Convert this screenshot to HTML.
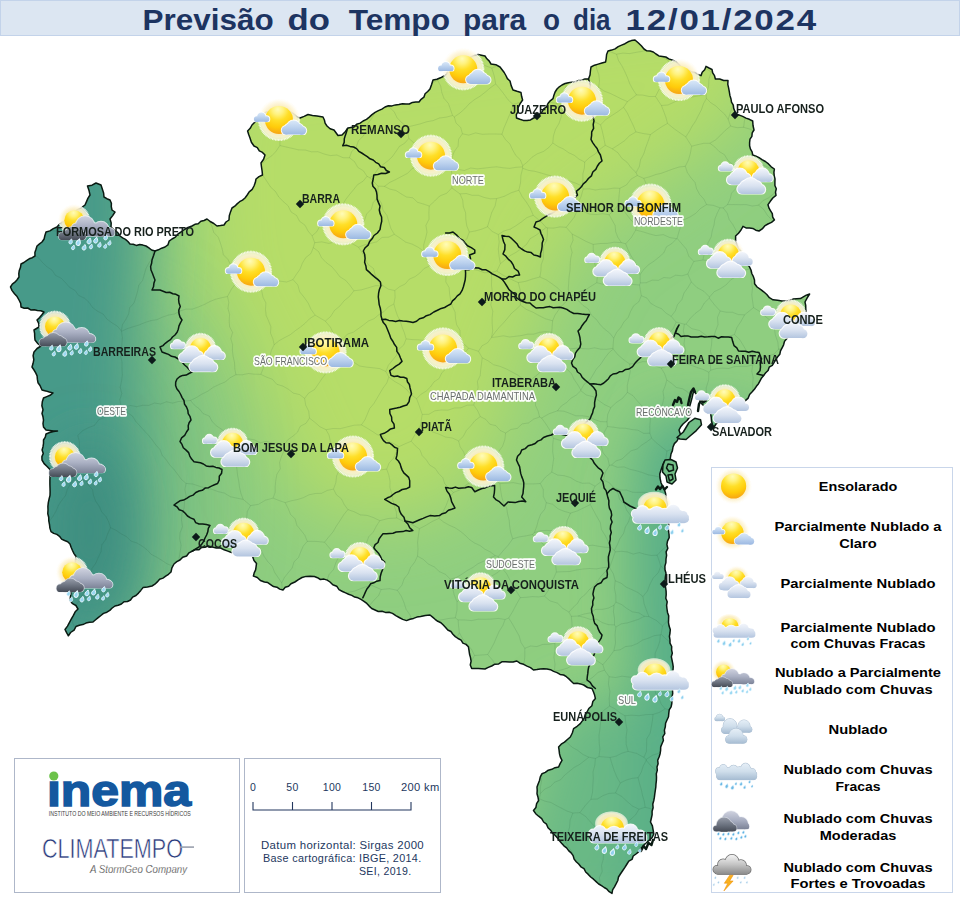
<!DOCTYPE html>
<html><head><meta charset="utf-8"><title>Previsão do Tempo</title>
<style>
html,body{margin:0;padding:0;background:#fff;}
body{width:960px;height:901px;overflow:hidden;font-family:"Liberation Sans",sans-serif;}
svg{display:block}
text{font-family:"Liberation Sans",sans-serif;}
.title{font-weight:bold;font-size:30px;fill:#1d3461;}
.city{font-weight:bold;font-size:12.5px;fill:#16201c;}
.reg{font-size:10.6px;fill:#6a6f6d;stroke:#ffffff;stroke-width:3.6px;stroke-linejoin:round;paint-order:stroke fill;stroke-opacity:.96}
.leg{font-weight:bold;font-size:13.6px;fill:#000}
.sc{font-size:10.5px;fill:#23375e;letter-spacing:.3px}
</style></head><body>
<svg width="960" height="901" viewBox="0 0 960 901">
<defs>
<filter id="blur40" filterUnits="userSpaceOnUse" x="-300" y="-300" width="1560" height="1500"><feGaussianBlur stdDeviation="38"/></filter>
<filter id="blur55" filterUnits="userSpaceOnUse" x="-400" y="-400" width="1760" height="1700"><feGaussianBlur stdDeviation="55"/></filter>
<filter id="blur30" filterUnits="userSpaceOnUse" x="-300" y="-300" width="1560" height="1500"><feGaussianBlur stdDeviation="30"/></filter>
<filter id="blur20" filterUnits="userSpaceOnUse" x="-300" y="-300" width="1560" height="1500"><feGaussianBlur stdDeviation="20"/></filter>
<filter id="blur28" filterUnits="userSpaceOnUse" x="-300" y="-300" width="1560" height="1500"><feGaussianBlur stdDeviation="26"/></filter>
<clipPath id="state"><path d="M96.0,183.0 L101.0,185.0 L102.3,188.9 L103.6,192.9 L104.0,197.0 L106.9,198.7 L110.0,200.0 L111.4,203.2 L111.3,206.7 L112.0,210.0 L115.0,212.0 L112.7,215.6 L110.0,219.0 L111.2,222.9 L111.0,227.0 L114.0,230.0 L117.6,232.4 L120.0,236.0 L122.6,237.9 L125.5,239.4 L127.9,241.5 L130.0,244.0 L133.2,244.3 L136.3,245.4 L139.7,244.6 L142.9,245.1 L146.0,246.0 L148.9,247.9 L151.6,250.0 L155.0,251.0 L158.4,249.8 L161.6,248.2 L165.0,247.0 L167.9,244.9 L169.1,241.2 L172.0,239.0 L175.4,237.1 L177.8,234.1 L181.0,232.0 L184.4,229.5 L188.0,227.4 L192.0,226.0 L194.9,224.3 L198.2,223.7 L200.8,221.3 L204.1,220.5 L207.0,219.0 L210.2,221.5 L213.8,223.5 L217.0,226.0 L220.5,225.6 L224.0,225.0 L226.0,222.0 L229.0,220.0 L229.3,215.8 L230.5,211.9 L232.0,208.0 L234.8,206.2 L237.1,203.9 L239.6,201.7 L242.5,200.1 L245.0,198.0 L247.2,195.0 L249.2,191.8 L252.2,189.3 L254.0,186.0 L255.3,182.6 L256.0,179.0 L259.0,176.6 L262.5,175.0 L262.1,171.0 L261.5,167.0 L261.0,163.0 L263.6,159.3 L265.0,155.0 L262.5,152.4 L259.3,150.8 L257.3,147.6 L254.0,146.0 L251.4,142.3 L250.0,138.0 L248.7,134.5 L247.6,131.0 L250.2,128.3 L252.0,125.0 L256.0,121.0 L257.9,118.2 L260.7,116.3 L263.0,114.0 L266.8,111.9 L271.1,111.6 L275.0,110.0 L278.7,110.9 L282.5,111.1 L286.2,112.1 L290.0,112.0 L293.5,113.7 L296.5,116.3 L300.0,118.0 L304.1,116.4 L308.0,114.5 L312.5,115.4 L317.0,116.0 L323.0,117.0 L324.4,120.0 L325.1,123.2 L327.0,126.0 L330.1,128.7 L334.0,130.0 L336.0,132.7 L338.0,135.5 L342.0,135.0 L345.2,131.7 L348.0,128.0 L354.0,127.0 L356.6,124.3 L360.2,123.1 L363.1,121.0 L366.5,119.4 L369.3,117.1 L372.0,114.6 L375.1,112.4 L378.4,110.6 L381.9,109.1 L385.0,107.0 L388.4,105.7 L392.0,105.9 L395.4,104.9 L398.9,104.4 L402.4,103.8 L406.0,104.0 L409.3,104.0 L412.4,102.4 L415.7,102.1 L419.0,102.0 L421.1,99.3 L423.9,97.2 L425.1,93.7 L427.7,91.5 L430.0,89.0 L431.6,84.5 L433.0,80.0 L436.9,79.3 L440.5,77.8 L444.0,76.0 L446.7,74.0 L448.1,70.9 L450.5,68.7 L452.6,66.2 L455.0,64.0 L458.5,63.2 L461.9,62.0 L464.6,59.4 L467.9,58.1 L471.3,56.8 L474.5,55.4 L478.0,54.5 L481.5,55.2 L485.0,56.0 L486.9,58.8 L489.3,61.1 L491.0,64.0 L495.8,64.7 L500.0,67.0 L502.1,69.7 L504.2,72.5 L505.9,75.5 L507.4,78.6 L510.0,81.0 L511.2,85.6 L513.0,90.0 L517.0,91.3 L521.0,92.5 L521.6,96.3 L522.6,100.0 L520.0,103.9 L518.0,108.0 L518.2,111.4 L516.3,114.6 L516.5,118.0 L519.9,119.3 L523.3,120.4 L527.0,120.6 L530.5,119.9 L533.6,118.0 L537.0,117.0 L539.4,114.4 L542.0,112.0 L543.7,108.9 L546.6,106.8 L548.0,103.5 L550.2,100.8 L553.0,98.6 L553.9,95.2 L555.1,92.0 L557.0,89.0 L559.3,86.8 L562.0,85.0 L565.1,83.5 L568.3,82.7 L571.6,82.2 L575.0,82.0 L578.2,80.6 L581.7,80.3 L585.0,79.0 L588.5,79.0 L590.0,75.1 L590.4,71.0 L591.0,67.0 L594.5,65.2 L598.2,64.1 L601.9,63.0 L605.6,62.0 L606.2,58.3 L606.6,54.5 L608.0,51.0 L611.6,50.1 L615.1,48.9 L618.2,46.6 L621.6,45.1 L625.0,43.7 L628.1,41.8 L631.4,40.6 L635.0,40.0 L638.2,42.8 L641.3,45.7 L644.0,49.0 L646.8,50.8 L650.2,51.0 L653.3,52.0 L656.0,54.0 L658.9,55.9 L662.4,56.4 L665.8,57.0 L668.8,58.9 L672.0,60.0 L675.6,61.3 L678.4,64.0 L681.2,66.7 L684.5,68.5 L688.0,70.0 L691.1,71.7 L694.7,72.5 L697.8,74.1 L701.0,75.7 L702.2,72.3 L704.7,69.7 L706.0,66.4 L709.0,68.0 L712.0,69.5 L712.7,72.8 L714.5,75.7 L715.4,79.0 L719.7,79.0 L723.7,80.5 L728.0,80.4 L727.8,84.3 L728.6,87.9 L729.3,91.6 L729.9,95.4 L731.0,99.0 L731.5,102.2 L733.3,105.1 L733.7,108.4 L734.9,111.4 L735.6,114.6 L739.3,115.1 L742.7,116.4 L746.0,118.1 L749.4,119.3 L752.7,121.0 L753.0,125.5 L754.0,130.0 L752.2,132.9 L751.9,136.3 L750.0,139.1 L749.6,142.5 L749.6,145.8 L750.4,148.9 L752.1,151.8 L752.7,155.0 L756.0,156.1 L759.1,157.7 L762.0,159.6 L765.4,161.5 L768.5,163.9 L771.2,166.8 L774.4,169.0 L773.9,172.3 L774.2,175.6 L775.0,178.9 L774.9,182.2 L774.9,185.5 L776.3,188.8 L775.5,192.1 L776.0,195.4 L772.8,198.0 L770.3,201.3 L768.0,204.7 L768.9,207.9 L770.6,210.8 L772.3,213.7 L772.7,217.1 L774.4,220.0 L771.5,222.4 L767.9,224.0 L764.7,225.9 L762.2,228.9 L759.0,231.0 L755.8,230.2 L752.8,228.4 L749.5,227.9 L746.0,227.9 L743.0,226.4 L741.0,230.0 L738.5,233.2 L735.6,236.0 L735.6,240.6 L737.0,245.0 L738.3,248.5 L741.0,251.2 L741.8,255.0 L744.0,258.0 L745.0,261.4 L747.3,264.1 L749.5,266.9 L751.0,270.0 L751.8,273.5 L753.4,276.7 L754.5,280.1 L754.6,283.8 L757.1,287.0 L760.5,289.3 L763.7,291.8 L766.8,294.5 L769.4,297.7 L773.0,299.8 L777.5,300.3 L782.0,301.0 L785.8,301.1 L789.4,300.6 L793.0,299.1 L796.7,298.7 L800.4,298.6 L803.3,296.8 L806.3,295.1 L809.6,294.0 L807.2,297.9 L805.0,302.0 L805.7,305.3 L805.8,308.7 L806.0,312.0 L804.5,315.7 L801.4,318.3 L800.0,322.0 L798.0,324.9 L795.6,327.6 L793.2,330.3 L790.6,332.7 L789.0,336.0 L786.7,338.7 L784.5,341.4 L783.6,344.8 L782.1,347.8 L780.5,350.9 L779.8,354.3 L777.5,357.0 L775.6,359.7 L774.0,362.6 L772.3,365.4 L769.2,367.2 L768.1,370.5 L765.7,372.8 L763.7,375.4 L761.6,377.9 L760.0,380.8 L758.5,383.7 L756.4,386.3 L754.6,389.0 L752.2,391.8 L749.6,394.5 L748.2,398.1 L745.4,400.6 L742.9,402.8 L740.7,405.5 L738.2,407.7 L735.2,409.4 L733.0,412.0 L730.2,414.0 L727.4,415.9 L724.5,417.6 L722.0,420.0 L718.6,421.4 L716.0,424.0 L713.5,428.0 L712.4,424.5 L711.5,421.0 L711.2,417.0 L710.5,413.0 L708.3,410.5 L706.0,408.0 L703.5,405.5 L701.0,403.0 L699.5,399.8 L697.5,397.0 L695.7,393.5 L694.0,390.0 L692.9,394.0 L692.0,398.0 L690.8,402.5 L689.5,407.0 L689.3,411.6 L690.5,416.0 L687.0,420.5 L683.0,424.0 L680.7,426.8 L679.0,430.0 L681.0,436.0 L678.5,438.1 L677.0,441.0 L674.4,443.6 L673.0,447.0 L672.4,450.6 L671.0,454.0 L670.0,460.0 L664.0,462.0 L662.4,466.0 L661.0,470.0 L659.8,473.9 L660.0,478.0 L661.0,482.7 L663.0,487.0 L664.6,490.2 L665.6,493.5 L666.0,497.0 L666.4,500.4 L667.3,503.7 L667.3,507.1 L667.8,510.4 L667.1,513.8 L667.2,517.2 L667.2,520.6 L668.8,523.9 L668.1,527.3 L668.5,530.7 L669.0,534.0 L669.2,537.6 L667.5,541.1 L666.9,544.6 L667.8,548.3 L666.1,551.8 L666.6,555.4 L666.0,559.0 L665.9,562.6 L664.9,566.1 L665.0,569.7 L666.0,573.3 L665.4,576.9 L665.1,580.4 L665.0,584.0 L665.6,587.5 L666.1,591.1 L666.2,594.7 L665.8,598.3 L667.2,601.8 L666.6,605.4 L667.0,609.0 L667.5,612.4 L668.7,615.8 L668.6,619.3 L668.5,622.7 L669.1,626.1 L670.3,629.5 L670.0,633.0 L669.4,636.4 L670.0,639.8 L670.0,643.2 L671.7,646.5 L671.6,649.8 L672.3,653.2 L671.3,656.7 L672.0,660.0 L672.7,663.3 L673.2,666.7 L673.0,670.1 L672.4,673.5 L672.9,676.8 L674.1,680.1 L674.0,683.5 L674.2,686.9 L672.5,690.0 L672.7,693.4 L672.1,696.7 L672.0,700.0 L671.8,703.5 L671.1,706.8 L669.2,709.9 L668.8,713.4 L668.5,716.8 L667.0,720.0 L665.6,723.2 L665.3,726.7 L664.4,730.1 L664.8,733.7 L662.8,736.8 L663.4,740.5 L662.0,743.7 L660.7,746.9 L660.6,750.4 L660.1,753.7 L659.1,757.0 L657.7,760.2 L658.1,763.8 L657.0,767.0 L657.3,770.4 L656.3,773.7 L656.5,777.1 L656.4,780.5 L656.0,783.8 L655.8,787.2 L655.3,790.5 L654.8,793.8 L654.4,797.2 L653.8,800.5 L652.8,804.0 L653.1,807.7 L652.1,811.2 L652.1,814.9 L651.3,818.5 L650.5,822.0 L652.4,825.8 L653.1,829.9 L653.8,834.0 L652.0,837.8 L648.8,840.6 L645.8,843.1 L643.2,846.1 L640.5,849.0 L638.6,851.9 L636.0,854.0 L633.2,856.0 L632.0,859.4 L628.8,861.1 L627.0,864.0 L624.9,867.4 L622.6,870.7 L620.4,874.0 L618.5,877.0 L617.8,880.5 L616.2,883.7 L614.5,886.8 L612.6,889.8 L612.0,893.4 L609.2,891.7 L607.0,889.2 L604.2,887.5 L601.5,885.7 L598.7,884.0 L596.1,881.6 L593.5,879.2 L590.7,877.0 L588.3,874.4 L585.7,872.0 L584.0,868.7 L580.9,866.8 L578.7,864.0 L576.2,861.7 L574.1,859.1 L573.1,855.6 L571.1,852.9 L568.6,850.6 L566.6,847.9 L563.9,845.8 L561.6,843.3 L559.5,840.8 L557.5,838.1 L555.3,835.5 L552.5,833.2 L550.6,830.2 L548.0,827.7 L546.5,824.2 L543.6,822.0 L541.7,818.6 L538.6,816.2 L535.7,813.7 L533.5,810.5 L535.9,807.5 L536.6,803.7 L538.6,800.5 L538.0,797.2 L537.0,793.8 L537.2,790.4 L537.0,787.0 L538.2,783.7 L539.5,780.4 L540.3,776.8 L542.0,773.7 L545.3,772.4 L548.3,770.2 L551.8,769.3 L555.0,767.7 L558.6,767.0 L560.1,763.6 L562.0,760.4 L560.4,757.2 L559.5,753.9 L559.1,750.4 L558.6,747.0 L561.2,744.2 L564.5,742.1 L567.4,739.5 L570.3,737.0 L572.3,733.0 L573.6,728.6 L577.1,726.3 L580.3,723.6 L582.3,720.9 L584.2,718.1 L585.2,714.8 L587.0,712.0 L588.8,708.5 L591.9,705.7 L592.8,701.6 L595.4,698.6 L594.6,695.1 L593.4,691.8 L592.0,688.5 L587.5,687.5 L583.7,685.0 L580.4,683.9 L577.1,683.3 L573.6,683.5 L571.2,681.2 L568.9,678.9 L566.4,676.7 L563.6,675.0 L560.1,674.4 L557.0,672.6 L553.6,671.4 L550.5,669.7 L547.0,669.0 L543.6,668.7 L540.2,668.9 L536.9,669.6 L533.5,670.0 L530.5,667.6 L527.0,666.1 L523.6,664.3 L519.9,663.2 L516.8,661.0 L513.1,662.0 L509.3,662.0 L505.6,661.8 L501.8,661.8 L498.7,663.9 L494.9,664.2 L491.7,666.0 L488.3,667.4 L485.0,669.0 L481.7,668.7 L478.4,668.4 L475.0,668.6 L471.7,668.5 L470.3,665.0 L471.1,661.2 L470.5,657.6 L469.5,654.0 L469.0,650.4 L468.4,646.8 L466.0,644.4 L462.9,643.1 L461.1,640.1 L458.0,638.5 L455.3,636.6 L452.9,634.2 L450.9,631.5 L447.8,630.0 L445.6,627.5 L443.3,625.1 L440.9,622.7 L437.8,621.3 L435.1,619.3 L432.6,617.1 L430.0,615.0 L425.3,615.4 L420.6,616.5 L416.9,617.1 L413.5,618.4 L410.0,619.3 L406.5,620.6 L402.7,619.4 L399.2,617.5 L395.8,615.6 L392.5,613.4 L389.1,612.3 L385.4,612.4 L382.0,611.2 L378.3,611.5 L375.0,610.0 L371.7,608.5 L369.2,606.1 L366.8,603.4 L364.0,601.3 L361.0,599.4 L358.0,597.8 L354.7,597.1 L351.8,595.4 L348.6,594.2 L345.6,592.9 L342.5,591.5 L339.0,589.6 L336.7,586.2 L332.8,584.8 L330.0,582.0 L327.2,580.1 L324.0,579.1 L320.4,579.5 L317.5,577.7 L314.4,576.5 L310.2,576.3 L306.1,576.4 L302.0,577.5 L298.4,579.7 L294.9,582.0 L291.0,583.8 L288.6,586.2 L285.2,587.3 L283.0,590.0 L279.7,589.1 L276.9,587.2 L273.5,586.6 L270.6,584.6 L267.8,582.6 L264.4,582.0 L260.4,580.5 L257.3,577.5 L253.4,576.0 L254.2,572.9 L255.6,569.9 L256.1,566.7 L256.5,563.5 L254.0,560.6 L252.7,556.8 L250.0,554.0 L246.3,553.7 L242.5,554.2 L238.8,553.9 L235.2,552.8 L231.5,552.5 L227.8,551.1 L224.1,549.8 L220.6,548.0 L216.3,547.9 L212.2,546.9 L208.0,546.0 L205.0,547.3 L201.6,547.4 L199.0,549.8 L195.5,549.6 L192.5,551.0 L189.0,552.8 L186.6,556.0 L182.7,557.2 L180.0,560.0 L176.8,561.7 L174.0,564.0 L171.9,567.8 L171.0,572.0 L168.5,574.3 L165.7,576.2 L163.0,578.1 L159.6,579.3 L157.3,581.9 L154.9,584.2 L152.0,586.0 L147.5,586.9 L143.0,587.6 L140.8,590.4 L138.5,593.1 L136.0,595.5 L132.6,597.1 L130.5,600.0 L127.5,601.5 L124.0,601.7 L121.4,604.0 L118.2,605.2 L115.0,606.0 L112.2,608.0 L109.8,610.4 L106.9,612.2 L103.5,613.4 L100.9,615.5 L98.2,617.6 L95.6,619.8 L93.0,622.0 L89.4,622.2 L86.0,623.1 L82.8,624.6 L79.3,625.2 L76.0,626.5 L74.1,630.1 L70.6,632.5 L68.4,635.8 L66.6,632.7 L65.0,629.5 L67.5,626.1 L69.5,622.4 L71.5,618.7 L73.4,615.3 L75.2,611.8 L78.0,609.0 L75.9,605.5 L72.2,603.4 L70.0,600.0 L70.5,596.4 L70.9,592.8 L71.4,589.2 L72.7,585.8 L73.7,582.3 L73.0,578.5 L74.0,575.0 L74.7,571.3 L74.5,567.6 L75.3,563.9 L75.4,560.2 L76.0,556.5 L74.0,553.6 L72.5,550.5 L71.1,547.3 L70.0,544.0 L67.7,541.7 L64.6,540.5 L61.6,539.1 L59.5,536.3 L56.9,534.4 L53.7,533.4 L51.0,531.6 L49.9,528.1 L49.5,524.5 L48.8,520.9 L48.7,517.2 L47.8,513.7 L48.0,510.0 L47.9,506.3 L48.3,502.6 L49.1,499.0 L50.0,495.4 L50.1,491.7 L50.0,488.0 L49.9,484.3 L49.9,480.6 L50.0,476.9 L49.8,473.2 L50.0,469.5 L47.1,466.5 L44.1,463.6 L42.0,460.0 L41.9,456.6 L43.3,453.4 L42.1,450.0 L43.0,446.7 L43.5,443.3 L43.5,440.0 L45.3,437.2 L46.0,434.0 L49.7,432.5 L53.6,431.6 L57.5,431.0 L53.6,431.1 L49.8,430.5 L46.0,430.0 L43.5,427.0 L43.0,423.6 L43.5,420.2 L43.0,416.8 L42.0,413.5 L43.0,409.7 L41.9,405.7 L42.3,401.8 L43.5,398.0 L46.8,396.6 L50.1,395.3 L53.0,393.0 L49.3,392.0 L45.7,390.9 L42.0,390.0 L40.0,385.5 L38.0,382.7 L37.4,379.4 L37.1,375.9 L35.7,372.9 L34.0,370.0 L32.0,367.0 L33.1,363.3 L33.8,359.6 L33.1,355.7 L34.0,352.0 L37.1,348.5 L41.0,346.0 L37.6,343.4 L35.0,340.0 L34.7,336.7 L34.6,333.3 L34.0,330.0 L39.0,327.0 L38.7,323.3 L37.0,320.0 L39.6,317.6 L41.9,314.8 L44.0,312.0 L40.8,310.8 L37.4,310.6 L34.2,309.8 L30.7,309.9 L27.7,308.0 L24.2,308.2 L21.0,307.0 L20.7,303.3 L19.0,300.0 L17.1,296.6 L14.5,293.7 L12.1,290.6 L10.5,287.0 L12.3,284.2 L14.9,282.2 L17.1,279.7 L19.0,277.0 L18.8,273.6 L19.3,270.4 L20.5,267.3 L21.0,264.0 L23.9,262.5 L26.5,260.6 L29.2,258.8 L32.3,257.7 L35.0,256.0 L34.9,252.5 L36.0,249.3 L37.0,246.0 L39.5,243.9 L42.0,242.0 L44.1,239.0 L44.9,235.4 L46.0,232.0 L49.9,230.9 L53.3,228.6 L57.0,227.0 L59.2,224.5 L61.7,222.4 L65.0,221.2 L67.2,218.8 L69.3,216.1 L71.5,213.6 L74.5,212.1 L77.0,210.0 L81.2,207.8 L85.0,205.0 L86.5,201.6 L88.0,198.1 L90.0,195.0 L89.0,190.4 L87.5,186.0 L92.0,185.2 Z"/></clipPath>
<radialGradient id="gsun" cx=".46" cy=".12" r=".95"><stop offset="0" stop-color="#fffbb8"/><stop offset=".2" stop-color="#fff27e"/><stop offset=".42" stop-color="#ffdf28"/><stop offset=".68" stop-color="#ffcb0a"/><stop offset="1" stop-color="#f4991a"/></radialGradient>
<radialGradient id="gglow"><stop offset="0" stop-color="#fbebb4" stop-opacity="1"/><stop offset=".66" stop-color="#fbedbe" stop-opacity=".96"/><stop offset=".8" stop-color="#fdf4d6" stop-opacity=".9"/><stop offset=".93" stop-color="#fffaea" stop-opacity=".7"/><stop offset="1" stop-color="#ffffff" stop-opacity="0"/></radialGradient>
<linearGradient id="gcl" x1="0" y1="0" x2="0" y2="1"><stop offset="0" stop-color="#e6eefa"/><stop offset=".55" stop-color="#cfdcf0"/><stop offset="1" stop-color="#a9bfe2"/></linearGradient>
<linearGradient id="gclb" x1="0" y1="0" x2="0" y2="1"><stop offset="0" stop-color="#d3e4f6"/><stop offset=".55" stop-color="#bdd3ee"/><stop offset="1" stop-color="#9fbce3"/></linearGradient>
<linearGradient id="ggrey" x1="0" y1="0" x2="0" y2="1"><stop offset="0" stop-color="#c9cdda"/><stop offset=".55" stop-color="#a9aec0"/><stop offset="1" stop-color="#7f8598"/></linearGradient>
<linearGradient id="gdark" x1="0" y1="0" x2="0" y2="1"><stop offset="0" stop-color="#9097a4"/><stop offset=".6" stop-color="#6c7380"/><stop offset="1" stop-color="#4a505b"/></linearGradient>
<radialGradient id="gstorm" cx=".5" cy=".4" r=".7"><stop offset="0" stop-color="#f2f2f2"/><stop offset=".6" stop-color="#bdbdbd"/><stop offset="1" stop-color="#7c7c7c"/></radialGradient>
<linearGradient id="pg1" gradientUnits="userSpaceOnUse" x1="0" y1="-7.40" x2="0" y2="1.70"><stop offset="0" stop-color="#d9e8f8"/><stop offset=".5" stop-color="#bcd2ee"/><stop offset="1" stop-color="#9cb9e2"/></linearGradient><clipPath id="pc2"><rect x="-80" y="-80" width="160" height="82.20"/></clipPath><linearGradient id="pg3" gradientUnits="userSpaceOnUse" x1="0" y1="0.50" x2="0" y2="14.60"><stop offset="0" stop-color="#d9e8f8"/><stop offset=".5" stop-color="#bcd2ee"/><stop offset="1" stop-color="#9cb9e2"/></linearGradient><clipPath id="pc4"><rect x="-80" y="-80" width="160" height="95.10"/></clipPath><linearGradient id="pg5" gradientUnits="userSpaceOnUse" x1="0" y1="-4.95" x2="0" y2="3.80"><stop offset="0" stop-color="#f2f5fb"/><stop offset=".5" stop-color="#d9e2f0"/><stop offset="1" stop-color="#b3c5df"/></linearGradient><clipPath id="pc6"><rect x="-80" y="-80" width="160" height="84.30"/></clipPath><linearGradient id="pg7" gradientUnits="userSpaceOnUse" x1="0" y1="1.40" x2="0" y2="17.50"><stop offset="0" stop-color="#f2f5fb"/><stop offset=".5" stop-color="#d9e2f0"/><stop offset="1" stop-color="#b3c5df"/></linearGradient><clipPath id="pc8"><rect x="-80" y="-80" width="160" height="98.05"/></clipPath><linearGradient id="pg9" gradientUnits="userSpaceOnUse" x1="0" y1="1.25" x2="0" y2="14.60"><stop offset="0" stop-color="#f2f5fb"/><stop offset=".5" stop-color="#d9e2f0"/><stop offset="1" stop-color="#b3c5df"/></linearGradient><clipPath id="pc10"><rect x="-80" y="-80" width="160" height="95.15"/></clipPath><linearGradient id="pg11" gradientUnits="userSpaceOnUse" x1="0" y1="10.90" x2="0" y2="26.70"><stop offset="0" stop-color="#f2f5fb"/><stop offset=".5" stop-color="#d9e2f0"/><stop offset="1" stop-color="#b3c5df"/></linearGradient><clipPath id="pc12"><rect x="-80" y="-80" width="160" height="107.25"/></clipPath><linearGradient id="pg13" gradientUnits="userSpaceOnUse" x1="0" y1="0.20" x2="0" y2="18.75"><stop offset="0" stop-color="#f2f5fb"/><stop offset=".5" stop-color="#d9e2f0"/><stop offset="1" stop-color="#b3c5df"/></linearGradient><clipPath id="pc14"><rect x="-80" y="-80" width="160" height="99.30"/></clipPath><linearGradient id="pg15" gradientUnits="userSpaceOnUse" x1="0" y1="-2.10" x2="0" y2="17.90"><stop offset="0" stop-color="#cfd2df"/><stop offset=".5" stop-color="#aab0c3"/><stop offset="1" stop-color="#7d8498"/></linearGradient><clipPath id="pc16"><rect x="-80" y="-80" width="160" height="98.35"/></clipPath><linearGradient id="pg17" gradientUnits="userSpaceOnUse" x1="0" y1="8.40" x2="0" y2="21.65"><stop offset="0" stop-color="#959ba8"/><stop offset=".5" stop-color="#6e7582"/><stop offset="1" stop-color="#474d58"/></linearGradient><clipPath id="pc18"><rect x="-80" y="-80" width="160" height="102.05"/></clipPath><linearGradient id="pg19" gradientUnits="userSpaceOnUse" x1="0" y1="-4.95" x2="0" y2="3.80"><stop offset="0" stop-color="#f2f5fb"/><stop offset=".5" stop-color="#d9e2f0"/><stop offset="1" stop-color="#b3c5df"/></linearGradient><clipPath id="pc20"><rect x="-80" y="-80" width="160" height="84.30"/></clipPath><linearGradient id="pg21" gradientUnits="userSpaceOnUse" x1="0" y1="1.40" x2="0" y2="17.50"><stop offset="0" stop-color="#f2f5fb"/><stop offset=".5" stop-color="#d9e2f0"/><stop offset="1" stop-color="#b3c5df"/></linearGradient><clipPath id="pc22"><rect x="-80" y="-80" width="160" height="98.05"/></clipPath><linearGradient id="pg23" gradientUnits="userSpaceOnUse" x1="0" y1="1.25" x2="0" y2="14.60"><stop offset="0" stop-color="#f2f5fb"/><stop offset=".5" stop-color="#d9e2f0"/><stop offset="1" stop-color="#b3c5df"/></linearGradient><clipPath id="pc24"><rect x="-80" y="-80" width="160" height="95.15"/></clipPath><linearGradient id="pg25" gradientUnits="userSpaceOnUse" x1="0" y1="10.90" x2="0" y2="26.70"><stop offset="0" stop-color="#f2f5fb"/><stop offset=".5" stop-color="#d9e2f0"/><stop offset="1" stop-color="#b3c5df"/></linearGradient><clipPath id="pc26"><rect x="-80" y="-80" width="160" height="107.25"/></clipPath><linearGradient id="pg27" gradientUnits="userSpaceOnUse" x1="0" y1="0.20" x2="0" y2="18.75"><stop offset="0" stop-color="#f2f5fb"/><stop offset=".5" stop-color="#d9e2f0"/><stop offset="1" stop-color="#b3c5df"/></linearGradient><clipPath id="pc28"><rect x="-80" y="-80" width="160" height="99.30"/></clipPath><linearGradient id="pg29" gradientUnits="userSpaceOnUse" x1="0" y1="-2.10" x2="0" y2="17.90"><stop offset="0" stop-color="#cfd2df"/><stop offset=".5" stop-color="#aab0c3"/><stop offset="1" stop-color="#7d8498"/></linearGradient><clipPath id="pc30"><rect x="-80" y="-80" width="160" height="98.35"/></clipPath><linearGradient id="pg31" gradientUnits="userSpaceOnUse" x1="0" y1="8.40" x2="0" y2="21.65"><stop offset="0" stop-color="#959ba8"/><stop offset=".5" stop-color="#6e7582"/><stop offset="1" stop-color="#474d58"/></linearGradient><clipPath id="pc32"><rect x="-80" y="-80" width="160" height="102.05"/></clipPath><linearGradient id="pg33" gradientUnits="userSpaceOnUse" x1="0" y1="-12.00" x2="0" y2="13.50"><stop offset="0" stop-color="#f4f4f4"/><stop offset=".5" stop-color="#c4c4c4"/><stop offset="1" stop-color="#8a8a8a"/></linearGradient><clipPath id="pc34"><rect x="-80" y="-80" width="160" height="94.00"/></clipPath><linearGradient id="pg35" gradientUnits="userSpaceOnUse" x1="0" y1="-14.70" x2="0" y2="-8.00"><stop offset="0" stop-color="#e6eff7"/><stop offset=".5" stop-color="#cfdeeb"/><stop offset="1" stop-color="#a6bcd2"/></linearGradient><clipPath id="pc36"><rect x="-80" y="-80" width="160" height="72.22"/></clipPath><linearGradient id="pg37" gradientUnits="userSpaceOnUse" x1="0" y1="-10.30" x2="0" y2="4.80"><stop offset="0" stop-color="#e6eff7"/><stop offset=".5" stop-color="#cfdeeb"/><stop offset="1" stop-color="#a6bcd2"/></linearGradient><clipPath id="pc38"><rect x="-80" y="-80" width="160" height="85.02"/></clipPath><linearGradient id="pg39" gradientUnits="userSpaceOnUse" x1="0" y1="-9.00" x2="0" y2="3.50"><stop offset="0" stop-color="#e6eff7"/><stop offset=".5" stop-color="#cfdeeb"/><stop offset="1" stop-color="#a6bcd2"/></linearGradient><clipPath id="pc40"><rect x="-80" y="-80" width="160" height="83.72"/></clipPath><linearGradient id="pg41" gradientUnits="userSpaceOnUse" x1="0" y1="-0.50" x2="0" y2="14.50"><stop offset="0" stop-color="#e6eff7"/><stop offset=".5" stop-color="#cfdeeb"/><stop offset="1" stop-color="#a6bcd2"/></linearGradient><clipPath id="pc42"><rect x="-80" y="-80" width="160" height="94.72"/></clipPath><linearGradient id="pg43" gradientUnits="userSpaceOnUse" x1="0" y1="0.20" x2="0" y2="18.75"><stop offset="0" stop-color="#e6eff7"/><stop offset=".5" stop-color="#cfdeeb"/><stop offset="1" stop-color="#a6bcd2"/></linearGradient><clipPath id="pc44"><rect x="-80" y="-80" width="160" height="99.05"/></clipPath><linearGradient id="pg45" gradientUnits="userSpaceOnUse" x1="0" y1="-11.00" x2="0" y2="7.00"><stop offset="0" stop-color="#cfd2df"/><stop offset=".5" stop-color="#aab0c3"/><stop offset="1" stop-color="#7d8498"/></linearGradient><clipPath id="pc46"><rect x="-80" y="-80" width="160" height="87.35"/></clipPath><linearGradient id="pg47" gradientUnits="userSpaceOnUse" x1="0" y1="-4.50" x2="0" y2="9.40"><stop offset="0" stop-color="#959ba8"/><stop offset=".5" stop-color="#6e7582"/><stop offset="1" stop-color="#474d58"/></linearGradient><clipPath id="pc48"><rect x="-80" y="-80" width="160" height="89.75"/></clipPath>
<g id="t1"><circle cx="0" cy="0" r="17" fill="url(#gglow)"/><circle cx="0" cy="0" r="16.1" fill="none" stroke="#fffdf4" stroke-width="2" stroke-dasharray="0.8 0.7" stroke-opacity=".85"/><circle cx="0" cy="0" r="12" fill="url(#gsun)"/></g><g id="t2"><circle cx="0" cy="0" r="21" fill="url(#gglow)"/><circle cx="0" cy="0" r="20.1" fill="none" stroke="#fffdf4" stroke-width="2" stroke-dasharray="0.8 0.7" stroke-opacity=".85"/><circle cx="0" cy="0" r="14" fill="url(#gsun)"/><g clip-path="url(#pc2)"><g fill="#ffffff" stroke="#ffffff" stroke-width="2.00" opacity="0.92"><circle cx="-17.60" cy="-3.20" r="4.20"/><circle cx="-22.30" cy="-0.90" r="2.90"/><circle cx="-12.60" cy="-0.90" r="2.90"/><rect x="-23.60" y="-2.12" width="12.31" height="3.82" rx="2.37" ry="2.37"/></g><g fill="url(#pg1)"><circle cx="-17.60" cy="-3.20" r="4.20"/><circle cx="-22.30" cy="-0.90" r="2.90"/><circle cx="-12.60" cy="-0.90" r="2.90"/><rect x="-23.60" y="-2.12" width="12.31" height="3.82" rx="2.37" ry="2.37"/></g></g><g clip-path="url(#pc4)"><g fill="#ffffff" stroke="#ffffff" stroke-width="2.00" opacity="0.92"><circle cx="14.60" cy="7.20" r="6.70"/><circle cx="7.00" cy="10.30" r="4.20"/><circle cx="23.00" cy="10.60" r="4.20"/><circle cx="10.30" cy="8.20" r="4.50"/><circle cx="19.30" cy="8.50" r="4.80"/><rect x="4.98" y="8.68" width="20.04" height="5.92" rx="3.67" ry="3.67"/></g><g fill="url(#pg3)"><circle cx="14.60" cy="7.20" r="6.70"/><circle cx="7.00" cy="10.30" r="4.20"/><circle cx="23.00" cy="10.60" r="4.20"/><circle cx="10.30" cy="8.20" r="4.50"/><circle cx="19.30" cy="8.50" r="4.80"/><rect x="4.98" y="8.68" width="20.04" height="5.92" rx="3.67" ry="3.67"/></g></g></g><g id="t3"><circle cx="0" cy="3.6" r="15.6" fill="url(#gglow)"/><circle cx="0" cy="3.6" r="14.7" fill="none" stroke="#fffdf4" stroke-width="2" stroke-dasharray="0.8 0.7" stroke-opacity=".85"/><circle cx="0" cy="3.6" r="10.6" fill="url(#gsun)"/><g clip-path="url(#pc6)"><g fill="#ffffff" stroke="#ffffff" stroke-width="2.00" opacity="0.92"><circle cx="-23.35" cy="-1.20" r="3.75"/><circle cx="-18.80" cy="0.70" r="3.10"/><circle cx="-27.10" cy="1.10" r="2.60"/><rect x="-28.35" y="0.12" width="10.81" height="3.67" rx="2.28" ry="2.28"/></g><g fill="url(#pg5)"><circle cx="-23.35" cy="-1.20" r="3.75"/><circle cx="-18.80" cy="0.70" r="3.10"/><circle cx="-27.10" cy="1.10" r="2.60"/><rect x="-28.35" y="0.12" width="10.81" height="3.67" rx="2.28" ry="2.28"/></g></g><g clip-path="url(#pc8)"><g fill="#ffffff" stroke="#ffffff" stroke-width="2.20" opacity="0.92"><circle cx="-8.80" cy="8.40" r="7.00"/><circle cx="-17.10" cy="12.70" r="4.40"/><circle cx="-13.00" cy="10.00" r="5.20"/><circle cx="-2.50" cy="11.50" r="5.00"/><rect x="-19.41" y="10.74" width="19.21" height="6.76" rx="4.19" ry="4.19"/></g><g fill="url(#pg7)"><circle cx="-8.80" cy="8.40" r="7.00"/><circle cx="-17.10" cy="12.70" r="4.40"/><circle cx="-13.00" cy="10.00" r="5.20"/><circle cx="-2.50" cy="11.50" r="5.00"/><rect x="-19.41" y="10.74" width="19.21" height="6.76" rx="4.19" ry="4.19"/></g></g><g clip-path="url(#pc10)"><g fill="#ffffff" stroke="#ffffff" stroke-width="2.20" opacity="0.92"><circle cx="13.70" cy="7.95" r="6.70"/><circle cx="20.40" cy="11.00" r="3.75"/><circle cx="8.70" cy="10.00" r="4.40"/><rect x="6.79" y="8.99" width="15.52" height="5.61" rx="3.48" ry="3.48"/></g><g fill="url(#pg9)"><circle cx="13.70" cy="7.95" r="6.70"/><circle cx="20.40" cy="11.00" r="3.75"/><circle cx="8.70" cy="10.00" r="4.40"/><rect x="6.79" y="8.99" width="15.52" height="5.61" rx="3.48" ry="3.48"/></g></g><g clip-path="url(#pc12)"><g fill="#ffffff" stroke="#ffffff" stroke-width="2.20" opacity="0.92"><circle cx="2.10" cy="18.40" r="7.50"/><circle cx="-6.30" cy="21.90" r="4.80"/><circle cx="12.10" cy="22.30" r="4.50"/><circle cx="-2.50" cy="19.50" r="6.00"/><circle cx="7.50" cy="19.80" r="6.00"/><rect x="-8.56" y="20.06" width="22.93" height="6.64" rx="4.11" ry="4.11"/></g><g fill="url(#pg11)"><circle cx="2.10" cy="18.40" r="7.50"/><circle cx="-6.30" cy="21.90" r="4.80"/><circle cx="12.10" cy="22.30" r="4.50"/><circle cx="-2.50" cy="19.50" r="6.00"/><circle cx="7.50" cy="19.80" r="6.00"/><rect x="-8.56" y="20.06" width="22.93" height="6.64" rx="4.11" ry="4.11"/></g></g></g><g id="t4"><ellipse cx="0.2" cy="-0.8" rx="17" ry="12.5" fill="url(#gglow)"/><circle cx="1" cy="4" r="11.6" fill="url(#gsun)"/><g clip-path="url(#pc14)"><g fill="#ffffff" stroke="#ffffff" stroke-width="2.20" opacity="0.92"><circle cx="-11.50" cy="7.50" r="5.80"/><circle cx="-18.20" cy="9.20" r="3.90"/><circle cx="2.70" cy="10.00" r="7.50"/><circle cx="19.30" cy="6.90" r="6.70"/><circle cx="29.30" cy="10.60" r="4.20"/><circle cx="32.30" cy="12.60" r="2.60"/><circle cx="11.00" cy="10.50" r="6.20"/><circle cx="-4.50" cy="11.00" r="5.80"/><circle cx="25.00" cy="10.50" r="5.00"/><rect x="-20.86" y="10.96" width="55.81" height="7.79" rx="4.83" ry="4.83"/></g><g fill="url(#pg13)"><circle cx="-11.50" cy="7.50" r="5.80"/><circle cx="-18.20" cy="9.20" r="3.90"/><circle cx="2.70" cy="10.00" r="7.50"/><circle cx="19.30" cy="6.90" r="6.70"/><circle cx="29.30" cy="10.60" r="4.20"/><circle cx="32.30" cy="12.60" r="2.60"/><circle cx="11.00" cy="10.50" r="6.20"/><circle cx="-4.50" cy="11.00" r="5.80"/><circle cx="25.00" cy="10.50" r="5.00"/><rect x="-20.86" y="10.96" width="55.81" height="7.79" rx="4.83" ry="4.83"/></g></g><path transform="translate(-15.0,23.5) scale(1.0)" d="M1.6,-3.4 C2.5,-1 3.1,0.4 1.6,1.8 C0.2,2.9 -1.9,1.7 -1.3,-0.3 C-0.8,-1.7 0.6,-2.3 1.6,-3.4 Z" fill="#8fd0ee" stroke="#e8f7ff" stroke-width=".9"/><path transform="translate(-7.5,26.5) scale(1.15)" d="M1.6,-3.4 C2.5,-1 3.1,0.4 1.6,1.8 C0.2,2.9 -1.9,1.7 -1.3,-0.3 C-0.8,-1.7 0.6,-2.3 1.6,-3.4 Z" fill="#8fd0ee" stroke="#e8f7ff" stroke-width=".9"/><path transform="translate(0.5,28.5) scale(1.15)" d="M1.6,-3.4 C2.5,-1 3.1,0.4 1.6,1.8 C0.2,2.9 -1.9,1.7 -1.3,-0.3 C-0.8,-1.7 0.6,-2.3 1.6,-3.4 Z" fill="#8fd0ee" stroke="#e8f7ff" stroke-width=".9"/><path transform="translate(5.5,23.0) scale(0.8)" d="M1.6,-3.4 C2.5,-1 3.1,0.4 1.6,1.8 C0.2,2.9 -1.9,1.7 -1.3,-0.3 C-0.8,-1.7 0.6,-2.3 1.6,-3.4 Z" fill="#8fd0ee" stroke="#e8f7ff" stroke-width=".9"/><path transform="translate(12.5,23.5) scale(1.0)" d="M1.6,-3.4 C2.5,-1 3.1,0.4 1.6,1.8 C0.2,2.9 -1.9,1.7 -1.3,-0.3 C-0.8,-1.7 0.6,-2.3 1.6,-3.4 Z" fill="#8fd0ee" stroke="#e8f7ff" stroke-width=".9"/><path transform="translate(17.5,28.0) scale(0.9)" d="M1.6,-3.4 C2.5,-1 3.1,0.4 1.6,1.8 C0.2,2.9 -1.9,1.7 -1.3,-0.3 C-0.8,-1.7 0.6,-2.3 1.6,-3.4 Z" fill="#8fd0ee" stroke="#e8f7ff" stroke-width=".9"/><path transform="translate(24.5,20.5) scale(0.8)" d="M1.6,-3.4 C2.5,-1 3.1,0.4 1.6,1.8 C0.2,2.9 -1.9,1.7 -1.3,-0.3 C-0.8,-1.7 0.6,-2.3 1.6,-3.4 Z" fill="#8fd0ee" stroke="#e8f7ff" stroke-width=".9"/><path transform="translate(28.0,26.5) scale(0.7)" d="M1.6,-3.4 C2.5,-1 3.1,0.4 1.6,1.8 C0.2,2.9 -1.9,1.7 -1.3,-0.3 C-0.8,-1.7 0.6,-2.3 1.6,-3.4 Z" fill="#8fd0ee" stroke="#e8f7ff" stroke-width=".9"/></g><g id="t5"><circle cx="0" cy="2" r="15.8" fill="url(#gglow)"/><circle cx="0" cy="2" r="14.9" fill="none" stroke="#fffdf4" stroke-width="2" stroke-dasharray="0.8 0.7" stroke-opacity=".85"/><circle cx="0" cy="2" r="10" fill="url(#gsun)"/><g clip-path="url(#pc16)"><g fill="#eef0f6" stroke="#eef0f6" stroke-width="1.80" opacity="0.85"><circle cx="10.80" cy="7.10" r="9.20"/><circle cx="26.70" cy="11.00" r="7.60"/><circle cx="36.70" cy="14.40" r="3.60"/><circle cx="1.70" cy="9.50" r="4.20"/><circle cx="19.00" cy="11.00" r="6.30"/><rect x="-1.16" y="9.50" width="40.73" height="8.40" rx="5.21" ry="5.21"/></g><g fill="url(#pg15)"><circle cx="10.80" cy="7.10" r="9.20"/><circle cx="26.70" cy="11.00" r="7.60"/><circle cx="36.70" cy="14.40" r="3.60"/><circle cx="1.70" cy="9.50" r="4.20"/><circle cx="19.00" cy="11.00" r="6.30"/><rect x="-1.16" y="9.50" width="40.73" height="8.40" rx="5.21" ry="5.21"/></g></g><g clip-path="url(#pc18)"><g fill="#d5d9e0" stroke="#d5d9e0" stroke-width="1.60" opacity="0.8"><circle cx="-1.70" cy="15.40" r="7.00"/><circle cx="-11.70" cy="18.00" r="3.90"/><circle cx="7.50" cy="17.70" r="4.20"/><circle cx="-7.00" cy="16.80" r="5.20"/><circle cx="3.50" cy="16.50" r="5.50"/><rect x="-13.60" y="16.09" width="23.00" height="5.56" rx="3.45" ry="3.45"/></g><g fill="url(#pg17)"><circle cx="-1.70" cy="15.40" r="7.00"/><circle cx="-11.70" cy="18.00" r="3.90"/><circle cx="7.50" cy="17.70" r="4.20"/><circle cx="-7.00" cy="16.80" r="5.20"/><circle cx="3.50" cy="16.50" r="5.50"/><rect x="-13.60" y="16.09" width="23.00" height="5.56" rx="3.45" ry="3.45"/></g></g><path transform="translate(-4.2,23.7) scale(0.9)" d="M1.6,-3.4 C2.5,-1 3.1,0.4 1.6,1.8 C0.2,2.9 -1.9,1.7 -1.3,-0.3 C-0.8,-1.7 0.6,-2.3 1.6,-3.4 Z" fill="#9ad8f2" stroke="#e8f7ff" stroke-width=".9"/><path transform="translate(3.3,24.6) scale(1.15)" d="M1.6,-3.4 C2.5,-1 3.1,0.4 1.6,1.8 C0.2,2.9 -1.9,1.7 -1.3,-0.3 C-0.8,-1.7 0.6,-2.3 1.6,-3.4 Z" fill="#9ad8f2" stroke="#e8f7ff" stroke-width=".9"/><path transform="translate(-1.7,29.6) scale(0.85)" d="M1.6,-3.4 C2.5,-1 3.1,0.4 1.6,1.8 C0.2,2.9 -1.9,1.7 -1.3,-0.3 C-0.8,-1.7 0.6,-2.3 1.6,-3.4 Z" fill="#9ad8f2" stroke="#e8f7ff" stroke-width=".9"/><path transform="translate(9.2,29.6) scale(1.0)" d="M1.6,-3.4 C2.5,-1 3.1,0.4 1.6,1.8 C0.2,2.9 -1.9,1.7 -1.3,-0.3 C-0.8,-1.7 0.6,-2.3 1.6,-3.4 Z" fill="#9ad8f2" stroke="#e8f7ff" stroke-width=".9"/><path transform="translate(14.2,23.3) scale(1.05)" d="M1.6,-3.4 C2.5,-1 3.1,0.4 1.6,1.8 C0.2,2.9 -1.9,1.7 -1.3,-0.3 C-0.8,-1.7 0.6,-2.3 1.6,-3.4 Z" fill="#9ad8f2" stroke="#e8f7ff" stroke-width=".9"/><path transform="translate(20.8,22.5) scale(1.05)" d="M1.6,-3.4 C2.5,-1 3.1,0.4 1.6,1.8 C0.2,2.9 -1.9,1.7 -1.3,-0.3 C-0.8,-1.7 0.6,-2.3 1.6,-3.4 Z" fill="#9ad8f2" stroke="#e8f7ff" stroke-width=".9"/><path transform="translate(16.2,28.7) scale(0.85)" d="M1.6,-3.4 C2.5,-1 3.1,0.4 1.6,1.8 C0.2,2.9 -1.9,1.7 -1.3,-0.3 C-0.8,-1.7 0.6,-2.3 1.6,-3.4 Z" fill="#9ad8f2" stroke="#e8f7ff" stroke-width=".9"/><path transform="translate(24.6,27.0) scale(0.9)" d="M1.6,-3.4 C2.5,-1 3.1,0.4 1.6,1.8 C0.2,2.9 -1.9,1.7 -1.3,-0.3 C-0.8,-1.7 0.6,-2.3 1.6,-3.4 Z" fill="#9ad8f2" stroke="#e8f7ff" stroke-width=".9"/><path transform="translate(30.8,19.6) scale(0.95)" d="M1.6,-3.4 C2.5,-1 3.1,0.4 1.6,1.8 C0.2,2.9 -1.9,1.7 -1.3,-0.3 C-0.8,-1.7 0.6,-2.3 1.6,-3.4 Z" fill="#9ad8f2" stroke="#e8f7ff" stroke-width=".9"/><path transform="translate(30.4,28.3) scale(0.8)" d="M1.6,-3.4 C2.5,-1 3.1,0.4 1.6,1.8 C0.2,2.9 -1.9,1.7 -1.3,-0.3 C-0.8,-1.7 0.6,-2.3 1.6,-3.4 Z" fill="#9ad8f2" stroke="#e8f7ff" stroke-width=".9"/><path transform="translate(34.6,25.0) scale(0.85)" d="M1.6,-3.4 C2.5,-1 3.1,0.4 1.6,1.8 C0.2,2.9 -1.9,1.7 -1.3,-0.3 C-0.8,-1.7 0.6,-2.3 1.6,-3.4 Z" fill="#9ad8f2" stroke="#e8f7ff" stroke-width=".9"/></g><g id="t6"><g clip-path="url(#pc20)"><g fill="#ffffff" stroke="#ffffff" stroke-width="2.00" opacity="0.92"><circle cx="-23.35" cy="-1.20" r="3.75"/><circle cx="-18.80" cy="0.70" r="3.10"/><circle cx="-27.10" cy="1.10" r="2.60"/><rect x="-28.35" y="0.12" width="10.81" height="3.67" rx="2.28" ry="2.28"/></g><g fill="url(#pg19)"><circle cx="-23.35" cy="-1.20" r="3.75"/><circle cx="-18.80" cy="0.70" r="3.10"/><circle cx="-27.10" cy="1.10" r="2.60"/><rect x="-28.35" y="0.12" width="10.81" height="3.67" rx="2.28" ry="2.28"/></g></g><g clip-path="url(#pc22)"><g fill="#ffffff" stroke="#ffffff" stroke-width="2.20" opacity="0.92"><circle cx="-8.80" cy="8.40" r="7.00"/><circle cx="-17.10" cy="12.70" r="4.40"/><circle cx="-13.00" cy="10.00" r="5.20"/><circle cx="-2.50" cy="11.50" r="5.00"/><rect x="-19.41" y="10.74" width="19.21" height="6.76" rx="4.19" ry="4.19"/></g><g fill="url(#pg21)"><circle cx="-8.80" cy="8.40" r="7.00"/><circle cx="-17.10" cy="12.70" r="4.40"/><circle cx="-13.00" cy="10.00" r="5.20"/><circle cx="-2.50" cy="11.50" r="5.00"/><rect x="-19.41" y="10.74" width="19.21" height="6.76" rx="4.19" ry="4.19"/></g></g><g clip-path="url(#pc24)"><g fill="#ffffff" stroke="#ffffff" stroke-width="2.20" opacity="0.92"><circle cx="13.70" cy="7.95" r="6.70"/><circle cx="20.40" cy="11.00" r="3.75"/><circle cx="8.70" cy="10.00" r="4.40"/><rect x="6.79" y="8.99" width="15.52" height="5.61" rx="3.48" ry="3.48"/></g><g fill="url(#pg23)"><circle cx="13.70" cy="7.95" r="6.70"/><circle cx="20.40" cy="11.00" r="3.75"/><circle cx="8.70" cy="10.00" r="4.40"/><rect x="6.79" y="8.99" width="15.52" height="5.61" rx="3.48" ry="3.48"/></g></g><g clip-path="url(#pc26)"><g fill="#ffffff" stroke="#ffffff" stroke-width="2.20" opacity="0.92"><circle cx="2.10" cy="18.40" r="7.50"/><circle cx="-6.30" cy="21.90" r="4.80"/><circle cx="12.10" cy="22.30" r="4.50"/><circle cx="-2.50" cy="19.50" r="6.00"/><circle cx="7.50" cy="19.80" r="6.00"/><rect x="-8.56" y="20.06" width="22.93" height="6.64" rx="4.11" ry="4.11"/></g><g fill="url(#pg25)"><circle cx="2.10" cy="18.40" r="7.50"/><circle cx="-6.30" cy="21.90" r="4.80"/><circle cx="12.10" cy="22.30" r="4.50"/><circle cx="-2.50" cy="19.50" r="6.00"/><circle cx="7.50" cy="19.80" r="6.00"/><rect x="-8.56" y="20.06" width="22.93" height="6.64" rx="4.11" ry="4.11"/></g></g></g><g id="t7"><g clip-path="url(#pc28)"><g fill="#ffffff" stroke="#ffffff" stroke-width="2.20" opacity="0.92"><circle cx="-11.50" cy="7.50" r="5.80"/><circle cx="-18.20" cy="9.20" r="3.90"/><circle cx="2.70" cy="10.00" r="7.50"/><circle cx="19.30" cy="6.90" r="6.70"/><circle cx="29.30" cy="10.60" r="4.20"/><circle cx="32.30" cy="12.60" r="2.60"/><circle cx="11.00" cy="10.50" r="6.20"/><circle cx="-4.50" cy="11.00" r="5.80"/><circle cx="25.00" cy="10.50" r="5.00"/><rect x="-20.86" y="10.96" width="55.81" height="7.79" rx="4.83" ry="4.83"/></g><g fill="url(#pg27)"><circle cx="-11.50" cy="7.50" r="5.80"/><circle cx="-18.20" cy="9.20" r="3.90"/><circle cx="2.70" cy="10.00" r="7.50"/><circle cx="19.30" cy="6.90" r="6.70"/><circle cx="29.30" cy="10.60" r="4.20"/><circle cx="32.30" cy="12.60" r="2.60"/><circle cx="11.00" cy="10.50" r="6.20"/><circle cx="-4.50" cy="11.00" r="5.80"/><circle cx="25.00" cy="10.50" r="5.00"/><rect x="-20.86" y="10.96" width="55.81" height="7.79" rx="4.83" ry="4.83"/></g></g><path transform="translate(-15.0,23.5) scale(1.0)" d="M1.6,-3.4 C2.5,-1 3.1,0.4 1.6,1.8 C0.2,2.9 -1.9,1.7 -1.3,-0.3 C-0.8,-1.7 0.6,-2.3 1.6,-3.4 Z" fill="#8fd0ee" stroke="#e8f7ff" stroke-width=".9"/><path transform="translate(-7.5,26.5) scale(1.15)" d="M1.6,-3.4 C2.5,-1 3.1,0.4 1.6,1.8 C0.2,2.9 -1.9,1.7 -1.3,-0.3 C-0.8,-1.7 0.6,-2.3 1.6,-3.4 Z" fill="#8fd0ee" stroke="#e8f7ff" stroke-width=".9"/><path transform="translate(0.5,28.5) scale(1.15)" d="M1.6,-3.4 C2.5,-1 3.1,0.4 1.6,1.8 C0.2,2.9 -1.9,1.7 -1.3,-0.3 C-0.8,-1.7 0.6,-2.3 1.6,-3.4 Z" fill="#8fd0ee" stroke="#e8f7ff" stroke-width=".9"/><path transform="translate(5.5,23.0) scale(0.8)" d="M1.6,-3.4 C2.5,-1 3.1,0.4 1.6,1.8 C0.2,2.9 -1.9,1.7 -1.3,-0.3 C-0.8,-1.7 0.6,-2.3 1.6,-3.4 Z" fill="#8fd0ee" stroke="#e8f7ff" stroke-width=".9"/><path transform="translate(12.5,23.5) scale(1.0)" d="M1.6,-3.4 C2.5,-1 3.1,0.4 1.6,1.8 C0.2,2.9 -1.9,1.7 -1.3,-0.3 C-0.8,-1.7 0.6,-2.3 1.6,-3.4 Z" fill="#8fd0ee" stroke="#e8f7ff" stroke-width=".9"/><path transform="translate(17.5,28.0) scale(0.9)" d="M1.6,-3.4 C2.5,-1 3.1,0.4 1.6,1.8 C0.2,2.9 -1.9,1.7 -1.3,-0.3 C-0.8,-1.7 0.6,-2.3 1.6,-3.4 Z" fill="#8fd0ee" stroke="#e8f7ff" stroke-width=".9"/><path transform="translate(24.5,20.5) scale(0.8)" d="M1.6,-3.4 C2.5,-1 3.1,0.4 1.6,1.8 C0.2,2.9 -1.9,1.7 -1.3,-0.3 C-0.8,-1.7 0.6,-2.3 1.6,-3.4 Z" fill="#8fd0ee" stroke="#e8f7ff" stroke-width=".9"/><path transform="translate(28.0,26.5) scale(0.7)" d="M1.6,-3.4 C2.5,-1 3.1,0.4 1.6,1.8 C0.2,2.9 -1.9,1.7 -1.3,-0.3 C-0.8,-1.7 0.6,-2.3 1.6,-3.4 Z" fill="#8fd0ee" stroke="#e8f7ff" stroke-width=".9"/></g><g id="t8"><g clip-path="url(#pc30)"><g fill="#eef0f6" stroke="#eef0f6" stroke-width="1.80" opacity="0.85"><circle cx="10.80" cy="7.10" r="9.20"/><circle cx="26.70" cy="11.00" r="7.60"/><circle cx="36.70" cy="14.40" r="3.60"/><circle cx="1.70" cy="9.50" r="4.20"/><circle cx="19.00" cy="11.00" r="6.30"/><rect x="-1.16" y="9.50" width="40.73" height="8.40" rx="5.21" ry="5.21"/></g><g fill="url(#pg29)"><circle cx="10.80" cy="7.10" r="9.20"/><circle cx="26.70" cy="11.00" r="7.60"/><circle cx="36.70" cy="14.40" r="3.60"/><circle cx="1.70" cy="9.50" r="4.20"/><circle cx="19.00" cy="11.00" r="6.30"/><rect x="-1.16" y="9.50" width="40.73" height="8.40" rx="5.21" ry="5.21"/></g></g><g clip-path="url(#pc32)"><g fill="#d5d9e0" stroke="#d5d9e0" stroke-width="1.60" opacity="0.8"><circle cx="-1.70" cy="15.40" r="7.00"/><circle cx="-11.70" cy="18.00" r="3.90"/><circle cx="7.50" cy="17.70" r="4.20"/><circle cx="-7.00" cy="16.80" r="5.20"/><circle cx="3.50" cy="16.50" r="5.50"/><rect x="-13.60" y="16.09" width="23.00" height="5.56" rx="3.45" ry="3.45"/></g><g fill="url(#pg31)"><circle cx="-1.70" cy="15.40" r="7.00"/><circle cx="-11.70" cy="18.00" r="3.90"/><circle cx="7.50" cy="17.70" r="4.20"/><circle cx="-7.00" cy="16.80" r="5.20"/><circle cx="3.50" cy="16.50" r="5.50"/><rect x="-13.60" y="16.09" width="23.00" height="5.56" rx="3.45" ry="3.45"/></g></g><path transform="translate(-4.2,23.7) scale(0.9)" d="M1.6,-3.4 C2.5,-1 3.1,0.4 1.6,1.8 C0.2,2.9 -1.9,1.7 -1.3,-0.3 C-0.8,-1.7 0.6,-2.3 1.6,-3.4 Z" fill="#9ad8f2" stroke="#e8f7ff" stroke-width=".9"/><path transform="translate(3.3,24.6) scale(1.15)" d="M1.6,-3.4 C2.5,-1 3.1,0.4 1.6,1.8 C0.2,2.9 -1.9,1.7 -1.3,-0.3 C-0.8,-1.7 0.6,-2.3 1.6,-3.4 Z" fill="#9ad8f2" stroke="#e8f7ff" stroke-width=".9"/><path transform="translate(-1.7,29.6) scale(0.85)" d="M1.6,-3.4 C2.5,-1 3.1,0.4 1.6,1.8 C0.2,2.9 -1.9,1.7 -1.3,-0.3 C-0.8,-1.7 0.6,-2.3 1.6,-3.4 Z" fill="#9ad8f2" stroke="#e8f7ff" stroke-width=".9"/><path transform="translate(9.2,29.6) scale(1.0)" d="M1.6,-3.4 C2.5,-1 3.1,0.4 1.6,1.8 C0.2,2.9 -1.9,1.7 -1.3,-0.3 C-0.8,-1.7 0.6,-2.3 1.6,-3.4 Z" fill="#9ad8f2" stroke="#e8f7ff" stroke-width=".9"/><path transform="translate(14.2,23.3) scale(1.05)" d="M1.6,-3.4 C2.5,-1 3.1,0.4 1.6,1.8 C0.2,2.9 -1.9,1.7 -1.3,-0.3 C-0.8,-1.7 0.6,-2.3 1.6,-3.4 Z" fill="#9ad8f2" stroke="#e8f7ff" stroke-width=".9"/><path transform="translate(20.8,22.5) scale(1.05)" d="M1.6,-3.4 C2.5,-1 3.1,0.4 1.6,1.8 C0.2,2.9 -1.9,1.7 -1.3,-0.3 C-0.8,-1.7 0.6,-2.3 1.6,-3.4 Z" fill="#9ad8f2" stroke="#e8f7ff" stroke-width=".9"/><path transform="translate(16.2,28.7) scale(0.85)" d="M1.6,-3.4 C2.5,-1 3.1,0.4 1.6,1.8 C0.2,2.9 -1.9,1.7 -1.3,-0.3 C-0.8,-1.7 0.6,-2.3 1.6,-3.4 Z" fill="#9ad8f2" stroke="#e8f7ff" stroke-width=".9"/><path transform="translate(24.6,27.0) scale(0.9)" d="M1.6,-3.4 C2.5,-1 3.1,0.4 1.6,1.8 C0.2,2.9 -1.9,1.7 -1.3,-0.3 C-0.8,-1.7 0.6,-2.3 1.6,-3.4 Z" fill="#9ad8f2" stroke="#e8f7ff" stroke-width=".9"/><path transform="translate(30.8,19.6) scale(0.95)" d="M1.6,-3.4 C2.5,-1 3.1,0.4 1.6,1.8 C0.2,2.9 -1.9,1.7 -1.3,-0.3 C-0.8,-1.7 0.6,-2.3 1.6,-3.4 Z" fill="#9ad8f2" stroke="#e8f7ff" stroke-width=".9"/><path transform="translate(30.4,28.3) scale(0.8)" d="M1.6,-3.4 C2.5,-1 3.1,0.4 1.6,1.8 C0.2,2.9 -1.9,1.7 -1.3,-0.3 C-0.8,-1.7 0.6,-2.3 1.6,-3.4 Z" fill="#9ad8f2" stroke="#e8f7ff" stroke-width=".9"/><path transform="translate(34.6,25.0) scale(0.85)" d="M1.6,-3.4 C2.5,-1 3.1,0.4 1.6,1.8 C0.2,2.9 -1.9,1.7 -1.3,-0.3 C-0.8,-1.7 0.6,-2.3 1.6,-3.4 Z" fill="#9ad8f2" stroke="#e8f7ff" stroke-width=".9"/></g><g id="t9"><g clip-path="url(#pc34)"><g fill="#707070" stroke="#707070" stroke-width="2.00" opacity="1"><circle cx="0.00" cy="-3.50" r="8.50"/><circle cx="-11.50" cy="0.50" r="6.80"/><circle cx="11.50" cy="1.50" r="6.80"/><circle cx="-19.50" cy="7.00" r="4.80"/><circle cx="19.50" cy="7.50" r="4.80"/><circle cx="-5.00" cy="3.00" r="7.00"/><circle cx="6.00" cy="3.00" r="7.00"/><rect x="-23.15" y="2.79" width="46.30" height="10.71" rx="6.64" ry="6.64"/></g><g fill="url(#pg33)"><circle cx="0.00" cy="-3.50" r="8.50"/><circle cx="-11.50" cy="0.50" r="6.80"/><circle cx="11.50" cy="1.50" r="6.80"/><circle cx="-19.50" cy="7.00" r="4.80"/><circle cx="19.50" cy="7.50" r="4.80"/><circle cx="-5.00" cy="3.00" r="7.00"/><circle cx="6.00" cy="3.00" r="7.00"/><rect x="-23.15" y="2.79" width="46.30" height="10.71" rx="6.64" ry="6.64"/></g></g><path d="M-3,14.5 L-10,25 L-5.5,25 L-10.5,35 L1.5,22 L-3,22 L1.5,14.5 Z" fill="#f9b11f" stroke="#ef8d05" stroke-width=".7"/><path transform="translate(-22.0,18.0) scale(0.6)" d="M1.6,-3.4 C2.5,-1 3.1,0.4 1.6,1.8 C0.2,2.9 -1.9,1.7 -1.3,-0.3 C-0.8,-1.7 0.6,-2.3 1.6,-3.4 Z" fill="#a9cbe6" stroke="#e8f7ff" stroke-width=".9"/><path transform="translate(-18.0,24.0) scale(0.6)" d="M1.6,-3.4 C2.5,-1 3.1,0.4 1.6,1.8 C0.2,2.9 -1.9,1.7 -1.3,-0.3 C-0.8,-1.7 0.6,-2.3 1.6,-3.4 Z" fill="#a9cbe6" stroke="#e8f7ff" stroke-width=".9"/><path transform="translate(-24.0,27.0) scale(0.6)" d="M1.6,-3.4 C2.5,-1 3.1,0.4 1.6,1.8 C0.2,2.9 -1.9,1.7 -1.3,-0.3 C-0.8,-1.7 0.6,-2.3 1.6,-3.4 Z" fill="#a9cbe6" stroke="#e8f7ff" stroke-width=".9"/><path transform="translate(7.0,18.0) scale(0.6)" d="M1.6,-3.4 C2.5,-1 3.1,0.4 1.6,1.8 C0.2,2.9 -1.9,1.7 -1.3,-0.3 C-0.8,-1.7 0.6,-2.3 1.6,-3.4 Z" fill="#a9cbe6" stroke="#e8f7ff" stroke-width=".9"/><path transform="translate(11.0,24.0) scale(0.6)" d="M1.6,-3.4 C2.5,-1 3.1,0.4 1.6,1.8 C0.2,2.9 -1.9,1.7 -1.3,-0.3 C-0.8,-1.7 0.6,-2.3 1.6,-3.4 Z" fill="#a9cbe6" stroke="#e8f7ff" stroke-width=".9"/><path transform="translate(16.0,18.0) scale(0.6)" d="M1.6,-3.4 C2.5,-1 3.1,0.4 1.6,1.8 C0.2,2.9 -1.9,1.7 -1.3,-0.3 C-0.8,-1.7 0.6,-2.3 1.6,-3.4 Z" fill="#a9cbe6" stroke="#e8f7ff" stroke-width=".9"/><path transform="translate(19.0,24.0) scale(0.6)" d="M1.6,-3.4 C2.5,-1 3.1,0.4 1.6,1.8 C0.2,2.9 -1.9,1.7 -1.3,-0.3 C-0.8,-1.7 0.6,-2.3 1.6,-3.4 Z" fill="#a9cbe6" stroke="#e8f7ff" stroke-width=".9"/></g><g id="l6"><g clip-path="url(#pc36)"><g fill="#a9bccf" stroke="#a9bccf" stroke-width="0.90" opacity="0.95"><circle cx="-13.50" cy="-11.50" r="3.20"/><circle cx="-16.00" cy="-10.00" r="2.20"/><circle cx="-10.50" cy="-10.00" r="2.20"/><rect x="-16.96" y="-10.81" width="7.42" height="2.81" rx="1.74" ry="1.74"/></g><g fill="url(#pg35)"><circle cx="-13.50" cy="-11.50" r="3.20"/><circle cx="-16.00" cy="-10.00" r="2.20"/><circle cx="-10.50" cy="-10.00" r="2.20"/><rect x="-16.96" y="-10.81" width="7.42" height="2.81" rx="1.74" ry="1.74"/></g></g><g clip-path="url(#pc38)"><g fill="#a9bccf" stroke="#a9bccf" stroke-width="0.90" opacity="0.95"><circle cx="-3.00" cy="-3.50" r="6.80"/><circle cx="-8.00" cy="1.00" r="3.60"/><circle cx="2.00" cy="1.00" r="3.60"/><rect x="-10.16" y="-1.54" width="14.33" height="6.34" rx="3.93" ry="3.93"/></g><g fill="url(#pg37)"><circle cx="-3.00" cy="-3.50" r="6.80"/><circle cx="-8.00" cy="1.00" r="3.60"/><circle cx="2.00" cy="1.00" r="3.60"/><rect x="-10.16" y="-1.54" width="14.33" height="6.34" rx="3.93" ry="3.93"/></g></g><g clip-path="url(#pc40)"><g fill="#a9bccf" stroke="#a9bccf" stroke-width="0.90" opacity="0.95"><circle cx="11.00" cy="-3.00" r="6.00"/><circle cx="16.00" cy="0.50" r="3.00"/><circle cx="7.00" cy="0.00" r="3.50"/><rect x="5.21" y="-1.75" width="12.58" height="5.25" rx="3.25" ry="3.25"/></g><g fill="url(#pg39)"><circle cx="11.00" cy="-3.00" r="6.00"/><circle cx="16.00" cy="0.50" r="3.00"/><circle cx="7.00" cy="0.00" r="3.50"/><rect x="5.21" y="-1.75" width="12.58" height="5.25" rx="3.25" ry="3.25"/></g></g><g clip-path="url(#pc42)"><g fill="#a9bccf" stroke="#a9bccf" stroke-width="0.90" opacity="0.95"><circle cx="3.00" cy="6.50" r="7.00"/><circle cx="-3.50" cy="10.50" r="4.00"/><circle cx="10.00" cy="10.50" r="4.00"/><rect x="-5.65" y="8.20" width="17.80" height="6.30" rx="3.91" ry="3.91"/></g><g fill="url(#pg41)"><circle cx="3.00" cy="6.50" r="7.00"/><circle cx="-3.50" cy="10.50" r="4.00"/><circle cx="10.00" cy="10.50" r="4.00"/><rect x="-5.65" y="8.20" width="17.80" height="6.30" rx="3.91" ry="3.91"/></g></g></g><g id="l7"><g transform="scale(1,1.25) translate(0,-4)"><g clip-path="url(#pc44)"><g fill="#a9bccf" stroke="#a9bccf" stroke-width="1.20" opacity="0.95"><circle cx="-11.50" cy="7.50" r="5.80"/><circle cx="-18.20" cy="9.20" r="3.90"/><circle cx="2.70" cy="10.00" r="7.50"/><circle cx="19.30" cy="6.90" r="6.70"/><circle cx="29.30" cy="10.60" r="4.20"/><circle cx="32.30" cy="12.60" r="2.60"/><circle cx="11.00" cy="10.50" r="6.20"/><circle cx="-4.50" cy="11.00" r="5.80"/><circle cx="25.00" cy="10.50" r="5.00"/><rect x="-20.86" y="10.96" width="55.81" height="7.79" rx="4.83" ry="4.83"/></g><g fill="url(#pg43)"><circle cx="-11.50" cy="7.50" r="5.80"/><circle cx="-18.20" cy="9.20" r="3.90"/><circle cx="2.70" cy="10.00" r="7.50"/><circle cx="19.30" cy="6.90" r="6.70"/><circle cx="29.30" cy="10.60" r="4.20"/><circle cx="32.30" cy="12.60" r="2.60"/><circle cx="11.00" cy="10.50" r="6.20"/><circle cx="-4.50" cy="11.00" r="5.80"/><circle cx="25.00" cy="10.50" r="5.00"/><rect x="-20.86" y="10.96" width="55.81" height="7.79" rx="4.83" ry="4.83"/></g></g></g><g transform="translate(0,1)"><path transform="translate(-15.0,23.5) scale(1.0)" d="M1.6,-3.4 C2.5,-1 3.1,0.4 1.6,1.8 C0.2,2.9 -1.9,1.7 -1.3,-0.3 C-0.8,-1.7 0.6,-2.3 1.6,-3.4 Z" fill="#6db9e4" stroke="#e8f7ff" stroke-width=".9"/><path transform="translate(-7.5,26.5) scale(1.15)" d="M1.6,-3.4 C2.5,-1 3.1,0.4 1.6,1.8 C0.2,2.9 -1.9,1.7 -1.3,-0.3 C-0.8,-1.7 0.6,-2.3 1.6,-3.4 Z" fill="#6db9e4" stroke="#e8f7ff" stroke-width=".9"/><path transform="translate(0.5,28.5) scale(1.15)" d="M1.6,-3.4 C2.5,-1 3.1,0.4 1.6,1.8 C0.2,2.9 -1.9,1.7 -1.3,-0.3 C-0.8,-1.7 0.6,-2.3 1.6,-3.4 Z" fill="#6db9e4" stroke="#e8f7ff" stroke-width=".9"/><path transform="translate(5.5,23.0) scale(0.8)" d="M1.6,-3.4 C2.5,-1 3.1,0.4 1.6,1.8 C0.2,2.9 -1.9,1.7 -1.3,-0.3 C-0.8,-1.7 0.6,-2.3 1.6,-3.4 Z" fill="#6db9e4" stroke="#e8f7ff" stroke-width=".9"/><path transform="translate(12.5,23.5) scale(1.0)" d="M1.6,-3.4 C2.5,-1 3.1,0.4 1.6,1.8 C0.2,2.9 -1.9,1.7 -1.3,-0.3 C-0.8,-1.7 0.6,-2.3 1.6,-3.4 Z" fill="#6db9e4" stroke="#e8f7ff" stroke-width=".9"/><path transform="translate(17.5,28.0) scale(0.9)" d="M1.6,-3.4 C2.5,-1 3.1,0.4 1.6,1.8 C0.2,2.9 -1.9,1.7 -1.3,-0.3 C-0.8,-1.7 0.6,-2.3 1.6,-3.4 Z" fill="#6db9e4" stroke="#e8f7ff" stroke-width=".9"/><path transform="translate(24.5,20.5) scale(0.8)" d="M1.6,-3.4 C2.5,-1 3.1,0.4 1.6,1.8 C0.2,2.9 -1.9,1.7 -1.3,-0.3 C-0.8,-1.7 0.6,-2.3 1.6,-3.4 Z" fill="#6db9e4" stroke="#e8f7ff" stroke-width=".9"/><path transform="translate(28.0,26.5) scale(0.7)" d="M1.6,-3.4 C2.5,-1 3.1,0.4 1.6,1.8 C0.2,2.9 -1.9,1.7 -1.3,-0.3 C-0.8,-1.7 0.6,-2.3 1.6,-3.4 Z" fill="#6db9e4" stroke="#e8f7ff" stroke-width=".9"/></g></g><g id="l8"><g clip-path="url(#pc46)"><g fill="#eef0f6" stroke="#eef0f6" stroke-width="1.40" opacity="0.85"><circle cx="-2.00" cy="-2.00" r="9.00"/><circle cx="8.00" cy="2.00" r="7.00"/><circle cx="13.00" cy="4.50" r="3.20"/><circle cx="-9.00" cy="1.00" r="5.00"/><rect x="-11.58" y="-0.56" width="27.16" height="7.56" rx="4.69" ry="4.69"/></g><g fill="url(#pg45)"><circle cx="-2.00" cy="-2.00" r="9.00"/><circle cx="8.00" cy="2.00" r="7.00"/><circle cx="13.00" cy="4.50" r="3.20"/><circle cx="-9.00" cy="1.00" r="5.00"/><rect x="-11.58" y="-0.56" width="27.16" height="7.56" rx="4.69" ry="4.69"/></g></g><g clip-path="url(#pc48)"><g fill="#d5d9e0" stroke="#d5d9e0" stroke-width="1.40" opacity="0.8"><circle cx="-9.00" cy="3.00" r="7.50"/><circle cx="-17.00" cy="6.60" r="2.80"/><circle cx="0.00" cy="6.00" r="3.60"/><circle cx="-4.00" cy="4.50" r="5.00"/><rect x="-18.99" y="3.56" width="20.98" height="5.84" rx="3.62" ry="3.62"/></g><g fill="url(#pg47)"><circle cx="-9.00" cy="3.00" r="7.50"/><circle cx="-17.00" cy="6.60" r="2.80"/><circle cx="0.00" cy="6.00" r="3.60"/><circle cx="-4.00" cy="4.50" r="5.00"/><rect x="-18.99" y="3.56" width="20.98" height="5.84" rx="3.62" ry="3.62"/></g></g><path transform="translate(-15.0,12.0) scale(0.62)" d="M1.6,-3.4 C2.5,-1 3.1,0.4 1.6,1.8 C0.2,2.9 -1.9,1.7 -1.3,-0.3 C-0.8,-1.7 0.6,-2.3 1.6,-3.4 Z" fill="#62b2e2" stroke="#e8f7ff" stroke-width=".9"/><path transform="translate(-10.0,12.5) scale(0.62)" d="M1.6,-3.4 C2.5,-1 3.1,0.4 1.6,1.8 C0.2,2.9 -1.9,1.7 -1.3,-0.3 C-0.8,-1.7 0.6,-2.3 1.6,-3.4 Z" fill="#62b2e2" stroke="#e8f7ff" stroke-width=".9"/><path transform="translate(-5.0,12.0) scale(0.62)" d="M1.6,-3.4 C2.5,-1 3.1,0.4 1.6,1.8 C0.2,2.9 -1.9,1.7 -1.3,-0.3 C-0.8,-1.7 0.6,-2.3 1.6,-3.4 Z" fill="#62b2e2" stroke="#e8f7ff" stroke-width=".9"/><path transform="translate(0.0,12.5) scale(0.62)" d="M1.6,-3.4 C2.5,-1 3.1,0.4 1.6,1.8 C0.2,2.9 -1.9,1.7 -1.3,-0.3 C-0.8,-1.7 0.6,-2.3 1.6,-3.4 Z" fill="#62b2e2" stroke="#e8f7ff" stroke-width=".9"/><path transform="translate(5.0,11.0) scale(0.62)" d="M1.6,-3.4 C2.5,-1 3.1,0.4 1.6,1.8 C0.2,2.9 -1.9,1.7 -1.3,-0.3 C-0.8,-1.7 0.6,-2.3 1.6,-3.4 Z" fill="#62b2e2" stroke="#e8f7ff" stroke-width=".9"/><path transform="translate(10.0,10.5) scale(0.62)" d="M1.6,-3.4 C2.5,-1 3.1,0.4 1.6,1.8 C0.2,2.9 -1.9,1.7 -1.3,-0.3 C-0.8,-1.7 0.6,-2.3 1.6,-3.4 Z" fill="#62b2e2" stroke="#e8f7ff" stroke-width=".9"/><path transform="translate(-13.0,16.5) scale(0.62)" d="M1.6,-3.4 C2.5,-1 3.1,0.4 1.6,1.8 C0.2,2.9 -1.9,1.7 -1.3,-0.3 C-0.8,-1.7 0.6,-2.3 1.6,-3.4 Z" fill="#62b2e2" stroke="#e8f7ff" stroke-width=".9"/><path transform="translate(-8.0,17.0) scale(0.62)" d="M1.6,-3.4 C2.5,-1 3.1,0.4 1.6,1.8 C0.2,2.9 -1.9,1.7 -1.3,-0.3 C-0.8,-1.7 0.6,-2.3 1.6,-3.4 Z" fill="#62b2e2" stroke="#e8f7ff" stroke-width=".9"/><path transform="translate(-2.0,16.5) scale(0.62)" d="M1.6,-3.4 C2.5,-1 3.1,0.4 1.6,1.8 C0.2,2.9 -1.9,1.7 -1.3,-0.3 C-0.8,-1.7 0.6,-2.3 1.6,-3.4 Z" fill="#62b2e2" stroke="#e8f7ff" stroke-width=".9"/><path transform="translate(3.0,17.0) scale(0.62)" d="M1.6,-3.4 C2.5,-1 3.1,0.4 1.6,1.8 C0.2,2.9 -1.9,1.7 -1.3,-0.3 C-0.8,-1.7 0.6,-2.3 1.6,-3.4 Z" fill="#62b2e2" stroke="#e8f7ff" stroke-width=".9"/><path transform="translate(8.0,15.5) scale(0.62)" d="M1.6,-3.4 C2.5,-1 3.1,0.4 1.6,1.8 C0.2,2.9 -1.9,1.7 -1.3,-0.3 C-0.8,-1.7 0.6,-2.3 1.6,-3.4 Z" fill="#62b2e2" stroke="#e8f7ff" stroke-width=".9"/><path transform="translate(12.0,14.5) scale(0.62)" d="M1.6,-3.4 C2.5,-1 3.1,0.4 1.6,1.8 C0.2,2.9 -1.9,1.7 -1.3,-0.3 C-0.8,-1.7 0.6,-2.3 1.6,-3.4 Z" fill="#62b2e2" stroke="#e8f7ff" stroke-width=".9"/></g>
</defs>

<!-- title bar -->
<rect x="0.5" y="0.5" width="959" height="35" fill="#dce6f2" stroke="#c3d3ea" stroke-width="1"/>
<text x="142.5" y="30" textLength="131.2" lengthAdjust="spacingAndGlyphs" class="title">Previsão</text><text x="287.6" y="30" textLength="42.4" lengthAdjust="spacingAndGlyphs" class="title">do</text><text x="348.7" y="30" textLength="101.3" lengthAdjust="spacingAndGlyphs" class="title">Tempo</text><text x="463" y="30" textLength="63.2" lengthAdjust="spacingAndGlyphs" class="title">para</text><text x="543" y="30" textLength="17.0" lengthAdjust="spacingAndGlyphs" class="title">o</text><text x="573" y="30" textLength="37.6" lengthAdjust="spacingAndGlyphs" class="title">dia</text><text transform="translate(625.6,30) scale(1.165,1)" class="title" style="letter-spacing:1.5px">12/01/2024</text>

<!-- map -->
<g clip-path="url(#state)">
<rect x="0" y="30" width="960" height="871" fill="#8fce80"/>
<g filter="url(#blur40)">
  <path d="M200,60 L770,-20 L760,108 L668,175 L580,232 L548,300 L518,380 L500,440 L470,495 L400,520 L340,520 L300,500 L262,410 L235,350 L200,290 L193,200 Z" fill="#b6dd68"/>
</g>
<g filter="url(#blur55)" opacity=".55">
  <path d="M-150,330 L140,330 L170,390 L178,450 L182,550 L166,620 L130,700 L-150,700 Z" fill="#459988"/>
</g>
<g filter="url(#blur30)">
  <path d="M-150,60 L145,60 L145,230 L140,300 L132,380 L132,450 L138,550 L130,610 L105,680 L-150,700 Z" fill="#469a89"/>
</g>
<g filter="url(#blur28)">
  <ellipse cx="90" cy="530" rx="36" ry="90" fill="#3e8d7f"/>
</g>
<g filter="url(#blur28)">
  <path d="M560,700 L720,700 L720,920 L500,920 Z" fill="#6ab985"/>
  <path d="M650,415 L760,410 L760,920 L615,920 L628,800 L634,700 L630,550 L634,470 Z" fill="#59af88"/>
</g>

<path d="M156.4,771.8 L150.0,772.6 L143.4,772.1 L137.2,774.9 L130.5,773.5 L124.1,774.4 L117.7,775.6M156.4,771.8 L157.3,777.9 L156.9,784.1 L159.9,790.0 L158.5,796.3 L159.5,802.4 L161.2,808.4 L160.8,814.6 L162.3,820.6 L162.8,826.7 L164.3,832.8 L164.5,838.9 L165.3,845.0M117.7,775.6 L114.9,781.0 L110.7,785.4 L107.3,790.4 L103.1,794.7 L99.8,799.8 L95.5,804.1 L90.9,808.1 L87.5,813.1 L83.1,817.3 L80.3,822.7M165.3,845.0 L158.6,845.4 L152.1,847.4 L145.6,848.6 L138.8,848.4 L132.3,849.9 L125.5,849.2 L118.8,849.7 L112.3,851.4M80.3,822.7 L85.5,826.0 L88.8,831.6 L94.4,834.6 L98.9,838.7 L103.3,843.0 L108.6,846.4 L112.3,851.4M27.7,844.0 L33.9,842.3 L39.2,838.7 L44.9,836.0 L51.0,834.4 L57.4,833.3 L62.8,829.9 L69.0,828.5 L74.8,825.9 L80.3,822.7M27.7,844.0 L28.8,837.9 L27.7,831.6 L27.7,825.4 L28.9,819.3 L30.6,813.2 L29.7,806.9 L31.1,800.8 L31.2,794.6 L29.3,788.3 L30.5,782.2 L31.5,776.0 L32.2,769.8 L31.5,763.6 L31.9,757.4 L33.4,751.3 L32.2,745.0 L32.5,738.8 L33.6,732.7 L33.8,726.5 L33.3,720.3 L33.4,714.1 L35.2,708.0 L35.0,701.8M35.0,701.8 L39.7,705.7 L43.5,710.7 L49.3,713.4 L52.7,718.9 L57.2,723.1 L63.2,725.6 L67.4,730.2 L71.2,735.2 L77.0,738.0 L80.4,743.4 L85.6,746.8 L90.4,750.7 L94.8,755.1 L100.1,758.4 L103.8,763.4 L109.1,766.8 L113.5,771.1 L117.7,775.6M197.8,898.9 L194.1,893.8 L190.3,888.7 L187.9,882.8 L183.7,878.0 L181.5,872.0 L178.7,866.3 L175.8,860.7 L170.7,856.4 L168.1,850.7 L165.3,845.0M35.0,701.8 L31.8,696.1 L29.8,689.8 L25.9,684.5M77.8,435.4 L82.5,430.8 L88.3,427.7 L94.6,425.3 L98.7,419.7 L104.9,417.3 L109.7,412.8 L115.5,409.7 L120.9,406.0M121.3,330.7 L117.2,326.0 L111.9,322.8 L106.9,319.1 L103.2,314.1 L97.5,311.2 L92.6,307.6 L89.0,302.3 L84.5,298.2 L78.7,295.5 L75.0,290.4 L69.5,287.3 L65.5,282.6 L61.2,278.2 L55.5,275.4 L52.0,270.1 L46.8,266.7 L42.4,262.4 L38.4,257.7 L33.1,254.4 L28.3,250.5 L23.6,246.6M121.3,330.7 L121.5,331.4M120.9,406.0 L119.8,399.8 L121.8,393.6 L120.2,387.3 L121.5,381.1 L122.4,374.9 L122.0,368.7 L122.0,362.5 L120.7,356.3 L121.2,350.1 L121.9,343.9 L122.4,337.7 L121.5,331.4M791.0,89.9 L789.2,90.0M789.2,90.0 L784.2,86.5 L779.8,82.4 L776.4,77.0 L772.3,72.6 L766.9,69.4 L763.2,64.5 L757.5,61.7 L754.3,56.3 L749.7,52.3 L744.8,48.7M756.7,132.9 L760.8,128.0 L763.1,121.9 L767.2,117.0 L770.6,111.6 L773.7,106.1 L775.9,100.0 L779.9,95.0M756.7,132.9 L757.5,134.4M791.0,89.9 L794.1,95.5 L798.0,100.5 L801.0,106.1 L804.1,111.7 L809.5,115.7 L811.9,121.8 L815.3,127.2 L819.8,131.8 L822.5,137.7M789.2,90.0 L779.9,95.0M757.5,134.4 L764.0,135.1 L770.5,136.2 L777.1,134.3 L783.5,134.9 L790.0,137.1 L796.5,136.2 L803.0,137.6 L809.5,136.3 L816.0,137.9 L822.5,137.7M833.4,863.2 L829.6,858.2 L824.8,854.1 L820.5,849.6 L816.3,844.9 L811.4,840.9M833.4,863.2 L827.2,862.4 L820.9,862.9 L814.6,862.7 L808.3,862.4 L802.0,862.5 L795.7,864.2 L789.5,862.0 L783.2,863.0M783.2,863.0 L788.8,858.6 L795.2,855.1 L799.4,848.9 L805.7,845.3 L811.4,840.9M769.8,868.5 L776.2,864.8 L783.2,863.0M769.8,868.5 L769.3,875.9 L767.0,882.9 L765.3,890.1M811.4,840.9 L812.0,834.1 L816.2,828.2 L817.0,821.4 L817.9,814.6 L820.6,808.3M841.3,800.9 L834.5,803.8 L827.6,806.2 L820.6,808.3M30.6,553.1 L34.5,558.1 L37.5,563.7 L41.9,568.3 L44.2,574.4 L48.4,579.2 L51.8,584.5 L54.8,590.1 L58.4,595.2 L62.5,600.0 L65.8,605.4 L68.7,611.1 L72.8,615.9M30.6,553.1 L33.4,547.6 L37.0,542.7 L39.2,536.8 L43.6,532.3 L46.0,526.6 L49.2,521.4 L52.9,516.5 L56.0,511.1 L58.4,505.5 L61.8,500.3 L65.6,495.4 L67.3,489.3 L70.5,484.1 L74.0,479.0 L77.3,473.9 L80.5,468.7M72.8,615.9 L74.6,609.7 L77.0,603.8 L80.7,598.4 L83.5,592.7 L84.5,586.1 L88.2,580.8 L91.2,575.1 L92.0,568.5 L95.8,563.1 L98.3,557.3 L101.1,551.5 L101.8,544.9 L105.7,539.6 L107.8,533.5 L110.5,527.7M80.5,468.7 L83.6,473.8 L85.6,479.6 L88.2,485.0 L92.5,489.6 L93.6,495.8 L95.8,501.4 L99.3,506.4 L101.7,511.9 L105.9,516.5 L108.7,521.8 L110.5,527.7M75.7,648.5 L76.2,641.9 L75.8,635.4 L75.2,628.8 L72.6,622.5 L72.8,615.9M75.7,648.5 L70.1,651.2 L65.0,654.7 L60.1,658.3 L56.2,663.5 L51.1,666.9 L46.4,670.9 L40.7,673.5 L36.1,677.5 L30.8,680.7 L25.9,684.5M77.8,435.4 L79.4,442.0 L79.3,448.7 L78.3,455.4 L81.1,461.9 L80.5,468.7M156.4,771.8 L161.7,767.4 L167.8,764.0 L171.8,758.0 L178.5,755.4 L183.3,750.4M75.7,648.5 L82.0,649.7 L88.4,650.0 L94.8,650.0 L101.2,648.1 L107.5,648.6 L113.9,648.1 L120.3,649.5 L126.6,649.1 L133.0,649.7 L139.4,649.7M139.4,649.7 L143.8,654.0 L146.9,659.3 L150.9,663.9 L154.0,669.2 L157.2,674.4 L160.8,679.3 L163.9,684.7 L169.1,688.4 L172.6,693.4 L175.5,698.8 L178.4,704.3 L182.9,708.6M182.9,708.6 L184.5,714.1M183.3,750.4 L184.3,744.4 L183.5,738.3 L184.4,732.3 L184.6,726.2 L185.2,720.2 L184.5,714.1M182.9,708.6 L186.3,703.4 L191.4,700.0 L195.7,695.7 L199.2,690.7 L204.2,687.2 L208.9,683.3 L212.1,677.9 L218.0,675.2 L221.5,670.2M221.5,670.2 L227.3,667.7 L233.5,666.5 L239.9,666.6 L246.0,665.2 L251.9,662.8 L258.1,662.2 L264.1,660.2 L270.3,659.4 L276.5,658.4M184.5,714.1 L190.4,712.5 L196.3,710.4 L202.9,711.7 L208.4,708.0 L214.9,708.9 L220.8,707.2 L226.8,705.6 L233.0,705.5 L238.7,702.3 L245.0,702.7 L250.8,699.8 L257.0,699.5M276.5,658.4 L274.5,664.6 L270.8,670.1 L267.1,675.5 L265.3,681.9 L263.2,688.1 L260.8,694.2 L257.0,699.5M139.4,649.7 L142.2,643.9 L146.4,639.1 L149.7,633.6 L153.8,628.8 L157.9,623.9 L161.5,618.7 L165.8,613.9 L167.8,607.6 L171.6,602.5 L176.0,597.8 L180.4,593.1 L183.2,587.3M221.5,670.2 L221.4,663.7 L222.5,657.4 L225.0,651.4 L226.0,645.1 L226.0,638.6 L227.8,632.5 L228.2,626.0 L229.7,619.8 L232.4,613.8 L232.2,607.3M183.2,587.3 L189.3,589.7 L195.2,592.9 L201.3,595.5 L207.8,597.0 L214.2,598.9 L220.1,601.9 L226.2,604.5 L232.2,607.3M291.8,620.4 L285.8,616.5 L281.5,610.8M291.8,620.4 L292.8,626.7 L291.7,632.9 L291.6,639.1 L291.1,645.3M291.1,645.3 L286.0,649.4 L281.2,653.8 L276.5,658.4M232.2,607.3 L238.4,606.9 L244.5,608.3 L250.7,608.2 L256.9,608.3 L263.0,609.4 L269.2,609.8 L275.4,609.3 L281.5,610.8M36.2,233.2 L42.7,233.3 L48.7,230.2 L55.3,231.0 L61.5,229.5 L67.8,228.1 L74.2,227.5 L80.6,227.4 L86.6,224.2 L93.1,224.1 L99.6,224.8 L105.9,223.2 L112.0,221.0 L118.3,219.7 L124.8,220.2 L131.1,218.7M36.2,233.2 L39.5,228.1 L39.9,221.7 L43.8,216.8 L45.7,211.0 L47.6,205.3 L50.4,199.9 L53.5,194.7 L53.7,188.2 L56.9,183.0 L60.8,178.1 L62.5,172.3 L63.7,166.3 L65.8,160.6 L69.5,155.6 L70.4,149.4 L74.8,144.7 L75.8,138.6 L78.3,133.1M131.1,218.7 L127.1,213.6 L125.1,207.4 L121.3,202.2 L118.1,196.7 L116.2,190.6 L112.6,185.2 L109.4,179.8 L106.1,174.3 L103.9,168.3 L101.3,162.5 L98.7,156.6 L94.4,151.7 L92.0,145.8 L87.7,140.9 L85.7,134.7M78.3,133.1 L85.7,134.7M163.2,229.5 L157.1,226.4 L150.7,224.1 L143.6,224.1 L137.9,219.7 L131.1,218.7M163.2,229.5 L160.1,234.7 L157.5,240.3 L157.3,246.8 L152.8,251.5 L152.4,257.9 L148.9,263.1 L146.0,268.5 L144.3,274.3 L142.7,280.3 L138.8,285.2 L137.6,291.3 L135.9,297.2 L134.0,303.0 L129.6,307.8 L128.7,314.0 L125.8,319.4 L122.5,324.6 L121.3,330.7M23.6,246.6 L28.3,242.6 L32.3,238.0 L36.2,233.2M163.2,229.5 L169.6,226.8 L175.5,223.6 L180.2,218.2 L186.7,215.7M140.8,131.8 L143.8,137.5 L147.5,142.7 L149.8,148.7 L152.0,154.8 L156.0,159.8 L159.2,165.4 L163.3,170.4 L166.2,176.1 L169.4,181.6 L171.0,188.0 L174.3,193.5 L177.3,199.1 L181.1,204.2 L183.6,210.1 L186.7,215.7M140.8,131.8 L134.7,132.1 L128.6,133.1 L122.4,132.6 L116.3,131.9 L110.2,133.4 L104.1,133.8 L98.0,135.4 L91.9,135.5 L85.7,134.7M331.8,61.1 L338.4,63.4 L345.1,65.6 L351.1,69.6 L357.8,72.0 L364.7,73.5M364.7,73.5 L370.2,68.8 L375.0,63.4 L378.6,57.0 L383.2,51.4 L388.2,46.3M388.2,46.3 L388.6,40.1 L389.3,34.0 L391.6,28.2 L391.9,22.0 L392.5,15.9M121.5,331.4 L127.1,328.7 L133.0,326.8 L139.0,325.0 L144.7,322.6 L150.6,320.7 L156.8,319.7 L162.5,317.1 L168.3,315.1 L174.5,314.0 L180.1,311.0 L186.0,309.1 L192.5,309.1 L198.3,307.0 L204.1,304.6 L209.6,301.7 L215.4,299.3 L221.4,297.8 L227.5,296.5M186.7,215.7 L193.5,216.2 L200.3,216.1 L207.0,215.6M207.0,215.6 L209.3,221.2 L212.0,226.6 L213.8,232.5 L218.2,237.1 L220.3,242.8 L222.1,248.7 L223.4,254.8 L227.9,259.4 L230.6,264.8 L232.2,270.7 L234.1,276.5 L237.1,281.9M227.5,296.5 L231.7,288.8 L237.1,281.9M376.2,106.4 L369.8,105.8 L363.5,104.8 L357.3,103.4 L351.3,100.6 L344.9,100.4 L338.7,98.4 L332.1,98.9 L326.2,96.0 L319.6,96.3 L313.6,93.9 L307.1,94.0 L301.2,90.6 L294.8,90.4M376.2,106.4 L373.2,100.0 L370.8,93.5 L368.6,86.9 L367.9,79.8 L364.7,73.5M331.8,61.1 L326.7,64.8 L321.7,68.7 L315.6,70.9 L310.4,74.6 L305.5,78.5 L300.7,82.8 L295.4,86.2M295.4,86.2 L294.8,90.4M779.9,95.0 L773.7,95.4 L767.6,94.9 L761.7,92.7 L755.6,91.8 L749.4,92.6M744.8,48.7 L740.5,54.4 L735.3,59.3 L729.5,63.7 L725.5,69.6M725.5,69.6 L728.7,75.6 L732.9,80.9 L737.5,85.9M749.4,92.6 L743.4,89.4 L737.5,85.9M756.7,132.9 L750.5,129.3 L743.6,127.3M749.4,92.6 L748.4,99.6 L746.7,106.4 L746.0,113.4 L744.5,120.3 L743.6,127.3M757.5,134.4 L757.4,141.3 L756.8,148.3 L759.1,155.1 L758.3,162.0M822.5,137.7 L827.6,142.2M758.3,162.0 L764.0,165.4 L769.9,168.2 L775.9,170.7 L782.1,173.0M827.6,142.2 L822.0,144.9 L817.1,148.4 L811.7,151.5 L807.7,156.4 L802.2,159.1 L796.7,161.9 L792.7,166.9 L787.2,169.7 L782.1,173.0M742.3,171.6 L740.5,177.3 L738.4,183.0 L735.9,188.5 L731.5,193.2 L730.1,199.2 L727.5,204.6M742.3,171.6 L747.3,167.9 L752.4,164.3 L758.3,162.0M758.6,205.2 L752.3,206.0 L746.1,204.6 L739.9,204.7 L733.7,204.6 L727.5,204.6M758.6,205.2 L762.9,200.7 L768.5,197.9 L773.3,194.0 L778.1,190.2 L782.9,186.3M782.9,186.3 L781.2,179.7 L782.1,173.0M324.5,542.2 L329.0,547.5 L333.3,552.7 L338.6,557.1M324.5,542.2 L328.7,537.0 L333.0,531.9 L336.4,526.0 L340.1,520.5 L343.7,514.8 L347.9,509.6M347.9,509.6 L354.3,511.8 L360.4,514.9 L367.3,515.4 L373.7,517.7 L379.8,520.7M379.8,520.7 L376.3,526.2 L373.3,532.0 L368.7,536.8 L366.4,543.1 L362.4,548.2 L358.3,553.3 L354.7,558.7M354.7,558.7 L346.6,558.4 L338.6,557.1M291.1,645.3 L294.7,651.1 L298.4,656.8 L302.2,662.4 L306.5,667.8 L310.1,673.6M310.1,673.6 L312.5,683.5M257.0,699.5 L260.6,704.7 L264.8,709.3 L269.4,713.5 L274.6,717.2 L278.6,722.0M278.6,722.0 L283.5,717.7 L287.1,712.4 L292.1,708.2 L294.7,702.0 L300.2,698.4 L304.0,693.2 L308.1,688.2 L312.5,683.5M110.5,527.7 L116.1,530.3 L121.1,533.8 L126.5,536.6 L130.9,541.0 L136.9,543.0 L142.1,546.1 L147.0,549.8 L151.3,554.4 L156.7,557.2 L161.9,560.4 L167.0,563.8 L172.7,566.1 L177.5,569.9M183.2,587.3 L181.7,575.4M177.5,569.9 L181.7,575.4M281.5,610.8 L280.5,603.8 L282.4,596.9 L282.3,589.9 L281.7,582.9M181.7,575.4 L186.7,571.7 L192.0,568.4 L196.5,564.2 L201.3,560.2 L206.4,556.6 L210.5,551.9 L215.7,548.3 L219.8,543.5 L224.3,539.2 L229.2,535.4 L235.0,532.7 L239.2,528.1 L244.1,524.2M281.7,582.9 L278.2,577.6 L274.6,572.4 L272.3,566.4 L267.8,561.7 L264.2,556.5 L261.4,550.8 L257.5,545.8 L254.1,540.4 L250.0,535.5 L246.9,530.0 L244.1,524.2M384.4,186.4 L389.8,182.4 L395.8,179.5 L401.7,176.4 L407.6,173.3 L412.5,168.3 L419.4,167.0 L424.6,162.7 L430.3,159.2M384.4,186.4 L378.1,186.1M378.1,186.1 L369.9,177.8M369.9,177.8 L374.7,173.9 L378.1,168.6 L382.9,164.7 L387.8,160.9 L392.3,156.7 L395.9,151.6 L399.4,146.4 L404.8,143.1 L408.8,138.4M430.3,159.2 L425.6,153.3 L419.8,148.6 L414.4,143.3 L408.8,138.4M293.0,279.6 L297.8,284.9 L299.7,291.9 L304.2,297.4 L308.2,303.1 L311.1,309.5 L315.2,315.2M293.0,279.6 L286.7,282.0 L279.8,281.1 L273.5,283.2 L267.1,284.7 L260.5,285.4M260.5,285.4 L261.8,291.4 L263.0,297.3 L265.9,302.9 L265.5,309.2 L266.1,315.4 L268.6,321.0 L270.9,326.8 L270.5,333.1 L272.9,338.8 L274.2,344.7M315.2,315.2 L309.8,318.5 L305.3,323.1 L300.4,327.1 L295.3,330.7 L290.3,334.7 L284.7,337.6 L279.1,340.7 L274.2,344.7M207.0,215.6 L212.0,211.8 L216.6,207.6 L221.9,204.2 L225.3,198.6 L230.3,194.9 L235.6,191.5 L241.2,188.6 L244.6,182.9 L249.3,178.8 L254.6,175.5 L259.5,171.6M313.3,247.6 L310.9,253.5 L305.7,257.7 L302.4,263.1 L300.1,269.1 L296.4,274.3 L293.0,279.6M313.3,247.6 L314.7,242.7M314.7,242.7 L312.1,235.8M237.1,281.9 L244.8,283.6 L252.7,284.2 L260.5,285.4M259.5,171.6 L263.6,176.5 L267.2,181.8 L270.7,187.2 L275.5,191.5 L278.8,197.1 L283.4,201.6 L288.2,205.9 L291.0,211.9 L296.6,215.5 L299.6,221.3 L305.0,225.2 L308.0,231.0 L312.1,235.8M227.5,296.5 L228.8,302.4 L228.0,308.6 L229.6,314.5 L229.2,320.7 L229.6,326.7 L232.6,332.5 L230.8,338.7 L232.6,344.6 L232.4,350.7 L233.2,356.7 L234.5,362.7 L234.8,368.7 L235.9,374.7M235.9,374.7 L242.2,374.8 L248.4,373.5 L254.6,374.2 L260.9,374.4M260.9,374.4 L263.2,368.3 L265.1,362.0 L269.8,357.0 L271.3,350.5 L274.2,344.7M261.7,164.6 L266.0,159.5 L271.7,155.9 L276.2,151.1 L279.9,145.5M261.7,164.6 L256.7,161.2 L252.9,156.3 L248.1,152.7 L242.8,149.6 L238.2,145.8 L233.7,141.7 L228.8,138.2 L222.7,136.3 L218.7,131.5 L214.4,127.2 L208.3,125.3 L204.1,120.9 L199.2,117.4 L194.5,113.6 L189.3,110.5 L185.2,105.9 L181.0,101.5 L175.5,98.8M175.5,98.8 L176.9,92.4 L176.2,85.8 L178.0,79.5 L179.3,73.1 L178.5,66.5 L181.0,60.3 L181.4,53.8M181.4,53.8 L187.0,56.5 L192.8,58.9 L198.3,61.7 L202.9,66.5 L209.0,68.1 L214.9,70.4 L219.5,74.9 L225.8,76.3 L230.4,81.0 L235.9,83.9 L241.8,86.0 L247.2,89.1 L253.2,91.1 L257.8,95.7 L263.5,98.1 L269.6,100.0 L274.2,104.5 L279.9,107.1 L285.7,109.4M285.7,109.4 L283.9,115.3 L282.7,121.3 L283.8,127.6 L281.7,133.5 L280.0,139.4 L279.9,145.5M259.5,171.6 L261.7,164.6M312.1,235.8 L316.8,231.7 L319.8,226.0 L324.1,221.5 L329.9,218.4 L332.9,212.7 L338.0,208.9 L342.6,204.6 L345.9,199.2 L349.7,194.3 L353.7,189.5 L357.6,184.6 L363.1,181.2 L367.0,176.3M349.5,157.8 L354.6,161.7 L357.8,167.4 L363.5,170.9 L367.0,176.3M349.5,157.8 L343.0,157.7 L336.9,155.0 L330.3,155.6 L324.1,154.0 L317.9,151.7 L311.4,151.8 L305.2,150.0 L298.7,149.9 L292.4,148.4 L286.2,147.0 L279.9,145.5M140.8,131.8 L145.8,127.2 L150.3,121.9 L155.9,117.8 L161.5,113.8 L165.6,108.3 L170.5,103.5 L175.5,98.8M294.8,90.4 L291.9,96.8 L289.6,103.5 L285.7,109.4M376.2,106.4 L377.9,107.9M377.9,107.9 L374.6,113.4 L371.4,118.9 L367.5,124.0 L366.4,130.7 L363.2,136.2 L358.3,140.8 L356.3,147.0 L351.6,151.6 L349.5,157.8M782.9,186.3 L788.2,191.1 L791.7,197.3 L795.3,203.4 L800.9,208.1 L804.2,214.5M758.6,205.2 L763.8,209.5 L767.4,215.3 L772.0,220.1 L776.6,225.0 L781.3,229.7 L785.8,234.7M804.2,214.5 L800.2,220.1 L794.6,224.3 L791.0,230.2 L785.8,234.7M727.5,204.6 L723.2,207.9M761.0,263.0 L753.6,264.8M761.0,263.0 L765.5,258.5 L770.8,254.9 L774.8,249.9 L778.4,244.4 L783.6,240.7M723.2,207.9 L727.2,213.1 L729.1,219.4 L732.9,224.7 L736.0,230.3 L738.2,236.5 L741.9,241.8 L743.9,248.0 L747.6,253.4 L750.8,259.0 L753.6,264.8M785.8,234.7 L783.6,240.7M778.8,453.5 L783.7,446.8 L787.4,439.2M778.8,453.5 L772.2,454.0 L765.7,454.7 L759.4,456.4 L753.1,458.4M742.8,437.2 L745.7,444.6 L750.3,451.0 L753.1,458.4M742.8,437.2 L746.9,432.6 L749.5,426.9 L754.5,422.9 L757.2,417.3M787.4,439.2 L787.4,435.5M787.4,435.5 L781.3,432.0 L775.1,428.6 L768.7,425.5 L763.2,420.9 L757.2,417.3M742.8,437.2 L736.9,432.9 L729.9,430.2 L724.0,425.9M724.0,425.9 L724.3,419.4 L722.2,413.2 L721.9,406.8M721.9,406.8 L729.2,405.6 L736.0,402.5 L743.0,400.5 L750.3,399.4M757.2,417.3 L754.7,411.4 L752.8,405.3 L750.3,399.4M816.5,567.6 L814.8,561.3 L814.3,554.7 L810.9,548.9 L809.1,542.7 L808.0,536.2 L806.5,529.9M816.1,499.0 L808.9,502.6 L801.5,505.5 L793.7,507.5M816.1,499.0 L816.9,492.3 L818.5,485.7 L820.6,479.3 L822.4,472.8M793.7,507.5 L792.3,501.2 L789.5,495.2 L788.4,488.8M822.4,472.8 L815.8,472.6 L809.4,474.9 L802.9,475.5 L796.4,476.2 L789.8,476.0M789.8,476.0 L789.0,482.4 L788.4,488.8M806.5,529.9 L801.2,526.9 L795.3,525.2 L789.6,523.0M789.6,523.0 L790.9,515.1 L793.7,507.5M847.0,456.9 L840.6,460.4 L835.3,465.8 L828.4,468.5 L822.4,472.8M847.0,456.9 L841.2,454.6 L834.7,454.4 L829.2,451.2 L823.0,450.1 L817.0,448.6 L810.9,447.3 L805.4,444.1 L799.3,442.7 L793.2,441.4 L787.4,439.2M778.8,453.5 L780.8,459.5 L783.1,465.3 L786.3,470.7 L789.8,476.0M483.2,807.3 L476.7,807.0 L470.2,808.1 L463.7,806.0 L457.3,807.0 L450.8,808.0 L444.3,807.1M483.2,807.3 L482.9,800.6 L481.2,794.1 L482.8,787.3 L481.3,780.8 L479.7,774.2 L480.7,767.5 L480.3,760.8 L479.1,754.3M444.3,807.1 L442.7,805.9M444.8,736.7 L450.2,740.3 L456.5,742.2 L461.6,746.3 L467.6,748.6 L473.2,751.8 L479.1,754.3M444.8,736.7 L441.2,741.8 L439.3,747.7 L435.2,752.5 L432.9,758.2 L429.6,763.4 L428.1,769.5 L424.3,774.4M442.7,805.9 L440.2,800.3 L435.6,795.9 L433.4,790.2 L429.9,785.2 L427.2,779.8 L424.3,774.4M483.2,807.3 L489.3,812.5 L495.6,817.4M444.3,807.1 L440.5,813.3 L436.7,819.7 L431.5,825.0 L427.9,831.4M495.6,817.4 L496.9,823.5 L496.9,829.6 L496.7,835.7 L496.1,841.8 L498.0,847.8 L497.4,854.0M497.4,854.0 L490.9,854.4 L484.7,855.5 L478.8,858.4 L472.6,859.9 L466.2,860.5 L459.8,861.1 L453.7,862.8 L447.4,864.0 L441.0,864.3 L435.0,866.7M427.9,831.4 L428.6,838.6 L430.6,845.5 L432.4,852.5 L434.7,859.4 L435.0,866.7M514.7,904.5 L513.9,897.6 L512.0,890.9M514.7,904.5 L508.6,902.6 L502.4,901.6 L496.2,900.0 L489.7,900.3 L483.6,898.7 L477.7,895.9 L471.4,895.5 L465.3,893.6 L459.2,891.9 L453.0,890.9 L446.8,889.9 L440.6,888.3M440.6,888.3 L438.8,881.5 L437.1,874.7 L433.5,868.5M497.4,854.0 L499.0,860.4 L501.2,866.7 L505.3,872.2 L507.9,878.3 L509.7,884.7 L512.0,890.9M435.0,866.7 L433.5,868.5M394.4,742.9 L400.6,740.2 L406.9,738.1 L413.5,736.6 L419.6,733.6 L425.7,730.9 L432.3,729.6 L438.6,727.2M394.4,742.9 L387.9,741.6 L381.5,739.8 L375.3,737.4 L368.7,736.4 L362.2,735.2 L355.9,732.7M355.9,732.7 L359.2,726.8 L363.5,721.6 L366.7,715.7 L370.6,710.2 L373.5,704.1 L377.7,698.8 L381.9,693.5M381.9,693.5 L387.8,695.7 L393.1,699.1 L398.4,702.2 L404.9,703.0 L410.7,705.3 L416.4,707.8 L421.7,711.1 L427.8,712.7 L432.8,716.7 L438.5,718.9M438.5,718.9 L438.6,727.2M444.8,736.7 L438.6,727.2M413.5,771.0 L424.3,774.4M413.5,771.0 L409.3,765.7 L406.9,759.1 L401.0,754.9 L397.6,748.9 L394.4,742.9M382.4,660.5 L388.3,663.1M382.4,660.5 L376.2,660.8 L370.5,663.8 L364.2,663.2 L358.2,664.5 L352.0,664.8 L346.2,666.8 L340.1,667.8 L334.2,669.4 L328.0,669.7 L321.9,670.4 L316.1,672.2 L310.1,673.6M388.3,663.1 L387.1,669.2 L386.8,675.5 L384.7,681.4 L384.4,687.7 L381.9,693.5M354.8,733.3 L351.5,727.6 L345.6,724.0 L342.0,718.5 L337.6,713.6 L334.5,707.7 L329.3,703.6 L325.0,698.6 L320.3,694.1 L316.7,688.5 L312.5,683.5M354.8,733.3 L355.9,732.7M541.8,742.9 L548.5,739.6 L554.9,735.9M541.8,742.9 L541.5,749.2 L540.3,755.5 L542.4,761.9 L539.9,768.2 L541.7,774.6 L541.6,780.9 L540.3,787.2 L540.5,793.5M554.9,735.9 L560.2,740.2 L566.8,742.1 L571.7,747.0 L577.5,750.2 L582.8,754.4 L588.9,757.2M540.5,793.5 L544.7,789.1 L550.4,786.6 L554.6,782.2 L560.5,779.9 L564.6,775.2 L569.3,771.4 L574.0,767.5 L579.4,764.6 L584.2,760.9 L588.9,757.2M381.2,589.5 L378.6,595.5 L374.0,600.2 L369.8,605.1 L367.5,611.4 L362.1,615.5 L359.4,621.5 L354.8,626.2 L352.3,632.3M381.2,589.5 L372.2,585.6M372.2,585.6 L366.2,586.7 L360.5,588.7 L354.9,591.0 L349.0,592.2 L343.9,596.1 L337.5,596.0 L332.4,599.7 L326.0,599.6 L320.5,602.0 L315.0,604.6M352.3,632.3 L346.1,631.3 L340.1,629.2 L334.1,627.6 L327.9,626.6 L321.7,625.5 L316.1,622.2 L309.7,621.8 L303.4,621.5 L297.6,618.8M297.6,618.8 L303.5,614.2 L308.7,608.7 L315.0,604.6M354.7,558.7 L358.6,563.8 L361.4,569.7 L365.7,574.5 L368.6,580.3 L372.2,585.6M338.6,557.1 L335.7,563.0 L333.6,569.4 L329.0,574.6 L326.9,580.9 L324.8,587.3 L320.9,592.8 L318.0,598.7 L315.0,604.6M291.8,620.4 L297.6,618.8M382.4,660.5 L377.9,655.2 L371.6,651.9 L367.7,645.9 L362.6,641.4 L358.1,636.1 L352.3,632.3M324.5,542.2 L315.9,541.4 L307.3,541.4M307.3,541.4 L303.2,546.1 L300.8,551.7 L298.5,557.5 L294.0,561.8 L292.2,567.9 L288.3,572.6 L284.5,577.4 L281.7,582.9M388.3,663.1 L393.9,659.5 L399.7,656.1M399.7,656.1 L402.3,650.6 L404.3,644.9 L406.1,639.0 L408.0,633.2 L409.5,627.3 L412.2,621.8M381.2,589.5 L389.4,588.7 L397.4,590.3M412.2,621.8 L410.1,615.1 L406.1,609.3 L404.0,602.6 L401.3,596.2 L397.4,590.3M419.4,528.7 L418.4,535.5 L417.6,542.3 L418.0,549.2 L417.5,556.1M419.4,528.7 L413.9,525.6 L408.4,522.6 L402.3,520.7 L396.7,518.0M396.7,518.0 L388.1,518.5 L379.8,520.7M417.5,556.1 L414.7,562.1 L410.6,567.4 L408.2,573.6 L404.1,578.9 L401.9,585.2 L397.4,590.3M841.3,800.9 L837.2,796.3 L833.5,791.4 L830.6,785.9 L825.7,781.9 L822.5,776.6 L817.9,772.4 L814.2,767.4 L810.5,762.6 L807.5,757.1M807.5,757.1 L811.7,751.8 L817.8,748.8 L823.0,744.7 L827.7,740.1 L832.5,735.6 L837.1,730.7 L842.7,727.1 L848.1,723.2 L852.3,718.0M596.9,901.7 L598.4,895.7 L599.5,889.7 L600.1,883.6 L599.4,877.4 L602.2,871.6 L601.5,865.4 L603.2,859.5 L603.6,853.4 L605.1,847.4 L605.1,841.3 L605.8,835.2M596.9,901.7 L594.7,895.9 L592.1,890.4 L589.1,885.0 L584.9,880.3 L583.9,873.9 L579.8,869.2 L577.7,863.4 L574.5,858.2 L572.3,852.4 L568.8,847.4 L565.8,842.0M605.8,835.2 L600.5,830.8 L594.9,826.7 L590.2,821.7 L585.6,816.4 L579.8,812.7M565.8,842.0 L567.3,834.7 L569.5,827.5 L570.1,820.0 L572.9,813.0M572.9,813.0 L579.8,812.7M639.0,809.2 L635.8,814.6 L631.2,818.9 L626.3,822.9 L621.9,827.2 L618.8,832.8M639.0,809.2 L632.5,806.1 L627.0,801.4 L621.8,796.5 L615.5,793.0M618.8,832.8 L612.1,832.7 L605.8,835.2M615.5,793.0 L609.0,793.4 L603.0,795.6 L597.4,799.0 L590.9,799.3M590.9,799.3 L585.1,805.8 L579.8,812.7M539.3,798.7 L544.9,801.2 L551.0,802.5 L556.3,805.5 L561.7,808.3 L567.1,811.1 L572.9,813.0M539.3,798.7 L533.1,801.3 L527.3,805.1 L520.8,807.1 L514.4,809.4 L507.9,811.6 L501.6,814.0 L495.6,817.4M512.0,890.9 L517.2,887.6 L521.0,882.8 L525.8,879.1 L530.5,875.2 L533.7,869.7 L539.8,867.4 L542.6,861.5 L548.1,858.5 L553.1,855.0 L556.1,849.3 L561.2,846.0 L565.8,842.0M539.3,798.7 L540.5,793.5M595.4,758.5 L594.8,765.3 L593.0,772.0 L593.3,778.9 L592.8,785.8 L592.5,792.6 L590.9,799.3M595.4,758.5 L588.9,757.2M399.7,656.1 L405.9,659.8 L412.4,662.8 L419.0,665.6 L425.5,668.6M438.5,718.9 L443.6,708.4M425.5,668.6 L428.1,674.2 L431.7,679.5 L434.4,685.1 L434.8,691.8 L437.9,697.3 L441.3,702.6 L443.6,708.4M521.9,695.1 L521.5,701.4 L523.2,707.8 L521.8,714.2 L523.0,720.6 L522.9,726.9 L522.0,733.3M521.9,695.1 L515.2,694.7 L508.5,696.5 L501.8,695.1 L495.0,696.4 L488.3,696.2 L481.6,695.4M481.6,695.4 L483.6,701.5 L485.6,707.7 L486.7,714.0 L488.3,720.3 L490.2,726.4 L492.3,732.5 L493.8,738.8M522.0,733.3 L514.8,734.0 L508.1,737.2 L500.8,737.2 L493.8,738.8M479.1,754.3 L484.5,749.5 L488.5,743.6 L493.8,738.8M541.8,742.9 L535.3,739.6 L529.1,735.4 L522.0,733.3M186.0,483.4 L192.7,484.0 L199.0,486.1 L205.3,488.0 L211.8,489.3 L218.0,491.6 L224.4,493.1 L230.3,496.7 L236.7,498.1 L243.2,499.4M186.0,483.4 L181.3,479.3 L177.7,474.3 L174.0,469.5 L169.8,465.0 L166.3,459.9 L162.2,455.3 L159.9,449.3 L155.7,444.8 L152.2,439.8 L148.3,435.1 L144.1,430.6 L140.0,426.0 L135.8,421.5 L132.6,416.2 L127.5,412.5 L124.7,406.9M243.2,499.4 L240.9,493.4 L239.5,487.2 L238.7,480.9 L237.5,474.7 L236.8,468.4 L235.8,462.2 L235.0,455.9 L232.3,450.0 L232.9,443.4 L230.6,437.4M230.6,437.4 L226.4,433.1 L221.6,429.3 L216.5,425.9 L212.2,421.6 L209.2,416.0 L203.1,413.6 L199.3,408.8 L194.4,405.2 L190.5,400.4M124.7,406.9 L130.6,405.5 L136.7,406.7 L142.6,405.3 L148.7,405.4 L154.5,403.0 L160.6,404.0 L166.5,401.8 L172.6,403.1 L178.5,401.5 L184.5,401.1 L190.5,400.4M177.5,569.9 L179.0,563.8 L179.2,557.6 L180.2,551.5 L181.1,545.3 L179.7,538.9 L180.1,532.7 L182.5,526.7 L181.5,520.4 L181.8,514.2 L184.1,508.1 L184.5,501.9 L186.1,495.9 L184.9,489.5 L186.0,483.4M250.6,505.6 L247.3,511.4 L246.6,518.1 L244.1,524.2M250.6,505.6 L243.2,499.4M120.9,406.0 L124.7,406.9M235.9,374.7 L230.2,377.7 L225.1,382.0 L219.0,384.5 L213.1,387.4 L207.8,391.2 L201.9,394.1 L196.4,397.6 L190.5,400.4M462.4,133.8 L468.9,135.1 L475.6,132.9 L482.2,134.3 L488.8,134.0 L495.4,134.0 L502.0,134.2M462.4,133.8 L460.8,127.6 L456.0,123.0 L454.3,116.9M513.1,104.5 L511.6,110.7 L508.8,116.5 L506.4,122.3 L503.9,128.1 L502.0,134.2M513.1,104.5 L508.1,99.9 L504.2,94.4 L500.1,89.1 L495.7,84.0M495.7,84.0 L490.3,87.8 L485.3,92.1 L480.1,96.2 L474.4,99.7 L469.2,103.8 L464.7,108.8 L459.7,113.2 L454.3,116.9M389.1,107.1 L394.1,111.6 L397.2,117.9 L401.9,122.8 L407.2,127.0M389.1,107.1 L392.7,102.0 L398.3,98.6 L402.3,93.9 L405.7,88.5M407.2,127.0 L413.7,125.5 L420.2,123.9 L426.6,121.8 L433.2,120.6 L439.4,118.0 L446.1,117.2 L452.6,115.5M405.7,88.5 L411.9,86.1 L418.2,84.3 L424.9,83.6 L431.6,83.1 L437.7,80.4M437.7,80.4 L440.7,86.1 L441.8,92.5 L444.0,98.4 L448.4,103.5 L450.5,109.4 L452.6,115.5M377.9,107.9 L389.1,107.1M369.9,177.8 L367.0,176.3M408.8,138.4 L407.2,127.0M388.2,46.3 L391.1,52.1 L393.8,58.1 L394.8,64.7 L397.9,70.5 L400.4,76.6 L402.0,82.9 L405.7,88.5M430.3,159.2 L436.4,161.6 L442.9,162.5 L449.2,163.7M462.4,133.8 L458.6,139.2 L458.1,146.2 L454.2,151.6 L451.9,157.8 L449.2,163.7M454.3,116.9 L452.6,115.5M392.5,15.9 L396.6,21.1 L401.9,25.0 L406.8,29.2 L412.0,33.3 L416.9,37.6 L422.0,41.7 L426.9,46.0 L430.2,52.0 L436.4,54.8 L440.2,60.5 L445.4,64.4M445.4,64.4 L442.2,72.8 L437.7,80.4M350.1,242.5 L354.0,237.2 L358.0,231.9 L360.2,225.5 L364.5,220.4 L366.6,214.0 L371.3,209.2 L373.2,202.6 L377.7,197.6M350.1,242.5 L358.5,247.2M358.5,247.2 L364.4,244.9 L370.6,243.4 L376.8,241.8 L382.0,237.4 L388.6,237.2 L394.3,234.3M377.7,197.6 L381.5,203.3 L382.9,210.0 L387.0,215.5 L388.9,222.0 L390.9,228.5 L394.3,234.3M314.7,242.7 L321.8,241.9 L328.9,243.4 L335.9,241.6 L343.0,241.8 L350.1,242.5M378.1,186.1 L377.7,197.6M429.2,206.0 L423.4,204.0 L417.5,202.3 L412.8,197.8 L406.5,197.0 L401.2,193.9 L396.0,190.5 L389.9,189.1 L384.4,186.4M429.2,206.0 L428.9,212.6 L429.0,219.2 L425.9,225.4 L427.0,232.1 L425.5,238.5 L423.7,244.8 L423.8,251.4M423.8,251.4 L418.3,247.3 L412.3,244.2 L405.6,242.1 L400.0,238.0 L394.3,234.3M313.3,247.6 L318.6,251.6 L321.6,257.8 L326.2,262.6 L331.6,266.5 L335.9,271.5 L339.9,276.8 L345.7,280.4 L350.0,285.4 L353.9,290.8M358.5,247.2 L362.1,252.6 L365.0,258.5 L368.0,264.3 L373.5,268.5 L375.2,275.1 L379.3,280.2 L382.9,285.7M382.9,285.7 L375.4,285.7 L368.3,287.8 L361.2,289.9 L353.9,290.8M315.2,315.2 L325.3,321.1M353.9,290.8 L349.6,296.3 L344.2,300.7 L339.8,306.1 L334.4,310.5 L330.6,316.5 L325.3,321.1M340.4,359.7 L338.4,353.8 L337.6,347.7 L337.6,341.6M340.4,359.7 L336.7,365.2 L332.2,370.0 L326.1,373.3 L322.0,378.6 L318.3,384.1 L314.5,389.6 L308.6,393.1 L304.6,398.4M260.9,374.4 L266.5,377.1 L272.4,379.3 L276.8,384.3 L282.9,386.1 L288.3,389.2 L293.3,393.1 L299.6,394.6 L304.6,398.4M325.3,321.1 L330.5,327.3 L333.9,334.5 L337.6,341.6M284.2,445.0 L287.7,439.8 L292.9,436.2 L297.5,432.2 L300.2,426.3 L306.0,423.3 L309.5,418.1M284.2,445.0 L283.9,451.1 L281.4,456.7 L279.6,462.5 L280.3,468.8 L276.9,474.3 L275.8,480.2 L275.2,486.2 L275.2,492.4 L273.0,498.1M309.5,418.1 L314.8,422.3 L319.9,426.7 L326.0,429.7M326.0,429.7 L329.0,435.0 L330.3,441.0 L331.4,447.0 L334.3,452.4 L336.5,458.0 L336.9,464.3 L339.2,469.9M285.1,502.6 L279.0,500.5 L273.0,498.1M285.1,502.6 L291.2,500.8 L297.3,499.6 L303.3,497.7 L309.0,494.8 L315.2,493.5 L321.6,493.3 L327.3,490.4 L333.5,489.1M333.5,489.1 L335.8,482.8 L336.6,476.0 L339.2,469.9M304.6,398.4 L305.7,405.1 L308.7,411.3 L309.5,418.1M230.6,437.4 L236.5,438.6 L242.5,439.0 L248.6,438.9 L254.5,439.9 L260.2,442.8 L266.5,441.3 L272.3,443.1 L278.4,443.3 L284.2,445.0M250.6,505.6 L258.5,504.3 L265.4,500.2 L273.0,498.1M340.4,359.7 L347.2,360.3 L353.7,362.1 L359.6,366.0 L366.3,367.1 L373.0,367.8 L379.7,368.6 L385.9,371.5M361.4,424.9 L354.2,425.2 L347.2,426.9 L340.2,428.7 L333.0,428.5 L326.0,429.7M361.4,424.9 L364.9,419.9 L367.3,414.2 L369.7,408.5 L373.7,403.8 L376.9,398.5 L380.0,393.2 L383.1,388.0 L386.8,383.0 L388.8,377.1M388.8,377.1 L385.9,371.5M386.7,469.1 L380.0,470.0 L373.2,468.6 L366.4,469.2 L359.6,469.5 L352.8,468.8 L346.0,470.8 L339.2,469.9M386.7,469.1 L389.1,463.1 L393.5,458.2 L396.2,452.3 L399.0,446.6M399.0,446.6 L393.6,443.5 L387.9,441.0 L383.2,436.7 L377.2,434.6 L372.0,431.2 L366.8,427.9 L361.4,424.9M307.3,541.4 L304.9,535.4 L301.0,530.3 L296.9,525.3 L295.1,518.9 L290.5,514.3 L288.1,508.3 L285.1,502.6M347.9,509.6 L344.2,504.5 L341.4,498.8 L336.3,494.7 L333.5,489.1M396.7,518.0 L396.3,511.7 L394.2,505.8 L392.8,499.7 L391.7,493.6 L389.9,487.6 L390.0,481.2 L388.8,475.0 L386.7,469.1M778.6,349.2 L784.7,348.1 L790.2,345.5 L796.2,344.1 L801.2,340.3 L806.8,337.8 L812.9,336.8M778.6,349.2 L777.8,342.0 L775.4,335.2 L774.3,328.0 L771.4,321.4M812.9,336.8 L817.3,331.0 L823.5,327.0M771.4,321.4 L778.8,316.6 L786.0,311.4M786.0,311.4 L792.4,313.5 L798.5,316.5 L804.8,319.0 L810.7,322.3 L817.1,324.8 L823.5,327.0M850.9,397.2 L846.1,392.7 L841.7,387.7 L837.2,382.9 L832.9,377.8 L827.3,374.1 L822.3,369.7 L817.8,364.9M817.8,364.9 L817.3,357.7 L815.9,350.7 L814.3,343.8 L812.9,336.8M825.6,325.8 L823.5,327.0M734.4,334.6 L727.7,336.7 L720.7,337.1 L713.7,337.9M734.4,334.6 L736.9,327.6 L741.0,321.3 L744.6,314.8M713.7,337.9 L715.5,331.2 L718.0,324.7 L717.5,317.4 L720.2,311.0M744.6,314.8 L738.4,314.6 L732.5,312.3 L726.2,312.2 L720.2,311.0M709.9,143.3 L703.7,143.3 L697.6,144.7 L691.6,146.2M709.9,143.3 L715.7,139.8 L720.6,135.2 L725.3,130.3 L730.6,126.1M706.5,98.4 L703.4,103.8 L701.4,109.8 L698.5,115.3 L695.7,120.9 L692.2,126.1 L689.2,131.6 L685.8,136.9M706.5,98.4 L710.7,102.7 L715.9,106.0 L720.2,110.2 L724.7,114.2 L728.2,119.3M691.6,146.2 L685.8,136.9M730.6,126.1 L728.2,119.3M742.3,171.6 L737.3,168.0 L732.4,164.3 L727.8,160.3 L724.5,154.7 L719.1,151.5 L714.9,147.0 L709.9,143.3M719.9,207.8 L723.2,207.9M719.9,207.8 L713.4,205.4 L706.6,204.6M706.6,204.6 L703.8,199.0 L699.5,194.3 L696.6,188.7 L695.0,182.4 L690.8,177.6 L687.3,172.4 L685.3,166.3M685.3,166.3 L688.5,159.9 L690.4,153.2 L691.6,146.2M743.6,127.3 L737.0,127.7 L730.6,126.1M737.5,85.9 L735.9,92.7 L733.4,99.2 L732.6,106.1 L730.3,112.7 L728.2,119.3M725.5,69.6 L718.2,69.9 L711.2,72.0M706.5,98.4 L706.0,94.1M711.2,72.0 L708.9,79.2 L708.5,86.9 L706.0,94.1M711.2,72.0 L704.7,67.7 L697.2,65.3 L690.8,60.9M667.5,123.4 L673.4,128.2 L679.5,132.6 L685.8,136.9M667.5,123.4 L665.9,117.3 L663.7,111.4 L661.4,105.5M706.0,94.1 L699.6,95.7 L693.1,96.8 L686.6,97.9 L680.2,99.5 L674.1,102.1 L668.0,105.0 L661.4,105.5M783.6,240.7 L789.6,243.7 L795.9,245.9 L800.9,250.7 L807.0,253.4 L812.5,257.2 L818.8,259.5M558.5,348.6 L564.5,348.9 L570.6,348.8 L576.6,348.2 L582.6,348.6 L588.7,348.9 L594.7,347.8 L600.8,349.2 L606.8,349.3 L612.9,348.3M558.5,348.6 L556.3,353.4M612.9,348.3 L613.2,349.0M613.2,349.0 L608.3,353.4 L604.4,358.7 L600.8,364.2 L596.4,369.0 L593.1,374.7 L589.6,380.3 L584.1,384.3 L580.9,390.0M556.3,353.4 L560.4,358.2 L562.6,364.3 L566.9,369.0 L571.4,373.6 L574.1,379.4 L577.7,384.6 L580.9,390.0M458.6,440.9 L460.1,446.8 L463.7,452.0 L465.4,457.9 L467.7,463.5 L468.4,469.7 L471.3,475.2 L472.5,481.2M458.6,440.9 L452.4,438.0 L445.4,437.0 L439.2,434.2 L432.7,432.0 L426.8,428.2 L420.4,425.8M411.2,441.2 L415.6,433.4 L420.4,425.8M411.2,441.2 L415.2,445.7 L419.9,449.7 L422.2,455.6 L426.4,460.0 L429.7,465.1 L435.2,468.4 L438.6,473.4 L442.8,477.7 L444.8,483.9 L449.2,488.1 L453.3,492.5M453.3,492.5 L460.3,489.7 L466.1,484.9 L472.5,481.2M399.0,446.6 L405.1,443.8 L411.2,441.2M416.6,398.7 L410.9,394.5 L406.2,389.1 L400.6,384.8 L394.4,381.3 L388.8,377.1M416.6,398.7 L419.5,406.5 L422.2,414.4M422.2,414.4 L420.4,425.8M438.9,518.4 L432.2,521.5 L425.9,525.3 L419.4,528.7M438.9,518.4 L442.9,512.2 L446.1,505.5 L448.8,498.5 L453.3,492.5M706.6,204.6 L700.7,208.3 L695.7,213.4 L689.8,217.1 L683.4,220.1M685.3,166.3 L679.1,167.0 L673.2,168.9 L667.4,171.0 L661.6,173.2 L655.6,174.6 L649.8,176.7 L643.8,178.4M643.8,178.4 L646.7,185.0 L646.7,192.4 L649.8,198.9 L651.8,205.8M651.8,205.8 L658.3,208.2 L664.2,212.0 L670.6,214.6 L677.0,217.4 L683.4,220.1M429.2,206.0 L434.6,201.1 L439.7,196.0 L446.8,193.2 L451.8,187.9M449.2,163.7 L451.3,170.0M451.8,187.9 L452.4,178.9 L451.3,170.0M706.7,447.9 L710.5,441.9 L714.6,436.3 L719.0,430.9 L724.0,425.9M706.7,447.9 L699.9,446.3 L693.2,444.3 L687.0,441.0M721.9,406.8 L717.2,402.6 L711.4,400.0 L706.7,395.9M706.7,395.9 L697.6,400.0M697.6,400.0 L693.0,405.1 L688.1,410.0M687.0,441.0 L686.2,434.8 L686.4,428.6 L687.3,422.4 L688.1,416.2 L688.1,410.0M720.4,476.7 L717.7,471.0 L714.2,465.6 L712.3,459.4 L708.3,454.2 L706.7,447.9M720.4,476.7 L716.2,479.0M716.2,479.0 L709.9,477.2 L703.4,476.2 L697.4,473.4 L690.7,472.9 L684.9,469.4 L678.3,468.7 L671.9,467.1 L665.9,464.3M665.9,464.3 L666.0,457.7 L666.9,451.0M687.0,441.0 L680.7,445.3 L674.0,448.6 L666.9,451.0M666.8,380.0 L665.2,385.8 L663.0,391.5 L663.9,397.9 L662.6,403.8 L660.0,409.4M666.8,380.0 L671.8,383.5 L676.5,387.5 L682.9,388.9 L688.0,392.3 L692.1,397.3 L697.6,400.0M688.1,410.0 L681.1,408.6 L674.0,410.5 L667.0,410.1 L660.0,409.4M660.6,477.2 L654.4,475.9 L648.2,474.8 L642.2,472.5 L636.2,470.7 L630.0,469.3 L624.1,466.9 L617.5,467.3 L611.5,465.0M660.6,477.2 L661.8,488.1M661.8,488.1 L658.4,495.6M658.4,495.6 L652.2,493.3 L645.9,492.4 L639.3,492.4 L632.8,492.3 L626.6,490.1 L620.1,490.0 L613.9,487.8M603.5,479.9 L605.3,472.2 L609.4,465.4M603.5,479.9 L609.5,482.9 L613.9,487.8M609.4,465.4 L611.5,465.0M665.9,464.3 L663.6,470.9 L660.6,477.2M666.9,451.0 L661.6,447.0 L656.4,442.8 L651.6,438.2M651.6,438.2 L646.8,441.8 L641.7,445.1 L637.1,449.0 L631.1,450.8 L626.5,454.8 L622.0,459.0 L616.0,460.9 L611.5,465.0M716.2,479.0 L711.0,483.9 L706.3,489.5 L700.4,493.8M700.4,493.8 L694.1,492.1 L687.5,491.8 L681.0,491.7 L674.5,490.7 L668.3,488.3 L661.8,488.1M641.3,295.7 L638.9,301.7 L633.6,305.8 L630.6,311.4 L628.2,317.4 L623.8,322.1 L620.7,327.6 L616.5,332.4 L613.7,338.1M641.3,295.7 L647.0,298.1 L650.7,303.3 L656.0,306.4 L661.7,308.8 L666.0,313.1 L671.2,316.3M649.5,361.9 L642.8,361.6 L636.3,363.4 L629.6,363.9M649.5,361.9 L654.2,356.7 L657.0,350.4 L660.7,344.6 L663.8,338.5 L668.8,333.7 L673.3,328.4 L676.1,322.1M612.9,348.3 L613.7,338.1M613.2,349.0 L617.9,354.8 L623.5,359.6 L629.6,363.9M671.2,316.3 L676.1,322.1M850.9,397.2 L844.7,398.2 L838.4,398.5 L832.1,399.1 L825.8,399.2 L819.7,401.3 L813.5,402.5 L807.3,403.0M787.4,435.5 L789.9,429.5 L792.2,423.4 L794.2,417.1 L797.8,411.6 L800.4,405.6M807.3,403.0 L800.4,405.6M817.8,364.9 L809.4,365.2 L801.1,366.9M807.3,403.0 L807.3,396.8 L805.9,390.8 L803.5,385.1 L802.7,379.0 L802.1,372.9 L801.1,366.9M778.6,349.2 L778.6,349.2M801.1,366.9 L794.8,363.3 L790.7,357.1 L784.5,353.3 L778.6,349.2M433.5,868.5 L426.7,871.1 L419.3,871.2 L412.3,873.0 L405.4,875.2M427.9,831.4 L421.7,832.9 L416.0,835.6 L410.2,838.1 L404.5,841.1 L398.6,843.3 L392.2,844.3M405.4,875.2 L403.2,868.9 L400.9,862.5 L396.6,857.1 L395.0,850.5 L392.2,844.3M457.0,601.9 L454.1,594.6 L452.4,586.9 L450.3,579.3M457.0,601.9 L461.6,597.6 L467.0,594.3 L472.3,591.0 L476.8,586.6 L481.6,582.6 L487.5,580.0 L492.1,575.8 L497.5,572.6 L502.2,568.4M450.3,579.3 L456.5,577.4 L462.0,574.1 L467.3,570.5 L472.8,567.5 L478.0,563.7 L483.9,561.1 L489.5,558.2 L495.3,555.7M502.2,568.4 L500.2,562.5 L498.3,556.5M495.3,555.7 L498.3,556.5M412.2,621.8 L418.4,622.1 L424.5,620.5 L430.7,620.8 L436.9,620.6 L443.0,619.6 L449.1,618.4 L455.3,617.9M417.5,556.1 L423.3,559.4 L428.3,564.0 L434.4,567.0 L439.4,571.6 L445.6,574.4 L450.3,579.3M455.3,617.9 L457.0,610.0 L457.0,601.9M455.3,617.9 L458.1,619.9M458.1,619.9 L464.8,620.0 L471.6,620.6 L478.3,619.2 L485.0,619.3 L491.7,619.1 L498.4,618.4 L505.1,619.5M520.3,597.6 L516.7,591.7 L512.9,586.1 L509.8,579.9 L506.7,573.8 L502.2,568.4M520.3,597.6 L516.4,604.4 L512.8,611.3 L508.7,618.0M508.7,618.0 L505.1,619.5M438.9,518.4 L443.8,522.2 L449.2,525.2 L454.9,527.7 L460.0,531.0 L464.8,534.9 L469.3,539.4 L474.3,542.9 L480.0,545.5 L484.9,549.2 L490.4,552.0 L495.3,555.7M807.5,757.1 L800.9,757.1 L794.7,754.7M852.3,718.0 L846.5,715.2 L839.9,714.8 L834.3,711.3 L827.7,711.1 L821.8,708.5 L816.1,705.6 L809.7,704.6M794.7,754.7 L795.7,748.2 L798.8,742.3 L801.1,736.1 L803.4,730.0 L803.0,723.0 L806.5,717.3 L807.2,710.7 L809.7,704.6M639.0,809.2 L645.1,807.3M615.5,793.0 L620.3,783.0M645.1,807.3 L644.3,801.3 L642.5,795.4 L641.3,789.5 L639.5,783.6 L638.1,777.7M620.3,783.0 L625.9,780.2 L631.8,778.4 L638.1,777.7M769.8,868.5 L767.4,862.9 L766.6,856.8 L764.4,851.2 L763.3,845.2 L763.3,839.0 L760.4,833.5 L759.2,827.5M820.6,808.3 L814.6,807.0 L808.6,806.3 L802.5,807.8 L796.5,807.1 L790.5,806.9 L784.5,806.0M784.5,806.0 L779.6,810.5 L773.6,813.7 L769.9,819.6 L764.5,823.5 L759.2,827.5M667.8,844.1 L674.1,845.7 L680.5,845.8 L686.8,846.9 L693.3,845.5 L699.6,846.6M667.8,844.1 L662.6,847.6 L658.4,852.2 L654.4,857.0M699.9,847.4 L699.6,846.6M705.6,838.4 L702.9,832.6 L703.1,825.9 L700.5,820.1 L698.3,814.1M705.6,838.4 L699.6,846.6M698.3,814.1 L692.4,811.4 L686.0,809.9 L680.5,806.0 L674.4,803.7 L668.2,801.5M668.2,801.5 L659.6,809.5M659.6,809.5 L661.7,816.3 L662.5,823.4 L663.4,830.5 L667.3,836.9 L667.8,844.1M618.8,832.8 L623.2,837.3 L629.5,838.9 L634.0,843.3 L639.2,846.6 L644.8,849.3 L648.6,854.6 L654.4,857.0M645.1,807.3 L652.3,809.0 L659.6,809.5M765.3,890.1 L759.9,887.5 L755.0,884.0 L749.6,881.2 L745.4,876.7 L739.8,874.3 L734.5,871.3 L730.7,866.1 L725.7,862.7 L720.0,860.5 L715.1,857.0 L709.5,854.6 L705.5,849.8 L699.9,847.4M705.6,838.4 L711.6,835.4 L718.5,835.2 L724.5,832.3 L730.7,830.0 L736.7,826.9 L743.1,825.1 L749.5,823.4M759.2,827.5 L749.5,823.4M443.6,708.4 L450.0,706.0 L455.3,701.4 L461.5,698.6 L467.8,696.1 L473.9,693.0M481.6,695.4 L480.4,694.4M480.4,694.4 L473.9,693.0M532.6,681.9 L528.8,677.1 L526.5,671.4 L523.8,665.9M532.6,681.9 L528.1,689.1 L521.9,695.1M523.8,665.9 L516.8,666.0 L509.8,665.7 L502.9,667.4 L496.0,668.0M480.4,694.4 L483.7,689.2 L487.6,684.4 L489.3,678.3 L493.1,673.5 L496.0,668.0M523.8,665.9 L524.8,657.1 L524.8,648.3M524.8,648.3 L521.0,642.5 L519.1,635.8 L515.7,629.8 L512.3,623.8 L508.7,618.0M505.1,619.5 L502.8,625.6 L499.3,631.1 L496.6,637.1 L494.1,643.1 L491.0,648.8 L487.7,654.5M496.0,668.0 L492.9,660.6 L487.7,654.5M700.4,493.8 L699.1,503.8M699.1,503.8 L693.8,507.6 L690.9,513.7 L685.4,517.3 L682.3,523.3 L677.9,528.0 L672.7,531.8M658.4,495.6 L657.7,502.4M657.7,502.4 L660.1,508.6 L662.6,514.7 L667.1,519.8 L669.1,526.3 L672.7,531.8M613.9,487.8 L617.9,493.0 L619.6,499.5 L624.3,504.2 L626.7,510.3 L630.6,515.5M657.7,502.4 L652.0,504.4 L646.3,506.6 L641.7,510.7 L635.8,512.3 L630.6,515.5M710.8,519.6 L710.7,526.6 L709.6,533.5 L707.6,540.4 L708.0,547.4M710.8,519.6 L706.5,514.7 L702.9,509.2 L699.1,503.8M708.0,547.4 L701.0,545.8 L693.8,545.3 L686.9,543.5 L680.3,540.3 L673.1,539.5M672.7,531.8 L673.1,539.5M495.7,84.0 L494.2,75.9 L491.8,68.0M445.4,64.4 L452.1,60.4 L459.3,57.3 L466.6,54.2M466.6,54.2 L473.1,57.3 L478.7,62.1 L485.0,65.6 L491.8,68.0M558.5,348.6 L555.4,340.3 L551.7,332.3M613.7,338.1 L609.7,333.1 L604.5,329.1 L600.1,324.5 L596.2,319.3 L591.3,315.0 L588.4,309.0 L582.9,305.3 L578.4,300.7 L574.6,295.4M568.9,295.2 L569.2,295.1M568.9,295.2 L566.7,301.0 L562.3,305.4 L558.5,310.1 L555.0,315.1 L552.6,320.8M574.6,295.4 L569.2,295.1M552.6,320.8 L551.7,332.3M406.1,338.9 L412.4,339.6 L418.6,339.8 L424.9,340.5 L431.2,340.1 L437.4,340.5 L443.7,340.7 L449.8,342.7 L456.1,343.5 L462.4,342.7M406.1,338.9 L404.4,332.9 L402.1,327.2 L400.3,321.3 L397.5,315.8 L395.5,310.0 L393.9,304.0M462.4,342.7 L460.2,336.8 L460.0,330.3 L456.6,324.7 L455.5,318.5 L455.1,312.1 L452.3,306.3 L450.7,300.2 L449.6,294.0 L449.1,287.6 L445.8,281.9 L446.1,275.3 L443.6,269.5M393.9,304.0 L395.1,297.3 L394.8,290.5M394.8,290.5 L399.6,286.7 L405.2,284.0 L409.3,279.1 L415.0,276.7 L419.9,273.0 L424.2,268.4 L429.9,265.9M429.9,265.9 L436.7,268.0 L443.6,269.5M416.6,398.7 L420.8,394.4 L426.1,391.2 L430.4,387.0 L434.0,381.9 L439.1,378.5 L441.9,372.7 L446.3,368.5 L451.4,365.1 L456.1,361.3 L459.5,356.1 L464.8,352.9 L468.6,348.1M385.9,371.5 L388.3,365.4 L392.3,360.4 L396.4,355.4 L398.8,349.4 L403.8,344.9 L406.1,338.9M468.6,348.1 L462.4,342.7M337.6,341.6 L343.1,338.7 L347.4,334.1 L353.5,332.1 L358.5,328.5 L363.5,324.9 L368.3,321.1 L374.1,318.7 L378.8,314.7 L384.1,311.5 L388.4,306.9 L393.9,304.0M382.9,285.7 L388.4,289.2 L394.8,290.5M423.8,251.4 L426.2,259.0 L429.9,265.9M711.9,338.8 L711.5,345.1 L710.4,351.3 L712.3,357.7 L710.3,363.9 L710.7,370.2M711.9,338.8 L705.6,335.0 L699.5,330.5 L691.9,328.7 L686.0,324.1M684.4,324.2 L686.0,324.1M684.4,324.2 L683.3,330.8 L684.8,337.3 L684.0,343.8 L685.6,350.4 L684.4,356.9 L685.5,363.5M685.5,363.5 L691.5,365.3 L697.3,367.6 L703.3,369.5 L708.9,372.3M708.9,372.3 L710.7,370.2M713.7,337.9 L711.9,338.8M720.2,311.0 L714.5,304.8 L709.3,298.1M709.3,298.1 L704.3,303.0 L700.8,309.3 L695.1,313.5 L690.2,318.5 L686.0,324.1M649.5,361.9 L654.9,365.8 L661.2,368.0M661.2,368.0 L667.2,366.2 L673.3,365.5 L679.2,363.6 L685.5,363.5M676.1,322.1 L684.4,324.2M661.2,368.0 L664.6,373.7 L666.8,380.0M706.7,395.9 L706.2,387.9 L708.6,380.2 L708.9,372.3M592.1,12.4 L586.3,16.3 L582.5,22.3 L575.9,25.3 L572.0,31.3 L566.7,35.7 L561.4,40.1M561.4,40.1 L554.1,41.0 L547.1,43.6 L540.0,45.2M540.0,45.2 L535.4,41.0 L529.9,38.0 L524.8,34.3 L520.7,29.5M491.8,68.0 L497.8,65.7 L502.6,61.5 L507.9,58.0M520.7,29.5 L517.7,35.0 L515.7,40.9 L513.3,46.7 L510.2,52.2 L507.9,58.0M561.4,40.1 L558.6,46.4 L557.5,53.2 L555.4,59.7M540.0,45.2 L539.4,51.6 L540.2,58.1 L539.2,64.5M555.4,59.7 L547.0,61.3 L539.2,64.5M513.1,104.5 L519.1,102.6 L525.4,102.0 L531.6,101.1 L537.8,100.2 L543.9,98.7M507.9,58.0 L513.6,60.1 L519.1,62.9 L525.4,63.3 L530.8,66.5 L536.8,67.6M543.9,98.7 L543.6,92.2 L541.8,86.1 L539.3,80.1 L539.2,73.6 L536.8,67.6M536.8,67.6 L539.2,64.5M667.5,123.4 L661.6,126.8 L656.0,130.6 L650.4,134.6M637.3,175.5 L636.1,172.6M637.3,175.5 L643.8,178.4M650.4,134.6 L648.2,141.0 L645.8,147.3 L643.8,153.8 L640.6,159.8 L639.3,166.6 L636.1,172.6M655.3,49.6 L660.7,55.5 L667.4,60.0 L673.3,65.3M655.3,49.6 L648.7,49.5 L642.3,51.3 L635.9,52.4 L629.5,53.6 L622.9,53.1 L616.5,54.2M673.3,65.3 L668.7,71.0 L665.5,77.4 L662.8,84.1 L658.7,90.1 L655.5,96.5M616.5,54.2 L618.5,60.5 L622.0,66.0 L624.9,71.8 L627.5,77.7 L629.8,83.8 L632.9,89.5 L636.5,94.9M636.5,94.9 L642.9,95.1 L649.1,96.5 L655.5,96.5M690.8,60.9 L684.9,62.1 L678.9,62.9 L673.3,65.3M592.1,12.4 L593.2,19.4 L597.1,25.6 L597.0,32.9 L600.8,39.1 L602.4,46.0M602.4,46.0 L608.8,51.2 L616.5,54.2M661.4,105.5 L655.5,96.5M793.5,295.4 L801.7,299.0 L810.2,301.5M793.5,295.4 L791.4,288.1 L788.3,281.1M788.3,281.1 L796.1,279.8 L803.5,277.2M803.5,277.2 L810.4,282.0 L817.1,287.2M810.2,301.5 L812.5,293.8 L817.1,287.2M786.0,311.4 L789.2,303.2 L793.5,295.4M825.6,325.8 L821.6,319.8 L818.0,313.6 L815.1,306.9 L810.2,301.5M761.0,263.0 L766.5,266.6 L771.3,271.2 L777.2,274.1 L783.4,276.6 L788.3,281.1M771.4,321.4 L765.5,316.6 L759.9,311.6 L753.5,307.6M753.6,264.8 L750.1,268.9M750.1,268.9 L751.0,275.3 L751.3,281.8 L752.5,288.2 L751.8,294.8 L752.6,301.2 L753.5,307.6M818.8,259.5 L813.0,264.8 L809.0,271.7 L803.5,277.2M601.2,445.8 L604.2,439.6 L604.1,432.5 L607.4,426.5M601.2,445.8 L603.0,452.7 L607.8,458.4 L609.4,465.4M651.6,438.2 L649.9,433.2M607.4,426.5 L613.5,427.2 L619.6,428.1 L625.8,428.3 L631.8,429.5 L638.0,430.2 L643.7,433.4 L649.9,433.2M629.6,363.9 L630.3,371.1 L628.9,378.2 L627.3,385.2 L627.4,392.4M660.0,409.4 L651.9,413.1M627.4,392.4 L633.0,395.7 L637.1,400.7 L641.5,405.5 L646.9,409.1 L651.9,413.1M649.9,433.2 L649.8,426.5 L650.3,419.7 L651.9,413.1M595.0,486.2 L589.2,483.1 L582.3,483.3 L576.2,481.1 L570.5,477.6 L564.3,475.7 L557.7,475.1 L551.8,472.1M595.0,486.2 L603.5,479.9M601.2,445.8 L595.4,443.9 L589.0,445.2 L583.1,443.8 L577.2,442.3 L571.3,441.2 L565.2,440.8 L559.2,440.1 L553.4,438.3M553.4,438.3 L552.7,445.0 L552.7,451.8 L553.7,458.6 L552.7,465.3 L551.8,472.1M595.0,486.2 L592.3,492.0 L593.0,498.8 L590.3,504.6M546.3,502.7 L543.3,496.6 L543.3,489.6 L540.3,483.5M546.3,502.7 L552.7,504.3 L558.0,508.8 L564.1,511.3 L570.5,513.1M590.3,504.6 L583.8,507.8 L577.4,510.9 L570.5,513.1M551.8,472.1 L545.5,477.1 L540.3,483.5M512.7,538.8 L510.8,532.8 L509.7,526.6 L509.2,520.2 L507.6,514.1 L506.7,507.9 L503.3,502.2 L501.6,496.2 L500.6,489.9 L499.9,483.6M512.7,538.8 L508.3,545.0 L503.2,550.7 L498.3,556.5M472.5,481.2 L479.0,481.2 L485.2,479.1 L491.5,478.1M491.5,478.1 L499.9,483.6M460.0,193.9 L466.2,193.5 L472.2,195.3 L478.4,195.3 L484.3,197.5 L490.4,198.8 L496.6,198.6M460.0,193.9 L462.7,200.0 L463.3,206.6 L465.6,212.8 L465.8,219.4 L466.8,225.9 L469.3,232.0M496.6,198.6 L495.1,205.9 L491.7,212.6 L489.6,219.7 L487.5,226.8M469.3,232.0 L475.6,230.9 L481.6,229.2 L487.5,226.8M449.9,267.4 L443.6,269.5M449.9,267.4 L452.5,261.2 L457.0,255.9 L458.7,249.2 L462.4,243.6 L467.0,238.4 L469.3,232.0M451.8,187.9 L460.0,193.9M498.3,234.5 L499.2,241.8 L498.3,249.2 L499.1,256.5 L500.4,263.7M498.3,234.5 L503.9,231.0 L510.4,229.1 L516.1,225.6 L521.6,221.8 L526.9,217.6 L533.2,215.3M500.4,263.7 L505.4,259.6 L510.4,255.5 L516.1,252.3 L521.5,248.5 L526.5,244.4 L530.2,238.6 L535.9,235.3 L541.1,231.4 L546.2,227.4M533.2,215.3 L540.1,220.9 L546.2,227.4M518.9,190.2 L522.2,196.6 L526.6,202.5 L530.4,208.6 L533.2,215.3M518.9,190.2 L511.4,192.7 L504.3,196.3 L496.6,198.6M487.5,226.8 L492.3,231.5 L498.3,234.5M584.7,162.0 L584.4,168.0 L582.9,173.9 L582.9,180.0 L582.0,186.0M584.7,162.0 L579.1,159.2 L574.3,155.3 L568.6,152.7 L563.6,149.1 L558.0,146.5 L552.8,143.0M582.0,186.0 L576.3,183.4 L570.5,181.3 L564.4,180.0 L558.3,179.0 L552.6,176.3 L546.6,174.7 L540.7,172.9 L534.8,171.3 L528.6,170.4 L522.7,168.3M552.8,143.0 L548.5,147.8 L543.4,151.5 L537.3,153.8 L532.0,157.2 L527.6,161.8 L522.7,165.7M522.7,165.7 L522.5,166.9M522.5,166.9 L522.7,168.3M502.0,134.2 L505.4,139.5 L509.9,144.0 L512.6,149.8 L515.7,155.3 L520.3,159.8 L522.7,165.7M451.3,170.0 L457.8,169.3 L464.3,170.5 L470.7,168.0 L477.2,168.9 L483.7,168.2 L490.1,167.4 L496.6,166.8 L503.1,167.8 L509.6,168.4 L516.1,167.3 L522.5,166.9M518.9,190.2 L520.5,182.9 L520.9,175.5 L522.7,168.3M641.3,295.7 L639.5,285.0M574.6,295.4 L579.7,291.5 L586.0,289.6 L591.3,286.0 L596.8,282.7M596.8,282.7 L602.8,284.2 L608.9,284.5 L615.1,283.4 L621.1,285.1 L627.3,283.8 L633.4,284.5 L639.5,285.0M741.8,270.7 L737.2,276.0 L731.1,279.5 L726.3,284.7 L720.6,288.6 L714.2,291.7 L709.5,297.0M741.8,270.7 L735.0,270.1 L728.8,267.2 L722.0,266.4 L715.7,264.1 L709.6,260.7 L702.9,260.0M709.5,297.0 L703.9,291.3 L696.9,287.5 L691.3,281.9M702.9,260.0 L693.8,261.4M693.8,261.4 L690.7,267.6 L687.8,274.0M687.8,274.0 L691.3,281.9M750.1,268.9 L741.8,270.7M744.6,314.8 L753.5,307.6M709.3,298.1 L709.5,297.0M719.9,207.8 L717.2,213.3 L714.9,219.0 L714.0,225.1 L712.2,230.9 L711.2,237.0 L708.2,242.4 L706.5,248.3 L704.2,254.0 L702.9,260.0M671.2,316.3 L675.3,311.0 L677.5,304.6 L681.9,299.5 L684.0,293.0 L687.9,287.6 L691.3,281.9M683.4,220.1 L680.8,226.0 L678.8,232.2 L677.1,238.4M677.1,238.4 L681.8,243.8 L686.4,249.2 L688.8,256.2 L693.8,261.4M677.1,238.4 L676.5,238.7M676.5,238.7 L672.1,243.4 L666.5,246.8 L663.7,253.0 L658.9,257.2 L653.9,261.2 L648.4,264.8 L643.9,269.3 L640.1,274.5M640.1,274.5 L640.3,282.9M640.3,282.9 L646.4,282.7 L652.1,280.1 L658.3,280.4 L663.9,277.5 L670.1,278.1 L675.7,275.2 L682.0,275.8 L687.8,274.0M639.5,285.0 L640.3,282.9M752.3,396.8 L758.6,397.6 L764.9,397.5 L771.2,398.3 L777.6,397.0 L783.8,399.5 L790.2,398.4M752.3,396.8 L752.9,390.4 L752.7,384.0 L753.2,377.7 L751.8,371.3 L752.7,364.9M790.2,398.4 L786.8,392.5 L785.3,385.9 L784.4,379.1 L780.0,373.5 L778.0,367.1 L777.3,360.2 L773.9,354.2M773.9,354.2 L767.6,356.0 L761.7,359.0 L755.6,361.3M755.6,361.3 L752.7,364.9M750.3,399.4 L752.3,396.8M800.4,405.6 L795.8,401.3 L790.2,398.4M710.7,370.2 L716.6,368.5 L722.6,368.1 L728.8,368.5 L734.6,366.6 L740.7,366.4 L746.8,366.4 L752.7,364.9M778.6,349.2 L773.9,354.2M734.4,334.6 L739.5,339.3 L743.1,345.1 L746.6,351.1 L751.7,355.6 L755.6,361.3M442.7,805.9 L436.3,805.1 L430.0,806.7 L423.7,805.7 L417.3,806.1 L411.0,805.6 L404.6,806.6 L398.3,806.5 L392.0,805.7 L385.7,804.0 L379.3,803.9 L373.0,805.5 L366.6,804.7M413.5,771.0 L408.5,775.0 L402.2,777.0 L398.2,782.6 L392.6,785.6 L387.0,788.6 L381.7,792.2 L375.8,794.8 L370.9,798.9 L365.6,802.4M365.6,802.4 L366.6,804.7M354.8,733.3 L350.5,738.4 L349.2,745.1 L345.3,750.4 L342.2,756.1 L337.8,761.0 L335.6,767.3M365.6,802.4 L361.6,797.1 L356.5,792.7 L353.0,787.1 L347.9,782.8 L344.0,777.4 L339.4,772.6 L335.6,767.3M278.6,722.0 L278.3,728.4 L279.6,734.7 L279.2,741.2 L281.8,747.4 L280.6,753.9 L281.7,760.2 L282.4,766.6 L282.2,773.0 L283.2,779.3M335.6,767.3 L328.9,768.3 L322.2,769.1 L315.9,771.7 L309.1,772.0 L302.7,774.0 L296.1,775.5 L289.5,776.7 L283.2,779.3M183.3,750.4 L188.4,753.9 L194.2,756.0 L199.3,759.3 L204.7,762.2 L210.0,765.4 L215.5,768.0 L221.4,769.9 L226.6,773.1 L231.6,776.7 L237.3,779.0 L243.4,780.5 L248.2,784.5 L253.7,787.1 L258.8,790.5 L264.5,792.9M283.2,779.3 L276.5,783.1 L270.7,788.3 L264.5,792.9M197.8,898.9 L201.0,893.5 L204.3,888.1 L208.8,883.6 L211.6,877.9 L216.3,873.6 L220.4,868.8 L224.4,864.0 L226.3,857.6 L230.7,853.0 L234.0,847.7 L238.6,843.3 L241.2,837.4 L246.5,833.5 L248.7,827.3 L253.7,823.2 L257.6,818.3 L261.1,813.1 L264.3,807.7M264.3,807.7 L263.3,800.2 L264.5,792.9M762.7,747.4 L762.0,754.4 L760.7,761.4 L759.8,768.4 L759.1,775.4M762.7,747.4 L771.5,748.1 L780.3,749.0M780.3,749.0 L786.1,751.4 L790.9,755.5M790.9,755.5 L788.4,761.9 L785.8,768.4 L783.9,775.0 L783.0,782.0 L781.0,788.6M781.0,788.6 L775.6,785.2 L770.2,781.7 L764.7,778.5 L759.1,775.4M794.7,754.7 L790.9,755.5M784.5,806.0 L782.5,797.3 L781.0,788.6M668.2,801.5 L669.5,794.5 L672.8,788.1M638.1,777.7 L641.3,772.1 L643.2,766.0 L646.3,760.4M646.3,760.4 L650.4,765.3 L655.1,769.7 L659.5,774.3 L664.5,778.4 L668.1,783.8 L672.8,788.1M749.5,823.4 L745.5,817.8 L741.7,812.2 L739.3,805.7M759.1,775.4 L752.0,777.8 L744.7,779.5M744.7,779.5 L743.6,786.1 L743.1,792.8 L739.7,798.9 L739.3,805.7M698.3,814.1 L702.0,808.7 L704.6,802.5 L709.3,797.8 L712.2,791.9M739.3,805.7 L734.4,801.9 L728.8,799.5 L723.7,796.3 L717.4,795.2 L712.2,791.9M672.8,788.1 L679.2,782.4 L686.8,778.4M686.8,778.4 L692.6,782.5 L698.8,785.9 L706.0,787.2 L711.9,791.2M712.2,791.9 L711.9,791.2M459.4,632.8 L462.7,638.8 L467.0,644.1 L471.5,649.4 L474.6,655.5M459.4,632.8 L456.1,638.7 L454.1,645.2 L452.1,651.6 L449.5,657.9 L446.0,663.7M474.6,655.5 L471.4,661.0 L468.7,666.8 L464.6,671.8M446.0,663.7 L452.7,665.3 L457.9,670.2 L464.6,671.8M458.1,619.9 L458.6,626.4 L459.4,632.8M487.7,654.5 L481.2,655.0 L474.6,655.5M425.5,668.6 L432.3,666.9 L438.9,664.2 L446.0,663.7M473.9,693.0 L470.1,686.2 L468.7,678.4 L464.6,671.8M546.3,502.7 L544.9,509.0 L540.6,514.3 L538.3,520.3 L536.7,526.6 L534.3,532.6M570.5,513.1 L567.2,520.4 L566.0,528.4M566.0,528.4 L559.8,529.8 L553.4,530.9 L546.9,530.4 L540.5,530.7 L534.3,532.6M512.7,538.8 L519.2,536.9 L525.8,535.9 L532.4,534.6M540.3,483.5 L533.6,483.9 L526.8,483.9 L520.1,484.0 L513.4,482.6 L506.6,483.2 L499.9,483.6M534.3,532.6 L532.4,534.6M811.8,570.0 L805.9,568.6 L799.9,567.6 L794.3,565.1 L788.0,565.7 L782.2,563.9M811.8,570.0 L810.5,576.8 L809.6,583.7 L807.3,590.3 L808.0,597.5 L806.3,604.2M782.2,563.9 L782.1,570.5 L782.9,577.1 L784.7,583.6 L784.3,590.2 L783.4,596.9 L785.4,603.4 L784.5,610.1 L785.7,616.6M806.3,604.2 L800.0,609.2 L792.4,612.2 L785.7,616.6M816.5,567.6 L811.8,570.0M776.2,557.5 L771.5,562.2 L767.1,567.2 L763.3,572.7 L757.6,576.4 L752.8,581.0 L748.8,586.4M776.2,557.5 L782.2,563.9M748.8,586.4 L752.3,592.3 L753.5,599.0 L755.1,605.6 L757.6,611.8 L761.5,617.5 L763.3,623.9M781.9,621.9 L775.7,622.9 L769.6,623.7 L763.3,623.9M781.9,621.9 L785.7,616.6M781.9,621.9 L786.7,626.8 L791.4,631.9 L796.7,636.4 L799.7,643.0 L805.1,647.4 L809.7,652.6M749.8,535.1 L756.8,535.4 L763.8,535.0 L770.9,535.4M749.8,535.1 L746.6,529.6 L742.7,524.6 L740.2,518.7 L736.9,513.3 L732.8,508.5M732.8,508.5 L731.5,501.1 L730.7,493.6 L729.2,486.3 L729.3,478.7M770.9,535.3 L770.9,535.4M770.9,535.3 L769.2,528.8 L766.3,522.7 L763.6,516.6 L763.3,509.5 L759.4,503.8 L756.6,497.6 L755.6,490.9M755.6,490.9 L751.3,486.4 L746.2,483.0 L740.3,480.7 L735.9,476.4M729.3,478.7 L735.9,476.4M776.2,557.5 L774.6,550.1 L772.6,542.8 L770.9,535.4M726.7,549.8 L732.7,546.5 L738.9,543.4 L744.7,539.8 L749.8,535.1M726.7,549.8 L728.2,556.0 L729.5,562.3 L731.3,568.4 L735.0,573.9 L736.3,580.1M736.3,580.1 L742.7,583.0 L748.8,586.4M710.8,519.6 L716.1,516.3 L721.7,513.8 L727.8,512.2 L732.8,508.5M709.1,548.3 L708.0,547.4M709.1,548.3 L717.9,549.3 L726.7,549.8M720.4,476.7 L729.3,478.7M789.6,523.0 L783.8,527.7 L776.5,530.3 L770.9,535.3M788.4,488.8 L781.8,489.6 L775.2,489.6 L768.7,490.8 L762.1,490.3 L755.6,490.9M753.1,458.4 L749.7,463.8 L744.4,467.3 L740.7,472.3 L735.9,476.4M554.9,643.1 L555.0,650.1 L553.9,657.1 L555.0,664.2 L554.4,671.2M554.9,643.1 L560.5,638.2 L566.9,634.2 L572.2,629.0M572.2,629.0 L575.6,634.0 L579.8,638.5 L583.8,643.1 L585.6,649.3 L589.0,654.4 L593.6,658.6M593.6,658.6 L586.7,659.5 L580.5,662.6 L573.8,664.1 L567.8,668.0 L561.2,670.0 L554.4,671.2M532.6,681.9 L543.2,683.3M554.9,643.1 L548.9,644.3 L542.7,644.4 L536.9,646.6 L530.6,646.0 L524.8,648.3M554.4,671.2 L549.2,677.7 L543.2,683.3M520.3,597.6 L526.3,597.3 L532.3,596.6 L538.4,596.9 L544.4,596.1M572.2,629.0 L571.9,622.6 L571.3,616.4M544.4,596.1 L550.0,600.9 L557.4,603.1 L562.7,608.3 L569.0,612.1M569.0,612.1 L571.3,616.4M520.5,305.1 L516.1,309.4 L511.4,313.4 L507.5,318.2 L503.5,322.9 L499.2,327.3 L495.3,332.0 L491.7,337.0M520.5,305.1 L520.1,297.6 L520.2,290.0 L518.3,282.6M491.7,337.0 L492.7,330.6 L492.2,324.1 L492.1,317.7 L492.8,311.2 L490.8,304.8 L492.2,298.3 L492.3,291.9 L491.5,285.4 L491.6,279.0 L491.4,272.5M518.3,282.6 L512.7,280.1 L507.3,277.4 L501.9,274.5 L496.9,271.0M491.4,272.5 L496.9,271.0M491.4,337.6 L491.7,337.0M491.4,337.6 L497.4,336.8 L503.4,335.8 L509.6,337.0 L515.6,336.3 L521.6,335.5 L527.6,334.2 L533.7,334.2 L539.6,332.3 L545.6,331.7 L551.7,332.3M552.6,320.8 L545.6,318.8 L539.2,315.7 L532.9,312.2 L526.3,309.4 L520.5,305.1M568.9,295.2 L562.4,292.6 L557.4,287.8 L551.9,283.7 L546.2,279.8 L539.9,277.0M539.9,277.0 L532.7,278.9 L525.7,281.3 L518.3,282.6M478.5,351.3 L481.9,345.9 L487.7,342.7 L491.4,337.6M478.5,351.3 L468.6,348.1M449.9,267.4 L456.9,267.6 L463.6,269.8 L470.7,269.0 L477.6,270.3 L484.3,272.7 L491.4,272.5M539.9,277.0 L540.9,270.9 L541.2,264.7 L543.4,258.7 L543.3,252.4 L543.5,246.2 L546.7,240.4 L547.4,234.2 L547.4,227.9M547.4,227.9 L546.2,227.4M500.4,263.7 L496.9,271.0M571.5,74.8 L567.8,80.2 L565.8,86.4 L563.4,92.4 L560.2,98.0 L557.0,103.6M571.5,74.8 L577.0,71.8 L581.4,67.2 L586.1,63.0 L591.3,59.5 L596.5,56.0M596.5,56.0 L595.8,62.3 L596.6,68.5 L598.8,74.7 L599.5,80.9 L598.7,87.2M598.7,87.2 L595.0,92.3 L590.5,96.8 L587.7,102.6 L583.9,107.6 L579.8,112.5M579.8,112.5 L573.9,111.0 L567.9,110.2 L561.8,110.0M561.8,110.0 L557.0,103.6M555.4,59.7 L560.1,65.4 L566.1,69.8 L571.5,74.8M543.9,98.7 L550.1,102.2 L557.0,103.6M602.4,46.0 L596.5,56.0M627.4,101.6 L621.5,99.0 L615.8,96.1 L610.0,93.3 L604.0,91.0 L598.7,87.2M627.4,101.6 L636.5,94.9M552.8,143.0 L553.4,136.1 L555.4,129.5 L559.0,123.4 L561.2,116.9 L561.8,110.0M605.2,145.3 L612.3,148.8M605.2,145.3 L603.9,138.4 L602.4,131.6 L600.6,124.9M612.3,148.8 L618.4,144.9 L624.4,140.8 L629.6,135.7 L635.9,131.9M600.6,124.9 L605.6,119.6 L611.7,115.6 L617.8,111.7 L623.6,107.3M623.6,107.3 L627.4,113.1 L630.3,119.4 L633.3,125.5 L635.9,131.9M584.7,162.0 L589.5,157.5 L595.2,154.0 L599.9,149.3 L605.2,145.3M579.8,112.5 L584.7,116.1 L589.9,119.2 L595.2,122.0 L600.6,124.9M650.4,134.6 L643.1,133.5 L635.9,131.9M636.1,172.6 L631.2,167.9 L627.2,162.4 L621.8,158.3 L617.9,152.7 L612.3,148.8M627.4,101.6 L623.6,107.3M607.0,421.8 L607.7,414.4 L610.8,407.6M607.0,421.8 L600.5,421.6 L594.5,419.5 L588.6,416.7 L582.3,415.8 L575.8,415.8 L569.9,413.4 L563.9,411.2 L557.5,410.8M610.8,407.6 L604.5,404.6 L598.9,400.7 L593.2,396.7 L586.3,395.0 L580.8,390.7M557.5,410.8 L561.4,405.9 L566.6,402.5 L571.0,398.2 L576.4,395.0 L580.8,390.7M607.4,426.5 L607.0,421.8M627.4,392.4 L622.6,398.3 L616.3,402.5 L610.8,407.6M541.6,418.0 L546.2,424.4 L550.3,431.0 L553.4,438.3M541.6,418.0 L549.2,413.7 L557.5,410.8M580.9,390.0 L580.8,390.7M505.6,433.0 L510.9,429.5 L517.3,428.4 L522.1,423.9 L528.6,422.9 L533.7,419.1 L539.6,417.0M505.6,433.0 L500.1,430.4 L495.9,425.7 L489.8,424.2 L485.7,419.3 L480.3,416.6M539.6,417.0 L538.1,411.1 L535.5,405.5 L535.5,399.1 L533.0,393.5 L531.5,387.6 L529.1,381.9M529.1,381.9 L523.2,379.1 L517.8,375.1 L512.0,372.0 L506.2,368.9 L500.1,366.4 L493.5,364.7 L488.1,360.8 L482.2,357.8M482.2,357.8 L481.5,363.7 L480.7,369.7 L480.2,375.7 L477.4,381.3 L478.1,387.5 L476.7,393.4 L475.5,399.2 L473.7,405.0M473.7,405.0 L477.5,410.5 L480.3,416.6M541.6,418.0 L539.6,417.0M491.5,478.1 L493.4,471.6 L495.6,465.2 L496.7,458.5 L498.4,451.9 L502.6,446.2 L504.8,439.8 L505.6,433.0M458.6,440.9 L463.3,436.4 L466.4,430.4 L470.9,425.7 L475.0,420.6 L480.3,416.6M556.3,353.4 L552.3,358.6 L546.6,362.3 L542.8,367.7 L539.1,373.3 L533.9,377.4 L529.1,381.9M478.5,351.3 L482.2,357.8M422.2,414.4 L428.8,414.3 L434.8,410.8 L441.3,410.0 L448.0,410.2 L454.3,408.0 L460.9,407.8 L467.1,405.2 L473.7,405.0M569.2,295.1 L568.3,288.9 L568.7,282.8 L569.1,276.7 L570.0,270.6 L570.2,264.5 L570.7,258.4 L572.1,252.4 L570.5,246.2 L573.1,240.2 L572.2,234.1M596.8,282.7 L597.3,276.2 L596.7,269.9 L594.7,263.6 L595.4,257.1 L593.3,250.9 L593.2,244.4M593.2,244.4 L586.0,241.4 L579.1,237.6 L572.2,234.1M547.4,227.9 L553.7,228.1 L559.9,226.9 L566.2,227.3M566.2,227.3 L572.2,234.1M392.2,844.3 L388.5,842.2M366.6,804.7 L367.1,812.8M388.5,842.2 L385.6,836.9 L381.1,832.7 L376.7,828.3 L374.0,822.8 L371.0,817.4 L367.1,812.8M742.8,736.4 L744.1,733.4M742.8,736.4 L748.9,741.0 L755.9,744.0 L762.7,747.4M780.3,749.0 L780.1,742.2 L780.9,735.4 L783.2,728.8 L783.9,722.0 L783.9,715.2M744.1,733.4 L749.9,731.0 L755.2,727.6 L760.7,724.6 L766.6,722.4 L772.7,720.8 L778.1,717.5 L783.9,715.2M809.7,704.6 L802.7,699.5 L795.7,694.7M783.9,715.2 L787.4,708.1 L791.4,701.3 L795.7,694.7M809.7,652.6 L806.6,658.0 L805.2,664.0 L803.9,670.0 L802.1,675.9 L799.9,681.6 L797.7,687.3 L794.5,692.6M795.7,694.7 L794.5,692.6M595.4,758.5 L599.0,756.5M620.3,783.0 L616.8,777.0 L614.2,770.6 L612.0,764.1 L610.1,757.5M599.0,756.5 L610.1,757.5M574.2,543.8 L569.0,549.2 L562.1,552.3 L556.7,557.5M574.2,543.8 L580.5,543.4 L586.4,545.9 L592.7,545.2 L598.8,546.3 L604.9,547.2 L611.0,547.6M609.7,567.1 L612.5,559.5 L615.2,551.9M609.7,567.1 L603.0,567.7 L596.4,568.9 L589.7,568.5 L583.0,569.0 L576.4,570.0 L569.8,571.5 L563.1,571.7 L556.4,572.0M556.4,572.0 L555.6,564.7 L556.7,557.5M611.0,547.6 L614.4,550.3M614.4,550.3 L615.2,551.9M566.0,528.4 L570.7,535.8 L574.2,543.8M532.4,534.6 L538.0,538.5 L542.3,543.6 L547.4,547.9 L551.1,553.7 L556.7,557.5M590.3,504.6 L593.6,510.6 L596.8,516.6 L600.3,522.5 L601.4,529.5 L605.1,535.3 L608.2,541.4 L611.0,547.6M657.2,555.2 L651.1,555.5 L645.2,554.3 L639.3,552.6 L633.2,554.1 L627.3,551.9 L621.3,551.3 L615.2,551.9M657.2,555.2 L660.9,566.2M660.9,566.2 L658.2,572.8 L653.2,578.0 L649.9,584.3 L647.4,591.0 L643.0,596.5M643.0,596.5 L637.9,592.5 L632.1,589.7 L626.3,587.2 L621.2,583.3 L615.2,580.8M615.2,580.8 L613.4,573.9 L609.7,567.8M609.7,567.8 L609.7,567.1M544.4,596.1 L548.3,590.5 L549.3,583.5 L553.7,578.1 L556.4,572.0M569.0,612.1 L572.9,607.6 L577.4,603.5 L580.5,598.2 L585.3,594.4 L589.1,589.8 L593.8,585.9 L597.6,581.2 L601.0,576.2 L605.1,571.8 L609.7,567.8M630.6,515.5 L628.6,521.6 L625.3,527.1 L623.6,533.4 L619.8,538.7 L617.4,544.6 L614.4,550.3M673.1,539.5 L668.3,545.2 L662.3,549.8 L657.2,555.2M640.1,274.5 L637.0,268.5 L635.0,261.9 L631.2,256.2 L628.2,250.1 L625.7,243.8M593.2,244.4 L600.2,243.5 L607.2,243.4 L614.2,242.2 L621.3,242.6M625.7,243.8 L621.3,242.6M676.5,238.7 L669.7,237.5 L663.2,234.6 L655.9,235.6 L649.1,233.8 L642.5,231.7 L635.7,230.1M625.7,243.8 L631.4,237.4 L635.7,230.1M651.8,205.8 L648.5,211.1 L643.9,215.4 L640.4,220.5 L636.8,225.6M636.8,225.6 L635.7,230.1M583.2,189.0 L581.1,196.6 L577.7,203.9 L576.7,211.8M583.2,189.0 L589.3,188.8 L595.4,190.0 L601.5,189.1 L607.6,189.1 L613.7,188.1 L619.8,188.3M576.7,211.8 L583.3,211.3 L589.6,214.1 L596.1,214.6 L602.8,213.7 L609.2,214.8M609.2,214.8 L614.2,210.0 L618.4,204.6M619.8,188.3 L619.0,196.4 L618.4,204.6M582.0,186.0 L583.2,189.0M566.2,227.3 L570.2,222.4 L574.0,217.5 L576.7,211.8M637.3,175.5 L631.0,179.1 L626.4,185.0 L619.8,188.3M621.3,242.6 L617.9,237.4 L615.7,231.8 L615.1,225.4 L612.1,220.1 L609.2,214.8M636.8,225.6 L631.7,220.9 L627.3,215.4 L623.1,209.8 L618.4,204.6M347.6,837.2 L348.4,843.3 L350.7,849.1 L350.0,855.4 L352.8,861.1 L353.2,867.3 L353.9,873.3 L355.2,879.3M347.6,837.2 L341.6,838.9 L336.1,842.0 L329.6,842.0 L324.2,845.6 L318.1,846.9 L312.1,848.4 L306.1,849.8 L300.4,852.4M303.0,863.7 L300.4,852.4M303.0,863.7 L307.7,868.3 L312.2,873.1 L316.7,877.9 L319.4,884.3 L323.8,889.2 L329.9,892.6 L333.2,898.4 L337.0,903.8 L342.3,907.9 L346.4,913.0M346.4,913.0 L349.2,906.6 L350.1,899.6 L351.8,892.8 L352.4,885.8 L355.2,879.3M388.5,842.2 L383.8,846.4 L380.5,851.8 L377.0,857.0 L372.1,861.0 L367.4,865.1 L363.2,869.7 L359.9,875.1 L355.2,879.3M367.1,812.8 L364.1,818.4 L359.1,822.5 L356.4,828.2 L350.6,831.6 L347.6,837.2M264.3,807.7 L269.2,811.9 L272.0,817.9 L276.7,822.3 L279.7,828.1 L284.0,832.8 L289.4,836.7 L293.0,842.0 L296.6,847.3 L300.4,852.4M755.0,655.7 L749.5,659.2 L744.6,663.3 L739.7,667.5 L736.2,673.1 L731.0,676.9 L726.0,680.9 L721.2,685.1M755.0,655.7 L757.2,662.5 L760.2,669.0 L763.3,675.4 L768.1,680.9 L770.5,687.7M770.5,687.7 L763.4,691.1 L756.6,695.3 L749.9,699.6M721.2,685.1 L727.1,687.7 L732.6,691.0 L738.9,692.8 L743.7,697.7 L749.9,699.6M763.3,623.9 L753.8,631.0M753.8,631.0 L753.7,637.2 L753.2,643.4 L755.6,649.5 L755.0,655.7M794.5,692.6 L788.6,690.6 L782.6,689.7 L776.3,690.1 L770.5,687.7M744.1,733.4 L745.5,726.7 L745.8,719.7 L746.5,712.9 L748.2,706.2 L749.9,699.6M709.1,548.3 L707.1,554.5 L704.8,560.6 L703.1,566.9 L701.3,573.1 L700.7,579.7 L699.0,586.0 L696.9,592.1 L696.5,598.8 L694.2,604.9M660.9,566.2 L665.4,570.4 L667.7,576.2 L671.7,580.9 L676.3,585.0 L679.0,590.6 L683.4,594.9 L685.6,600.9 L690.1,605.1M690.1,605.1 L694.2,604.9M736.3,580.1 L730.8,584.0 L724.4,586.6 L718.5,590.0 L713.5,594.9 L707.6,598.2 L702.4,602.7 L696.3,605.7M753.8,631.0 L747.7,630.7 L741.6,629.8 L735.5,632.0 L729.4,631.4 L723.3,631.1M723.3,631.1 L718.7,626.9 L713.7,623.2 L709.3,618.9 L705.1,614.4 L700.4,610.3 L696.3,605.7M694.2,604.9 L696.3,605.7M686.8,778.4 L688.8,772.3 L690.2,766.1 L690.0,759.6M711.9,791.2 L714.9,785.7 L717.9,780.2 L719.0,773.9 L721.9,768.3 L725.0,762.9 L727.1,757.0M690.0,759.6 L696.2,759.2 L702.4,759.5 L708.5,757.8 L714.7,756.9 L720.9,757.2 L727.1,757.0M742.8,736.4 L735.7,739.2M744.7,779.5 L740.3,773.9 L735.5,768.6 L733.0,761.6 L728.0,756.4M735.7,739.2 L733.9,745.3 L730.9,750.8 L728.0,756.4M728.0,756.4 L727.1,757.0M643.0,596.5 L644.0,603.5 L646.4,610.1 L648.9,616.6M690.1,605.1 L684.4,609.0 L679.7,614.3 L673.9,618.0 L667.5,621.0 L662.5,625.9M648.9,616.6 L656.3,620.4 L662.5,625.9M723.3,631.1 L720.3,636.8 L718.0,642.9 L715.0,648.6 L711.7,654.2 L708.5,659.8M662.5,625.9 L661.1,634.2M661.1,634.2 L665.6,638.7 L670.7,642.7 L674.2,648.5 L678.9,652.9 L684.2,656.7M708.5,659.8 L702.4,659.0 L696.3,658.4 L690.3,657.4 L684.2,656.7M721.2,685.1 L713.9,684.5M708.5,659.8 L709.8,666.0 L711.4,672.1 L712.5,678.3 L713.9,684.5M628.1,751.4 L626.2,744.4 L626.1,737.2 L627.0,729.9 L625.8,722.9 L624.9,715.7M628.1,751.4 L636.4,753.3 L643.9,757.4M643.9,757.4 L646.4,751.6 L646.6,745.2 L646.7,738.8 L650.2,733.1 L651.3,726.9 L652.4,720.7 L653.0,714.4M624.9,715.7 L631.9,715.2 L639.0,715.7 L646.0,714.6 L653.0,714.4M646.3,760.4 L646.2,759.4M610.1,757.5 L616.3,756.0 L622.0,753.1 L628.1,751.4M646.2,759.4 L643.9,757.4M690.0,759.6 L688.7,757.3M735.7,739.2 L730.0,736.5 L725.0,732.8 L720.1,729.0 L714.6,726.1 L709.7,722.1 L704.1,719.4 L699.1,715.6M688.7,757.3 L690.1,751.3 L691.9,745.5 L692.6,739.3 L693.4,733.2 L695.6,727.4 L698.3,721.8 L699.1,715.6M646.2,759.4 L652.8,755.1 L660.5,752.8 L667.6,749.5M688.7,757.3 L681.6,754.8 L674.7,751.8 L667.6,749.5M713.9,684.5 L709.4,688.6 L705.6,693.3 L701.5,697.8 L697.9,702.7 L693.8,707.2M699.1,715.6 L693.8,707.2M614.5,624.9 L615.9,627.0M614.5,624.9 L614.5,618.3 L613.4,611.8 L614.0,605.2M615.9,627.0 L621.2,623.9 L627.3,622.9 L633.1,621.1 L638.8,619.2 L644.3,616.3M644.3,616.3 L638.9,612.9 L632.3,611.8 L626.9,608.5 L621.7,604.6 L615.9,602.1M615.9,602.1 L614.0,605.2M593.6,658.6 L602.9,664.7M571.3,616.4 L578.2,616.0M578.2,616.0 L584.3,617.3 L590.2,619.4 L596.7,619.2 L602.3,622.6 L608.2,624.6 L614.5,624.9M602.9,664.7 L608.7,657.9 L613.9,650.7M613.9,650.7 L615.6,642.9 L615.0,634.9 L615.9,627.0M578.2,616.0 L584.1,614.0 L590.3,612.9 L595.7,609.4 L602.3,609.4 L608.4,608.1 L614.0,605.2M613.9,650.7 L620.1,649.8 L625.5,646.6 L631.7,645.8 L637.4,643.5 L642.7,640.0 L648.6,638.1 L654.2,635.7 L660.5,634.9M648.9,616.6 L644.3,616.3M660.5,634.9 L661.1,634.2M615.2,580.8 L614.4,588.0 L615.8,595.0 L615.9,602.1M604.5,670.1 L609.1,676.7M604.5,670.1 L598.1,672.4 L593.0,677.0 L587.6,681.0 L581.0,683.1 L575.5,687.0 L570.0,690.9 L564.3,694.5 L558.2,697.3M609.1,676.7 L608.4,684.1 L609.9,691.4 L609.2,698.8 L609.6,706.1M609.6,706.1 L604.2,710.0 L599.5,714.5M599.5,714.5 L592.5,714.8 L585.7,716.8 L578.6,716.8 L571.8,718.9 L564.8,718.8M564.8,718.8 L562.8,711.6 L561.5,704.1 L558.2,697.3M543.2,683.3 L548.5,687.6 L553.4,692.4 L558.2,697.3M602.9,664.7 L604.5,670.1M599.0,756.5 L599.9,749.5 L599.2,742.5 L599.0,735.5 L600.0,728.5 L600.7,721.5 L599.5,714.5M624.9,715.7 L619.7,712.7 L615.0,708.8 L609.6,706.1M554.9,735.9 L558.9,730.6 L560.6,724.0 L564.8,718.8M689.8,706.6 L683.4,708.1 L677.0,709.7 L670.4,710.0M689.8,706.6 L687.4,701.1 L684.9,695.5 L683.6,689.6 L681.4,683.9 L679.2,678.3 L677.4,672.5M677.4,672.5 L671.0,671.2 L664.5,671.3 L658.0,670.5 L651.5,671.5M665.1,708.9 L661.2,704.1 L659.1,698.3 L655.7,693.2 L654.1,687.1 L650.4,682.2 L647.8,676.7M665.1,708.9 L670.4,710.0M651.5,671.5 L647.8,676.7M667.6,749.5 L667.9,742.9 L667.4,736.3 L667.8,729.7 L669.5,723.2 L671.0,716.7 L670.4,710.0M693.8,707.2 L689.8,706.6M684.2,656.7 L681.7,665.0 L677.4,672.5M660.5,634.9 L659.8,641.2 L657.8,647.2 L655.2,653.0 L655.0,659.4 L652.9,665.4 L651.5,671.5M653.0,714.4 L659.4,712.4 L665.1,708.9M609.1,676.7 L615.5,677.5 L622.0,676.2 L628.4,677.0 L634.9,677.5 L641.3,677.0 L647.8,676.7" fill="none" stroke="#18442c" stroke-opacity=".21" stroke-width=".55"/>
</g>
<g fill="none" stroke="#0a1a12" stroke-width="1.5" stroke-linejoin="round" stroke-linecap="round">
<path d="M96.0,183.0 L101.0,185.0 L102.3,188.9 L103.6,192.9 L104.0,197.0 L106.9,198.7 L110.0,200.0 L111.4,203.2 L111.3,206.7 L112.0,210.0 L115.0,212.0 L112.7,215.6 L110.0,219.0 L111.2,222.9 L111.0,227.0 L114.0,230.0 L117.6,232.4 L120.0,236.0 L122.6,237.9 L125.5,239.4 L127.9,241.5 L130.0,244.0 L133.2,244.3 L136.3,245.4 L139.7,244.6 L142.9,245.1 L146.0,246.0 L148.9,247.9 L151.6,250.0 L155.0,251.0 L158.4,249.8 L161.6,248.2 L165.0,247.0 L167.9,244.9 L169.1,241.2 L172.0,239.0 L175.4,237.1 L177.8,234.1 L181.0,232.0 L184.4,229.5 L188.0,227.4 L192.0,226.0 L194.9,224.3 L198.2,223.7 L200.8,221.3 L204.1,220.5 L207.0,219.0 L210.2,221.5 L213.8,223.5 L217.0,226.0 L220.5,225.6 L224.0,225.0 L226.0,222.0 L229.0,220.0 L229.3,215.8 L230.5,211.9 L232.0,208.0 L234.8,206.2 L237.1,203.9 L239.6,201.7 L242.5,200.1 L245.0,198.0 L247.2,195.0 L249.2,191.8 L252.2,189.3 L254.0,186.0 L255.3,182.6 L256.0,179.0 L259.0,176.6 L262.5,175.0 L262.1,171.0 L261.5,167.0 L261.0,163.0 L263.6,159.3 L265.0,155.0 L262.5,152.4 L259.3,150.8 L257.3,147.6 L254.0,146.0 L251.4,142.3 L250.0,138.0 L248.7,134.5 L247.6,131.0 L250.2,128.3 L252.0,125.0 L256.0,121.0 L257.9,118.2 L260.7,116.3 L263.0,114.0 L266.8,111.9 L271.1,111.6 L275.0,110.0 L278.7,110.9 L282.5,111.1 L286.2,112.1 L290.0,112.0 L293.5,113.7 L296.5,116.3 L300.0,118.0 L304.1,116.4 L308.0,114.5 L312.5,115.4 L317.0,116.0 L323.0,117.0 L324.4,120.0 L325.1,123.2 L327.0,126.0 L330.1,128.7 L334.0,130.0 L336.0,132.7 L338.0,135.5 L342.0,135.0 L345.2,131.7 L348.0,128.0 L354.0,127.0 L356.6,124.3 L360.2,123.1 L363.1,121.0 L366.5,119.4 L369.3,117.1 L372.0,114.6 L375.1,112.4 L378.4,110.6 L381.9,109.1 L385.0,107.0 L388.4,105.7 L392.0,105.9 L395.4,104.9 L398.9,104.4 L402.4,103.8 L406.0,104.0 L409.3,104.0 L412.4,102.4 L415.7,102.1 L419.0,102.0 L421.1,99.3 L423.9,97.2 L425.1,93.7 L427.7,91.5 L430.0,89.0 L431.6,84.5 L433.0,80.0 L436.9,79.3 L440.5,77.8 L444.0,76.0 L446.7,74.0 L448.1,70.9 L450.5,68.7 L452.6,66.2 L455.0,64.0 L458.5,63.2 L461.9,62.0 L464.6,59.4 L467.9,58.1 L471.3,56.8 L474.5,55.4 L478.0,54.5 L481.5,55.2 L485.0,56.0 L486.9,58.8 L489.3,61.1 L491.0,64.0 L495.8,64.7 L500.0,67.0 L502.1,69.7 L504.2,72.5 L505.9,75.5 L507.4,78.6 L510.0,81.0 L511.2,85.6 L513.0,90.0 L517.0,91.3 L521.0,92.5 L521.6,96.3 L522.6,100.0 L520.0,103.9 L518.0,108.0 L518.2,111.4 L516.3,114.6 L516.5,118.0 L519.9,119.3 L523.3,120.4 L527.0,120.6 L530.5,119.9 L533.6,118.0 L537.0,117.0 L539.4,114.4 L542.0,112.0 L543.7,108.9 L546.6,106.8 L548.0,103.5 L550.2,100.8 L553.0,98.6 L553.9,95.2 L555.1,92.0 L557.0,89.0 L559.3,86.8 L562.0,85.0 L565.1,83.5 L568.3,82.7 L571.6,82.2 L575.0,82.0 L578.2,80.6 L581.7,80.3 L585.0,79.0 L588.5,79.0 L590.0,75.1 L590.4,71.0 L591.0,67.0 L594.5,65.2 L598.2,64.1 L601.9,63.0 L605.6,62.0 L606.2,58.3 L606.6,54.5 L608.0,51.0 L611.6,50.1 L615.1,48.9 L618.2,46.6 L621.6,45.1 L625.0,43.7 L628.1,41.8 L631.4,40.6 L635.0,40.0 L638.2,42.8 L641.3,45.7 L644.0,49.0 L646.8,50.8 L650.2,51.0 L653.3,52.0 L656.0,54.0 L658.9,55.9 L662.4,56.4 L665.8,57.0 L668.8,58.9 L672.0,60.0 L675.6,61.3 L678.4,64.0 L681.2,66.7 L684.5,68.5 L688.0,70.0 L691.1,71.7 L694.7,72.5 L697.8,74.1 L701.0,75.7 L702.2,72.3 L704.7,69.7 L706.0,66.4 L709.0,68.0 L712.0,69.5 L712.7,72.8 L714.5,75.7 L715.4,79.0 L719.7,79.0 L723.7,80.5 L728.0,80.4 L727.8,84.3 L728.6,87.9 L729.3,91.6 L729.9,95.4 L731.0,99.0 L731.5,102.2 L733.3,105.1 L733.7,108.4 L734.9,111.4 L735.6,114.6 L739.3,115.1 L742.7,116.4 L746.0,118.1 L749.4,119.3 L752.7,121.0 L753.0,125.5 L754.0,130.0 L752.2,132.9 L751.9,136.3 L750.0,139.1 L749.6,142.5 L749.6,145.8 L750.4,148.9 L752.1,151.8 L752.7,155.0 L756.0,156.1 L759.1,157.7 L762.0,159.6 L765.4,161.5 L768.5,163.9 L771.2,166.8 L774.4,169.0 L773.9,172.3 L774.2,175.6 L775.0,178.9 L774.9,182.2 L774.9,185.5 L776.3,188.8 L775.5,192.1 L776.0,195.4 L772.8,198.0 L770.3,201.3 L768.0,204.7 L768.9,207.9 L770.6,210.8 L772.3,213.7 L772.7,217.1 L774.4,220.0 L771.5,222.4 L767.9,224.0 L764.7,225.9 L762.2,228.9 L759.0,231.0 L755.8,230.2 L752.8,228.4 L749.5,227.9 L746.0,227.9 L743.0,226.4 L741.0,230.0 L738.5,233.2 L735.6,236.0 L735.6,240.6 L737.0,245.0 L738.3,248.5 L741.0,251.2 L741.8,255.0 L744.0,258.0 L745.0,261.4 L747.3,264.1 L749.5,266.9 L751.0,270.0 L751.8,273.5 L753.4,276.7 L754.5,280.1 L754.6,283.8 L757.1,287.0 L760.5,289.3 L763.7,291.8 L766.8,294.5 L769.4,297.7 L773.0,299.8 L777.5,300.3 L782.0,301.0 L785.8,301.1 L789.4,300.6 L793.0,299.1 L796.7,298.7 L800.4,298.6 L803.3,296.8 L806.3,295.1 L809.6,294.0 L807.2,297.9 L805.0,302.0 L805.7,305.3 L805.8,308.7 L806.0,312.0 L804.5,315.7 L801.4,318.3 L800.0,322.0 L798.0,324.9 L795.6,327.6 L793.2,330.3 L790.6,332.7 L789.0,336.0 L786.7,338.7 L784.5,341.4 L783.6,344.8 L782.1,347.8 L780.5,350.9 L779.8,354.3 L777.5,357.0 L775.6,359.7 L774.0,362.6 L772.3,365.4 L769.2,367.2 L768.1,370.5 L765.7,372.8 L763.7,375.4 L761.6,377.9 L760.0,380.8 L758.5,383.7 L756.4,386.3 L754.6,389.0 L752.2,391.8 L749.6,394.5 L748.2,398.1 L745.4,400.6 L742.9,402.8 L740.7,405.5 L738.2,407.7 L735.2,409.4 L733.0,412.0 L730.2,414.0 L727.4,415.9 L724.5,417.6 L722.0,420.0 L718.6,421.4 L716.0,424.0 L713.5,428.0 L712.4,424.5 L711.5,421.0 L711.2,417.0 L710.5,413.0 L708.3,410.5 L706.0,408.0 L703.5,405.5 L701.0,403.0 L699.5,399.8 L697.5,397.0 L695.7,393.5 L694.0,390.0 L692.9,394.0 L692.0,398.0 L690.8,402.5 L689.5,407.0 L689.3,411.6 L690.5,416.0 L687.0,420.5 L683.0,424.0 L680.7,426.8 L679.0,430.0 L681.0,436.0 L678.5,438.1 L677.0,441.0 L674.4,443.6 L673.0,447.0 L672.4,450.6 L671.0,454.0 L670.0,460.0 L664.0,462.0 L662.4,466.0 L661.0,470.0 L659.8,473.9 L660.0,478.0 L661.0,482.7 L663.0,487.0 L664.6,490.2 L665.6,493.5 L666.0,497.0 L666.4,500.4 L667.3,503.7 L667.3,507.1 L667.8,510.4 L667.1,513.8 L667.2,517.2 L667.2,520.6 L668.8,523.9 L668.1,527.3 L668.5,530.7 L669.0,534.0 L669.2,537.6 L667.5,541.1 L666.9,544.6 L667.8,548.3 L666.1,551.8 L666.6,555.4 L666.0,559.0 L665.9,562.6 L664.9,566.1 L665.0,569.7 L666.0,573.3 L665.4,576.9 L665.1,580.4 L665.0,584.0 L665.6,587.5 L666.1,591.1 L666.2,594.7 L665.8,598.3 L667.2,601.8 L666.6,605.4 L667.0,609.0 L667.5,612.4 L668.7,615.8 L668.6,619.3 L668.5,622.7 L669.1,626.1 L670.3,629.5 L670.0,633.0 L669.4,636.4 L670.0,639.8 L670.0,643.2 L671.7,646.5 L671.6,649.8 L672.3,653.2 L671.3,656.7 L672.0,660.0 L672.7,663.3 L673.2,666.7 L673.0,670.1 L672.4,673.5 L672.9,676.8 L674.1,680.1 L674.0,683.5 L674.2,686.9 L672.5,690.0 L672.7,693.4 L672.1,696.7 L672.0,700.0 L671.8,703.5 L671.1,706.8 L669.2,709.9 L668.8,713.4 L668.5,716.8 L667.0,720.0 L665.6,723.2 L665.3,726.7 L664.4,730.1 L664.8,733.7 L662.8,736.8 L663.4,740.5 L662.0,743.7 L660.7,746.9 L660.6,750.4 L660.1,753.7 L659.1,757.0 L657.7,760.2 L658.1,763.8 L657.0,767.0 L657.3,770.4 L656.3,773.7 L656.5,777.1 L656.4,780.5 L656.0,783.8 L655.8,787.2 L655.3,790.5 L654.8,793.8 L654.4,797.2 L653.8,800.5 L652.8,804.0 L653.1,807.7 L652.1,811.2 L652.1,814.9 L651.3,818.5 L650.5,822.0 L652.4,825.8 L653.1,829.9 L653.8,834.0 L652.0,837.8 L648.8,840.6 L645.8,843.1 L643.2,846.1 L640.5,849.0 L638.6,851.9 L636.0,854.0 L633.2,856.0 L632.0,859.4 L628.8,861.1 L627.0,864.0 L624.9,867.4 L622.6,870.7 L620.4,874.0 L618.5,877.0 L617.8,880.5 L616.2,883.7 L614.5,886.8 L612.6,889.8 L612.0,893.4 L609.2,891.7 L607.0,889.2 L604.2,887.5 L601.5,885.7 L598.7,884.0 L596.1,881.6 L593.5,879.2 L590.7,877.0 L588.3,874.4 L585.7,872.0 L584.0,868.7 L580.9,866.8 L578.7,864.0 L576.2,861.7 L574.1,859.1 L573.1,855.6 L571.1,852.9 L568.6,850.6 L566.6,847.9 L563.9,845.8 L561.6,843.3 L559.5,840.8 L557.5,838.1 L555.3,835.5 L552.5,833.2 L550.6,830.2 L548.0,827.7 L546.5,824.2 L543.6,822.0 L541.7,818.6 L538.6,816.2 L535.7,813.7 L533.5,810.5 L535.9,807.5 L536.6,803.7 L538.6,800.5 L538.0,797.2 L537.0,793.8 L537.2,790.4 L537.0,787.0 L538.2,783.7 L539.5,780.4 L540.3,776.8 L542.0,773.7 L545.3,772.4 L548.3,770.2 L551.8,769.3 L555.0,767.7 L558.6,767.0 L560.1,763.6 L562.0,760.4 L560.4,757.2 L559.5,753.9 L559.1,750.4 L558.6,747.0 L561.2,744.2 L564.5,742.1 L567.4,739.5 L570.3,737.0 L572.3,733.0 L573.6,728.6 L577.1,726.3 L580.3,723.6 L582.3,720.9 L584.2,718.1 L585.2,714.8 L587.0,712.0 L588.8,708.5 L591.9,705.7 L592.8,701.6 L595.4,698.6 L594.6,695.1 L593.4,691.8 L592.0,688.5 L587.5,687.5 L583.7,685.0 L580.4,683.9 L577.1,683.3 L573.6,683.5 L571.2,681.2 L568.9,678.9 L566.4,676.7 L563.6,675.0 L560.1,674.4 L557.0,672.6 L553.6,671.4 L550.5,669.7 L547.0,669.0 L543.6,668.7 L540.2,668.9 L536.9,669.6 L533.5,670.0 L530.5,667.6 L527.0,666.1 L523.6,664.3 L519.9,663.2 L516.8,661.0 L513.1,662.0 L509.3,662.0 L505.6,661.8 L501.8,661.8 L498.7,663.9 L494.9,664.2 L491.7,666.0 L488.3,667.4 L485.0,669.0 L481.7,668.7 L478.4,668.4 L475.0,668.6 L471.7,668.5 L470.3,665.0 L471.1,661.2 L470.5,657.6 L469.5,654.0 L469.0,650.4 L468.4,646.8 L466.0,644.4 L462.9,643.1 L461.1,640.1 L458.0,638.5 L455.3,636.6 L452.9,634.2 L450.9,631.5 L447.8,630.0 L445.6,627.5 L443.3,625.1 L440.9,622.7 L437.8,621.3 L435.1,619.3 L432.6,617.1 L430.0,615.0 L425.3,615.4 L420.6,616.5 L416.9,617.1 L413.5,618.4 L410.0,619.3 L406.5,620.6 L402.7,619.4 L399.2,617.5 L395.8,615.6 L392.5,613.4 L389.1,612.3 L385.4,612.4 L382.0,611.2 L378.3,611.5 L375.0,610.0 L371.7,608.5 L369.2,606.1 L366.8,603.4 L364.0,601.3 L361.0,599.4 L358.0,597.8 L354.7,597.1 L351.8,595.4 L348.6,594.2 L345.6,592.9 L342.5,591.5 L339.0,589.6 L336.7,586.2 L332.8,584.8 L330.0,582.0 L327.2,580.1 L324.0,579.1 L320.4,579.5 L317.5,577.7 L314.4,576.5 L310.2,576.3 L306.1,576.4 L302.0,577.5 L298.4,579.7 L294.9,582.0 L291.0,583.8 L288.6,586.2 L285.2,587.3 L283.0,590.0 L279.7,589.1 L276.9,587.2 L273.5,586.6 L270.6,584.6 L267.8,582.6 L264.4,582.0 L260.4,580.5 L257.3,577.5 L253.4,576.0 L254.2,572.9 L255.6,569.9 L256.1,566.7 L256.5,563.5 L254.0,560.6 L252.7,556.8 L250.0,554.0 L246.3,553.7 L242.5,554.2 L238.8,553.9 L235.2,552.8 L231.5,552.5 L227.8,551.1 L224.1,549.8 L220.6,548.0 L216.3,547.9 L212.2,546.9 L208.0,546.0 L205.0,547.3 L201.6,547.4 L199.0,549.8 L195.5,549.6 L192.5,551.0 L189.0,552.8 L186.6,556.0 L182.7,557.2 L180.0,560.0 L176.8,561.7 L174.0,564.0 L171.9,567.8 L171.0,572.0 L168.5,574.3 L165.7,576.2 L163.0,578.1 L159.6,579.3 L157.3,581.9 L154.9,584.2 L152.0,586.0 L147.5,586.9 L143.0,587.6 L140.8,590.4 L138.5,593.1 L136.0,595.5 L132.6,597.1 L130.5,600.0 L127.5,601.5 L124.0,601.7 L121.4,604.0 L118.2,605.2 L115.0,606.0 L112.2,608.0 L109.8,610.4 L106.9,612.2 L103.5,613.4 L100.9,615.5 L98.2,617.6 L95.6,619.8 L93.0,622.0 L89.4,622.2 L86.0,623.1 L82.8,624.6 L79.3,625.2 L76.0,626.5 L74.1,630.1 L70.6,632.5 L68.4,635.8 L66.6,632.7 L65.0,629.5 L67.5,626.1 L69.5,622.4 L71.5,618.7 L73.4,615.3 L75.2,611.8 L78.0,609.0 L75.9,605.5 L72.2,603.4 L70.0,600.0 L70.5,596.4 L70.9,592.8 L71.4,589.2 L72.7,585.8 L73.7,582.3 L73.0,578.5 L74.0,575.0 L74.7,571.3 L74.5,567.6 L75.3,563.9 L75.4,560.2 L76.0,556.5 L74.0,553.6 L72.5,550.5 L71.1,547.3 L70.0,544.0 L67.7,541.7 L64.6,540.5 L61.6,539.1 L59.5,536.3 L56.9,534.4 L53.7,533.4 L51.0,531.6 L49.9,528.1 L49.5,524.5 L48.8,520.9 L48.7,517.2 L47.8,513.7 L48.0,510.0 L47.9,506.3 L48.3,502.6 L49.1,499.0 L50.0,495.4 L50.1,491.7 L50.0,488.0 L49.9,484.3 L49.9,480.6 L50.0,476.9 L49.8,473.2 L50.0,469.5 L47.1,466.5 L44.1,463.6 L42.0,460.0 L41.9,456.6 L43.3,453.4 L42.1,450.0 L43.0,446.7 L43.5,443.3 L43.5,440.0 L45.3,437.2 L46.0,434.0 L49.7,432.5 L53.6,431.6 L57.5,431.0 L53.6,431.1 L49.8,430.5 L46.0,430.0 L43.5,427.0 L43.0,423.6 L43.5,420.2 L43.0,416.8 L42.0,413.5 L43.0,409.7 L41.9,405.7 L42.3,401.8 L43.5,398.0 L46.8,396.6 L50.1,395.3 L53.0,393.0 L49.3,392.0 L45.7,390.9 L42.0,390.0 L40.0,385.5 L38.0,382.7 L37.4,379.4 L37.1,375.9 L35.7,372.9 L34.0,370.0 L32.0,367.0 L33.1,363.3 L33.8,359.6 L33.1,355.7 L34.0,352.0 L37.1,348.5 L41.0,346.0 L37.6,343.4 L35.0,340.0 L34.7,336.7 L34.6,333.3 L34.0,330.0 L39.0,327.0 L38.7,323.3 L37.0,320.0 L39.6,317.6 L41.9,314.8 L44.0,312.0 L40.8,310.8 L37.4,310.6 L34.2,309.8 L30.7,309.9 L27.7,308.0 L24.2,308.2 L21.0,307.0 L20.7,303.3 L19.0,300.0 L17.1,296.6 L14.5,293.7 L12.1,290.6 L10.5,287.0 L12.3,284.2 L14.9,282.2 L17.1,279.7 L19.0,277.0 L18.8,273.6 L19.3,270.4 L20.5,267.3 L21.0,264.0 L23.9,262.5 L26.5,260.6 L29.2,258.8 L32.3,257.7 L35.0,256.0 L34.9,252.5 L36.0,249.3 L37.0,246.0 L39.5,243.9 L42.0,242.0 L44.1,239.0 L44.9,235.4 L46.0,232.0 L49.9,230.9 L53.3,228.6 L57.0,227.0 L59.2,224.5 L61.7,222.4 L65.0,221.2 L67.2,218.8 L69.3,216.1 L71.5,213.6 L74.5,212.1 L77.0,210.0 L81.2,207.8 L85.0,205.0 L86.5,201.6 L88.0,198.1 L90.0,195.0 L89.0,190.4 L87.5,186.0 L92.0,185.2 Z"/>
<path d="M155.0,251.0 L153.6,255.5 L152.0,260.0 L151.6,263.3 L150.6,266.6 L151.0,270.0 L152.4,273.3 L153.7,276.7 L155.0,280.0 L153.9,283.3 L153.5,286.8 L152.0,290.0 L156.0,290.0 L160.0,290.0 L163.1,291.2 L166.2,292.5 L169.7,292.3 L172.8,293.7 L176.0,294.3 L179.0,296.0 L178.6,299.5 L179.0,303.0 L180.3,306.5 L178.8,310.0 L179.0,313.5 L180.0,317.0 L182.0,320.0 L180.4,322.9 L179.0,325.9 L178.3,329.2 L177.1,332.3 L175.0,335.0 L172.5,337.0 L170.5,339.6 L167.8,341.4 L165.3,343.3 L163.0,345.6 L160.0,347.0 L162.0,352.0 L165.3,353.2 L168.5,354.4 L171.5,356.3 L175.0,357.0 L180.0,360.0 L182.4,362.4 L184.6,365.0 L187.2,367.2 L189.4,369.8 L192.0,372.0 L189.0,373.5 L186.2,375.1 L182.6,375.4 L179.6,376.8 L177.0,379.0 L175.7,382.1 L175.6,385.5 L176.8,388.7 L179.0,391.5 L180.7,394.5 L182.1,397.6 L184.0,400.5 L184.5,404.1 L186.5,407.0 L187.8,410.2 L188.2,413.7 L190.1,416.7 L191.0,420.0 L189.1,422.7 L188.2,425.8 L188.4,429.3 L186.5,432.0 L184.7,435.4 L181.6,437.9 L180.0,441.5 L182.0,444.4 L183.3,447.7 L186.1,450.1 L188.6,452.6 L189.8,456.1 L191.6,459.1 L194.0,461.7 L197.2,462.2 L200.4,462.8 L203.4,464.0 L206.2,465.9 L209.4,466.5 L212.8,466.3 L215.9,467.4 L219.1,468.0 L222.0,469.5 L221.6,473.2 L219.3,476.3 L219.2,480.2 L217.6,483.5 L214.5,484.7 L211.4,486.1 L208.5,487.7 L205.1,488.1 L202.3,490.3 L199.0,491.0 L195.8,492.5 L193.1,495.1 L189.7,496.4 L186.7,498.4 L183.6,500.1 L179.9,500.8 L176.9,502.8 L174.0,505.0 L177.0,506.8 L179.2,509.7 L182.6,510.9 L185.2,513.3 L187.5,516.0 L190.5,517.9 L193.9,519.2 L195.7,522.6 L199.0,524.0 L202.7,524.0 L206.4,524.5 L210.0,525.4 L208.3,528.4 L207.8,531.8 L206.6,535.0 L205.0,538.0 L203.6,541.4 L201.6,544.4 L199.0,547.0 L195.7,548.9 L192.5,551.0"/><path d="M347.4,128.6 L346.5,132.0 L345.3,135.4 L344.3,138.8 L344.2,142.4 L342.7,145.7 L346.4,145.3 L350.0,146.4 L353.6,147.0 L356.6,148.6 L358.8,151.3 L361.7,153.0 L364.5,154.8 L367.3,156.7 L370.0,158.8 L373.2,160.0 L375.7,162.3 L378.7,163.8 L380.7,166.8 L384.3,167.5 L386.3,170.5 L389.4,172.0 L385.6,173.5 L381.5,173.2 L377.8,174.5 L373.8,175.0 L373.2,179.0 L372.3,183.0 L372.9,186.3 L375.4,188.9 L376.5,192.0 L377.0,195.4 L377.1,199.1 L378.5,202.6 L380.0,206.1 L379.3,210.0 L380.1,213.6 L381.6,217.0 L381.7,221.3 L380.7,225.4 L380.0,229.6 L377.4,233.0 L374.0,235.5 L372.1,238.8 L369.6,241.6 L368.1,245.1 L365.2,247.7 L363.3,251.0 L364.7,254.6 L365.1,258.4 L364.6,262.3 L365.9,265.9 L366.4,269.7 L369.3,272.1 L371.9,274.7 L374.8,277.1 L377.7,279.4 L380.4,282.0 L380.9,285.8 L379.4,289.5 L378.6,293.2 L378.3,297.0 L378.8,300.8 L379.2,304.6 L380.3,308.2 L380.9,311.9 L381.0,315.7 L382.0,319.4 L383.3,322.6 L385.7,325.3 L387.1,328.5 L388.4,331.7 L389.7,335.0 L390.8,338.3 L392.8,341.2 L394.4,344.3 L396.7,347.4 L396.9,351.4 L399.1,354.5 L400.5,358.0 L402.0,361.4 L399.2,364.1 L395.9,366.1 L392.9,368.5 L389.7,370.7 L391.0,375.4 L394.1,376.5 L397.5,376.0 L400.5,377.3 L403.7,377.3 L406.8,378.5 L407.4,381.7 L409.4,384.5 L410.0,387.7 L410.8,390.8 L411.5,394.0 L409.7,397.6 L409.1,401.6 L406.8,405.0 L403.4,406.0 L400.1,407.3 L396.6,408.1 L393.1,408.7 L389.7,409.6 L389.9,413.5 L391.6,417.0 L391.8,420.8 L394.0,424.2 L394.4,428.0 L390.6,428.9 L387.5,431.4 L384.1,433.3 L380.4,434.4 L381.6,437.7 L383.5,440.6 L386.0,442.8 L389.5,443.0 L392.1,444.9 L394.5,447.2 L397.5,448.4 L397.3,451.9 L396.9,455.4 L396.0,458.8 L398.4,461.0 L400.1,463.8 L401.0,467.1 L402.2,470.1 L403.8,472.9 L406.3,475.1 L408.7,477.4 L409.7,480.6 L409.7,487.0 L406.2,488.8 L402.2,489.5 L398.8,491.5 L395.7,492.6 L393.0,494.5 L390.5,496.6 L387.5,497.8 L384.7,499.4 L388.2,501.3 L391.6,503.4 L395.4,504.7 L398.8,507.0 L399.6,510.8 L401.3,514.3 L404.0,517.3 L405.0,521.0 L407.9,524.0 L409.7,527.8 L412.8,530.6 L409.5,531.3 L406.1,530.5 L402.9,531.6 L399.5,531.7 L396.2,532.0 L393.0,533.2 L389.7,533.4 L386.4,533.8 L383.0,533.8 L380.9,536.4 L379.0,539.2 L378.0,542.5 L375.1,544.6 L373.8,547.8 L376.0,550.6 L378.5,553.2 L380.4,556.3 L381.9,559.7 L384.7,562.0 L383.7,565.7 L382.6,569.4 L381.2,573.0 L380.2,576.7 L380.0,580.6 L376.7,581.2 L373.8,582.8 L370.6,583.8 L368.9,586.5 L366.9,589.0 L365.5,591.9 L364.2,594.9 L362.8,597.8"/><path d="M382.0,319.4 L385.5,319.3 L388.9,320.4 L392.3,320.7 L395.7,321.4 L399.3,320.6 L402.7,321.0 L406.2,321.2 L409.6,321.7 L413.0,322.5 L416.6,321.3 L419.5,318.8 L423.2,317.8 L426.4,315.7 L430.0,314.6 L433.8,312.0 L438.0,310.0 L441.2,308.4 L444.6,307.5 L447.7,305.7 L450.8,304.0 L452.5,300.9 L455.1,298.6 L457.3,295.9 L460.0,293.8 L462.1,290.4 L463.4,286.8 L464.4,283.0 L465.2,279.7 L465.5,276.4 L465.6,273.1 L465.4,269.8 L468.7,269.8 L471.8,268.9 L474.8,267.7 L478.6,268.0 L482.2,269.7 L486.0,269.8 L489.2,271.6 L492.2,273.9 L495.5,275.4 L498.9,277.1 L502.0,279.0 L504.5,282.4 L506.8,286.0 L509.0,289.6 L511.9,292.0 L514.8,294.3 L516.6,297.8 L519.6,300.0 L522.9,301.5 L526.3,302.8 L530.0,303.0 L532.8,305.7 L536.0,308.0 L539.6,307.8 L543.2,307.8 L546.7,307.0 L550.0,306.6 L553.2,307.7 L556.5,307.5 L559.8,307.3 L563.0,308.0 L566.8,309.4 L570.1,311.7 L573.8,313.5 L577.7,313.4 L581.6,314.0 L585.5,314.5 L589.4,314.6 L587.7,317.5 L586.3,320.5 L584.0,323.0 L582.0,325.7 L580.4,328.6 L578.0,331.0 L579.1,334.2 L579.9,337.4 L580.3,340.7 L580.8,344.0 L579.9,347.5 L577.5,350.2 L575.5,353.2 L574.8,356.7 L572.7,359.7 L571.5,363.0 L572.9,366.4 L576.1,368.6 L577.5,372.0 L580.4,374.0 L582.1,377.2 L584.6,379.6 L587.3,381.8 L590.0,384.0 L593.7,383.7 L597.3,384.3 L601.0,384.7 L603.8,383.0 L606.2,380.9 L608.5,378.7 L610.3,375.8 L613.0,374.0 L616.4,373.6 L619.3,371.8 L622.7,371.4 L625.6,369.4 L629.0,369.0 L632.6,366.6 L635.1,363.1 L638.0,360.0 L640.6,357.6 L642.3,354.3 L645.0,352.0 L648.4,349.8 L651.7,347.4 L655.0,345.0 L658.3,343.9 L661.4,342.3 L664.9,341.6 L668.0,340.0 L670.9,338.0 L674.0,336.5 L675.3,332.5 L676.8,328.6 L679.0,325.0 L677.0,328.9 L675.5,333.0 L678.6,334.2 L681.0,336.5 L684.4,336.1 L687.8,335.9 L691.1,337.0 L694.5,336.9 L697.9,336.9 L701.3,336.2 L704.7,336.9 L708.0,336.8 L711.4,336.5 L714.8,336.4 L718.2,338.2 L721.6,336.7 L724.9,337.1 L728.3,337.1 L731.7,337.6 L732.7,341.6 L734.0,345.6 L736.8,347.8 L738.5,351.0 L741.9,351.2 L745.3,351.3 L748.7,352.3 L752.2,351.2 L755.6,352.0 L759.0,352.5 L760.3,355.7 L761.5,359.0 L760.2,362.8 L760.5,366.9 L760.0,370.8 L757.0,374.0 L760.4,374.7 L763.7,375.4"/><path d="M465.4,269.8 L465.0,265.8 L466.0,262.0 L470.6,259.0 L469.6,255.0 L474.8,253.0 L474.8,250.0 L471.3,247.6 L467.5,245.8 L465.1,243.0 L462.8,240.1 L459.4,238.3 L457.0,235.4 L453.0,232.0 L449.4,232.9 L445.6,233.0"/><path d="M502.0,279.0 L505.7,279.0 L508.9,276.6 L512.6,277.0 L516.0,275.2 L519.6,275.0 L518.1,271.1 L514.5,268.5 L513.0,264.6 L511.0,261.5 L508.2,259.1 L505.9,256.2 L503.0,254.0 L504.8,249.6 L505.0,244.8 L503.6,241.8 L502.7,238.6 L502.0,235.4 L505.4,236.3 L509.0,236.5 L511.8,238.7 L514.4,241.2 L516.9,243.7 L518.7,246.9 L521.7,249.0 L524.6,250.9 L527.7,252.1 L531.2,252.6 L533.9,255.0 L537.3,255.7 L540.4,257.0 L540.6,253.4 L541.6,250.0 L542.1,246.5 L542.2,243.0 L543.5,239.6 L542.4,236.4 L540.9,233.3 L540.0,230.0 L537.1,228.4 L534.0,227.0 L536.0,222.0 L539.6,220.9 L542.5,218.7 L545.6,216.7 L548.4,214.6 L551.7,213.3 L554.7,211.6 L557.1,208.9 L560.0,207.0 L563.3,205.6 L565.4,202.3 L568.4,200.5 L571.4,198.5 L575.0,197.6 L577.5,195.0 L576.3,191.4 L579.0,189.2 L581.4,186.8 L583.3,183.8 L586.0,181.6 L588.4,178.5 L591.4,175.9 L592.8,172.0 L595.8,169.4 L597.3,166.2 L599.3,163.3 L602.0,161.0 L600.4,155.0 L598.5,151.9 L597.1,148.5 L594.8,145.6 L592.7,142.6 L591.0,139.4 L591.6,135.7 L591.7,131.9 L593.6,128.4 L593.2,124.5 L594.0,120.8 L593.2,117.4 L593.0,113.9 L593.5,110.3 L592.4,107.0 L593.0,103.4 L592.0,100.0 L591.1,96.5 L590.7,93.0 L589.5,89.6 L590.3,85.9 L589.6,82.4 L588.5,79.0"/><path d="M405.0,521.0 L409.0,521.7 L412.8,522.8 L416.2,521.3 L419.6,519.8 L423.1,518.4 L426.5,516.9 L430.0,515.6 L434.7,515.9 L439.4,515.6 L442.3,513.7 L445.7,512.8 L448.4,510.3 L451.7,509.2 L455.0,508.0 L453.3,504.8 L451.6,501.6 L450.8,498.0 L449.4,494.3 L447.0,491.1 L445.6,487.5 L448.9,488.0 L452.1,488.3 L455.4,487.1 L458.6,488.2 L461.9,488.0 L465.2,487.8 L468.4,486.7 L471.7,487.5 L474.8,491.7 L478.4,490.0 L482.0,488.5 L485.2,487.9 L488.2,486.6 L491.3,485.7 L494.6,485.4 L494.6,489.3 L494.3,493.2 L493.5,497.0 L495.8,499.6 L498.9,501.3 L501.5,503.7 L504.0,506.0 L508.0,502.0 L511.6,502.2 L515.1,502.6 L518.7,501.5 L522.2,501.0 L525.8,501.7 L521.7,497.0 L523.0,493.6 L523.3,490.1 L523.7,486.6 L523.8,483.0 L523.0,479.7 L521.7,476.6 L520.7,473.4 L520.1,470.0 L519.6,466.7 L518.0,463.4 L516.5,460.0 L517.6,456.3 L520.3,453.5 L521.7,450.0 L525.3,448.6 L528.2,445.8 L532.0,444.8 L535.2,443.5 L537.7,441.1 L541.0,439.9 L543.5,437.5 L547.3,436.0 L551.3,435.0 L555.0,433.0 L559.2,433.7 L563.3,434.8 L567.5,435.4 L570.6,433.5 L573.3,431.0 L576.6,429.3 L580.0,428.0 L582.2,425.4 L584.9,423.4 L587.4,421.1 L590.0,419.0 L591.2,415.9 L592.6,412.9 L593.3,409.6 L594.6,406.6 L594.6,402.7 L595.3,398.8 L596.4,395.0 L596.0,391.0 L593.4,387.2 L590.0,384.0"/><path d="M585.0,445.0 L586.3,448.3 L587.2,451.7 L588.3,455.1 L590.4,458.0 L592.8,460.3 L594.3,463.3 L596.4,465.7 L598.6,468.2 L601.4,470.1 L603.0,473.0 L600.8,479.0 L602.8,481.6 L603.5,484.8 L604.1,488.0 L606.1,490.6 L607.0,493.8 L607.8,497.3 L608.9,500.8 L608.8,504.5 L609.4,508.1 L611.1,511.4 L611.7,515.0 L610.7,518.5 L612.1,522.0 L610.6,525.5 L610.3,529.0 L611.3,532.5 L610.2,536.0 L610.3,539.5 L609.4,543.0 L610.0,546.5 L610.2,550.0 L609.3,553.4 L608.4,556.8 L608.4,560.3 L608.7,563.8 L608.7,567.2 L606.9,570.5 L607.4,574.1 L607.0,577.5 L603.4,579.2 L601.2,582.7 L597.4,584.2 L594.6,587.0 L593.6,590.5 L592.9,594.1 L593.9,597.9 L592.7,601.4 L592.8,605.1 L591.5,608.6 L591.8,612.5 L593.2,616.2 L593.7,620.0 L594.7,623.4 L597.2,625.9 L598.3,629.2 L599.8,632.3 L602.0,635.0 L601.2,638.1 L599.4,640.9 L597.5,643.5 L597.0,646.8 L595.6,650.1 L594.5,653.6 L593.2,657.0 L591.0,659.9 L590.6,663.7 L588.7,666.8 L588.1,670.1 L587.8,673.4 L587.3,676.7 L587.0,680.0 L590.2,682.4 L592.4,685.9 L595.4,688.5"/><path d="M607.0,493.8 L609.6,490.7 L613.0,488.5 L616.2,490.3 L619.6,491.7 L621.2,495.0 L622.8,498.4 L623.8,502.0 L626.9,504.0 L630.0,506.0 L633.3,507.5 L636.5,509.0 L637.0,512.2 L637.6,515.3 L638.0,518.5 L642.0,518.6 L646.1,519.1 L650.0,520.0 L653.2,520.3 L656.4,519.7 L659.6,520.3 L662.8,520.5 L666.0,520.0"/>
</g>
<g fill="#71be86" stroke="#0a1a12" stroke-width="1.5" stroke-linejoin="round"><path d="M700.6,419.8 L701.5,424.8 L696.3,430.6 L690.0,436.0 L686.0,439.5 L680.0,439.0 L677.0,437.5 L683.3,432.0 L689.0,422.5 L694.8,418.3 Z"/><path d="M665.0,460.0 L671.0,459.5 L676.0,462.0 L677.5,468.0 L675.0,474.0 L676.0,480.0 L672.0,484.0 L667.0,482.0 L666.0,476.0 L662.5,472.0 L663.0,465.0 Z"/><path d="M668.0,464.0 L673.0,465.0 L673.5,470.0 L669.0,471.5 L666.5,468.0 Z"/><path d="M668.0,475.0 L672.0,474.5 L673.0,479.0 L669.5,481.0 Z"/></g>
<g fill="none" stroke="#0a1a12" stroke-width="2.4" stroke-linejoin="round" stroke-linecap="round"><path d="M673.0,405.0 L675.0,400.0 L677.0,402.0 L678.5,397.5 L680.5,399.0 L681.5,403.0"/><path d="M688.0,405.0 L689.5,398.0 L691.0,392.0 L693.5,388.5 L695.0,392.0"/><path d="M698.0,411.0 L699.0,404.0 L701.5,399.5 L703.0,402.5 L706.0,400.5"/><path d="M656.0,489.5 L658.0,486.5 L660.0,489.0 L662.5,486.0 L664.5,489.5 L667.0,487.0"/><path d="M641.0,851.0 L643.5,846.0 L646.0,849.0 L648.5,843.0 L651.5,845.0 L653.0,840.0"/></g>

<!-- icons -->
<g>
<use href="#t2" x="463.3" y="69.3"/><use href="#t2" x="279" y="120"/><use href="#t2" x="431" y="155.7"/><use href="#t2" x="343.3" y="224.3"/><use href="#t2" x="251" y="271.7"/><use href="#t2" x="447.3" y="255"/><use href="#t2" x="443" y="348.4"/><use href="#t2" x="325.6" y="352.4"/><use href="#t2" x="582" y="100.7"/><use href="#t2" x="679" y="80"/><use href="#t2" x="555.1" y="196.6"/><use href="#t2" x="650.5" y="204.6"/><use href="#t2" x="353" y="456.5"/><use href="#t2" x="483.3" y="466.5"/>
<use href="#t3" x="748.5" y="167.2"/><use href="#t3" x="728.5" y="250.8"/><use href="#t3" x="614.9" y="258.8"/><use href="#t3" x="790.8" y="311.4"/><use href="#t3" x="548.9" y="344.9"/><use href="#t3" x="659.2" y="339.1"/><use href="#t3" x="724.8" y="396.3"/><use href="#t3" x="583.5" y="430.8"/><use href="#t3" x="200.6" y="344.9"/><use href="#t3" x="232.6" y="439.8"/><use href="#t3" x="243.6" y="529.7"/><use href="#t3" x="360.1" y="554"/><use href="#t3" x="563.5" y="538"/><use href="#t3" x="480.6" y="584.3"/><use href="#t3" x="578.2" y="638.2"/>
<use href="#t4" x="654" y="504.5"/><use href="#t4" x="653.9" y="671.1"/><use href="#t4" x="611.3" y="824.3"/>
<use href="#t5" x="74.3" y="218.3"/><use href="#t5" x="55" y="324.5"/><use href="#t5" x="64.8" y="455"/><use href="#t5" x="72.2" y="570.2"/>
</g>

<!-- labels -->
<g opacity=".999"><text x="452" y="184.4" textLength="32" lengthAdjust="spacingAndGlyphs" class="reg">NORTE</text><text x="634" y="225.4" textLength="49" lengthAdjust="spacingAndGlyphs" class="reg">NORDESTE</text><text x="254" y="365.4" textLength="73" lengthAdjust="spacingAndGlyphs" class="reg">SÃO FRANCISCO</text><text x="430" y="400.4" textLength="105" lengthAdjust="spacingAndGlyphs" class="reg">CHAPADA DIAMANTINA</text><text x="97" y="414.9" textLength="29" lengthAdjust="spacingAndGlyphs" class="reg">OESTE</text><text x="636" y="416.4" textLength="56" lengthAdjust="spacingAndGlyphs" class="reg">RECÔNCAVO</text><text x="486" y="568.4" textLength="49" lengthAdjust="spacingAndGlyphs" class="reg">SUDOESTE</text><text x="618" y="704.4" textLength="18" lengthAdjust="spacingAndGlyphs" class="reg">SUL</text></g>
<g opacity=".999"><path d="M401,129.8 L405.2,134 L401,138.2 L396.8,134 Z" fill="#0c1a1a"/><path d="M537,111.8 L541.2,116 L537,120.2 L532.8,116 Z" fill="#0c1a1a"/><path d="M735,110.8 L739.2,115 L735,119.2 L730.8,115 Z" fill="#0c1a1a"/><path d="M300,199.8 L304.2,204 L300,208.2 L295.8,204 Z" fill="#0c1a1a"/><path d="M482,297.8 L486.2,302 L482,306.2 L477.8,302 Z" fill="#0c1a1a"/><path d="M303,342.8 L307.2,347 L303,351.2 L298.8,347 Z" fill="#0c1a1a"/><path d="M152,355.8 L156.2,360 L152,364.2 L147.8,360 Z" fill="#0c1a1a"/><path d="M671,359.8 L675.2,364 L671,368.2 L666.8,364 Z" fill="#0c1a1a"/><path d="M556,382.8 L560.2,387 L556,391.2 L551.8,387 Z" fill="#0c1a1a"/><path d="M419,427.8 L423.2,432 L419,436.2 L414.8,432 Z" fill="#0c1a1a"/><path d="M711,422.8 L715.2,427 L711,431.2 L706.8,427 Z" fill="#0c1a1a"/><path d="M291,449.8 L295.2,454 L291,458.2 L286.8,454 Z" fill="#0c1a1a"/><path d="M575,498.8 L579.2,503 L575,507.2 L570.8,503 Z" fill="#0c1a1a"/><path d="M196,532.8 L200.2,537 L196,541.2 L191.8,537 Z" fill="#0c1a1a"/><path d="M664,579.8 L668.2,584 L664,588.2 L659.8,584 Z" fill="#0c1a1a"/><path d="M511,585.8 L515.2,590 L511,594.2 L506.8,590 Z" fill="#0c1a1a"/><path d="M619,717.8 L623.2,722 L619,726.2 L614.8,722 Z" fill="#0c1a1a"/><text x="351" y="133.9" textLength="59" lengthAdjust="spacingAndGlyphs" class="city">REMANSO</text><text x="510" y="113.9" textLength="56" lengthAdjust="spacingAndGlyphs" class="city">JUAZEIRO</text><text x="736" y="112.9" textLength="88" lengthAdjust="spacingAndGlyphs" class="city">PAULO AFONSO</text><text x="302" y="202.9" textLength="38" lengthAdjust="spacingAndGlyphs" class="city">BARRA</text><text x="566" y="211.9" textLength="115" lengthAdjust="spacingAndGlyphs" class="city">SENHOR DO BONFIM</text><text x="56" y="235.9" textLength="138" lengthAdjust="spacingAndGlyphs" class="city">FORMOSA DO RIO PRETO</text><text x="484" y="300.9" textLength="112" lengthAdjust="spacingAndGlyphs" class="city">MORRO DO CHAPÉU</text><text x="783" y="323.9" textLength="40" lengthAdjust="spacingAndGlyphs" class="city">CONDE</text><text x="304" y="346.9" textLength="65" lengthAdjust="spacingAndGlyphs" class="city">IBOTIRAMA</text><text x="93" y="355.9" textLength="63" lengthAdjust="spacingAndGlyphs" class="city">BARREIRAS</text><text x="672" y="363.9" textLength="107" lengthAdjust="spacingAndGlyphs" class="city">FEIRA DE SANTANA</text><text x="492" y="386.9" textLength="64" lengthAdjust="spacingAndGlyphs" class="city">ITABERABA</text><text x="421" y="430.9" textLength="31" lengthAdjust="spacingAndGlyphs" class="city">PIATÃ</text><text x="712" y="435.9" textLength="60" lengthAdjust="spacingAndGlyphs" class="city">SALVADOR</text><text x="233" y="451.9" textLength="116" lengthAdjust="spacingAndGlyphs" class="city">BOM JESUS DA LAPA</text><text x="556" y="501.9" textLength="40" lengthAdjust="spacingAndGlyphs" class="city">JEQUIÉ</text><text x="198" y="547.9" textLength="39" lengthAdjust="spacingAndGlyphs" class="city">COCOS</text><text x="665" y="582.9" textLength="41" lengthAdjust="spacingAndGlyphs" class="city">ILHÉUS</text><text x="444" y="588.9" textLength="135" lengthAdjust="spacingAndGlyphs" class="city">VITÓRIA DA CONQUISTA</text><text x="553" y="720.9" textLength="64" lengthAdjust="spacingAndGlyphs" class="city">EUNÁPOLIS</text><text x="550" y="840.9" textLength="118" lengthAdjust="spacingAndGlyphs" class="city">TEIXEIRA DE FREITAS</text></g>

<!-- legend -->
<rect x="711.5" y="467.5" width="241" height="425" fill="#fff" stroke="#c9d6ea" stroke-width="1"/><use href="#t1" transform="translate(733.6,486) scale(1.05)"/><text x="818.8" y="490.7" textLength="78.5" lengthAdjust="spacingAndGlyphs" class="leg">Ensolarado</text><use href="#t2" transform="translate(732.4,532.8) scale(0.8)"/><text x="774.5" y="530.7" textLength="167" lengthAdjust="spacingAndGlyphs" class="leg">Parcialmente Nublado a</text><text x="839.2" y="547.7" textLength="37.5" lengthAdjust="spacingAndGlyphs" class="leg">Claro</text><use href="#t3" transform="translate(736.7,575.9) scale(0.83)"/><text x="780.5" y="587.7" textLength="155" lengthAdjust="spacingAndGlyphs" class="leg">Parcialmente Nublado</text><use href="#t4" transform="translate(729.2,623.6) scale(0.75)"/><text x="780.5" y="631.7" textLength="155" lengthAdjust="spacingAndGlyphs" class="leg">Parcialmente Nublado</text><text x="790.5" y="647.7" textLength="135" lengthAdjust="spacingAndGlyphs" class="leg">com Chuvas Fracas</text><use href="#t5" transform="translate(723.6,670.5) scale(0.76)"/><text x="775.0" y="676.7" textLength="166" lengthAdjust="spacingAndGlyphs" class="leg">Nublado a Parcialmente</text><text x="783.5" y="693.7" textLength="149" lengthAdjust="spacingAndGlyphs" class="leg">Nublado com Chuvas</text><use href="#l6" transform="translate(733,729) scale(1)"/><text x="828.5" y="733.7" textLength="59" lengthAdjust="spacingAndGlyphs" class="leg">Nublado</text><use href="#l7" transform="translate(731.6,766.6) scale(0.72)"/><text x="783.5" y="773.7" textLength="149" lengthAdjust="spacingAndGlyphs" class="leg">Nublado com Chuvas</text><text x="835.5" y="790.7" textLength="45" lengthAdjust="spacingAndGlyphs" class="leg">Fracas</text><use href="#l8" transform="translate(733,822) scale(1)"/><text x="783.5" y="822.7" textLength="149" lengthAdjust="spacingAndGlyphs" class="leg">Nublado com Chuvas</text><text x="819.8" y="839.7" textLength="76.5" lengthAdjust="spacingAndGlyphs" class="leg">Moderadas</text><use href="#t9" transform="translate(732,864) scale(0.77)"/><text x="783.5" y="871.7" textLength="149" lengthAdjust="spacingAndGlyphs" class="leg">Nublado com Chuvas</text><text x="790.5" y="887.7" textLength="135" lengthAdjust="spacingAndGlyphs" class="leg">Fortes e Trovoadas</text>

<!-- logos box -->
<rect x="14.5" y="758.5" width="225" height="134" fill="#fff" stroke="#aeb7c9" stroke-width="1"/>
<text x="47" y="806" textLength="144" lengthAdjust="spacingAndGlyphs" style="font-weight:bold;font-size:44px;fill:#14589f;stroke:#14589f;stroke-width:1.6px">ınema</text>
<circle cx="53.8" cy="776" r="4.6" fill="#6cc24a"/>
<text x="48.8" y="815.8" textLength="142" lengthAdjust="spacingAndGlyphs" style="font-size:7.6px;fill:#3c3c3c">INSTITUTO DO MEIO AMBIENTE E RECURSOS HÍDRICOS</text>
<text x="42" y="857.5" textLength="141" lengthAdjust="spacingAndGlyphs" style="font-size:27px;fill:#27377a;stroke:#fff;stroke-width:.55px">CLIMATEMPO</text>
<rect x="180" y="846.3" width="14" height="1.6" fill="#9aa0ad"/>
<text x="90" y="873" textLength="97" lengthAdjust="spacingAndGlyphs" style="font-size:10px;font-style:italic;fill:#2e2e2e;stroke:#fff;stroke-width:.25px">A StormGeo Company</text>

<!-- scale box -->
<rect x="244.5" y="758.5" width="196" height="134" fill="#fff" stroke="#aeb7c9" stroke-width="1"/>
<g class="sc">
<text x="253" y="791" text-anchor="middle">0</text>
<text x="292.5" y="791" text-anchor="middle">50</text>
<text x="332" y="791" text-anchor="middle">100</text>
<text x="371.5" y="791" text-anchor="middle">150</text>
<text x="401" y="791" textLength="38.5" lengthAdjust="spacingAndGlyphs">200 km</text>
<path d="M253,802 V810 H411 V802 M292.5,802 V810 M332,802 V810 M371.5,802 V810" fill="none" stroke="#23375e" stroke-width="1.1"/>
<text x="261" y="849" textLength="163" lengthAdjust="spacingAndGlyphs">Datum horizontal: Sirgas 2000</text>
<text x="263" y="862.2" textLength="158.5" lengthAdjust="spacingAndGlyphs">Base cartográfica: IBGE, 2014.</text>
<text x="359" y="875.4" textLength="52.5" lengthAdjust="spacingAndGlyphs">SEI, 2019.</text>
</g>
</svg>
</body></html>
